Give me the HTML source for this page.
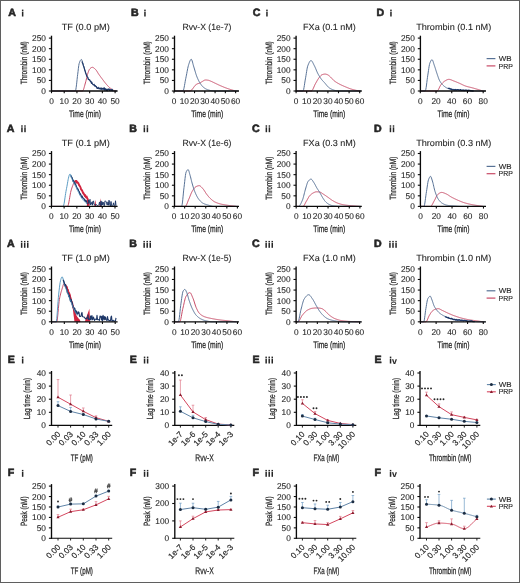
<!DOCTYPE html>
<html><head><meta charset="utf-8"><style>
html,body{margin:0;padding:0;background:#fff;}
body{width:520px;height:583px;overflow:hidden;}
svg{display:block;will-change:transform;text-rendering:geometricPrecision;font-family:"Liberation Sans", sans-serif;}
</style></head><body>
<svg width="520" height="583" viewBox="0 0 520 583">
<rect x="0" y="0" width="520" height="583" fill="#fff"/>
<text x="8.2" y="16" font-size="10.6" text-anchor="start" font-weight="bold" fill="#262626" stroke="#262626" stroke-width="0.6">A</text>
<rect x="21.9" y="11.6" width="1.5" height="4.9" fill="#262626"/>
<rect x="21.9" y="9.6" width="1.5" height="1.45" fill="#262626"/>
<text x="85.75" y="30.1" font-size="8.9" text-anchor="middle" fill="#262626" stroke="#262626" stroke-width="0.1" textLength="48" lengthAdjust="spacingAndGlyphs">TF (0.0 pM)</text>
<path d="M51.5 91 L51.8 91 L52.1 91 L52.4 91 L52.7 91 L53 91 L53.31 91 L53.61 91 L53.91 91 L54.21 91 L54.51 91 L54.81 91 L55.11 91 L55.41 91 L55.71 91 L56.01 91 L56.32 91 L56.62 91 L56.92 91 L57.22 91 L57.52 91 L57.82 91 L58.12 91 L58.42 91 L58.72 91 L59.02 91 L59.33 91 L59.63 91 L59.93 91 L60.23 91 L60.53 91 L60.83 91 L61.13 91 L61.43 91 L61.73 91 L62.03 91 L62.33 91 L62.64 91 L62.94 91 L63.24 91 L63.54 91 L63.84 91 L64.14 91 L64.44 91 L64.74 91 L65.04 91 L65.34 91 L65.65 91 L65.95 91 L66.25 91 L66.55 91 L66.85 91 L67.15 91 L67.45 91 L67.75 91 L68.05 91 L68.35 91 L68.66 91 L68.96 91 L69.26 91 L69.56 91 L69.86 91 L70.16 91 L70.46 91 L70.76 91 L71.06 91 L71.36 91 L71.67 91 L71.97 91 L72.27 91 L72.57 91 L72.87 91 L73.17 91 L73.47 91 L73.77 91 L74.07 91 L74.37 91 L74.67 91 L74.98 91 L75.28 91 L75.58 91 L75.88 91 L76.18 91 L76.48 91 L76.78 91 L77.08 91 L77.38 91 L77.68 91 L77.99 91 L78.29 91 L78.59 91 L78.89 91 L79.19 91 L79.49 91 L79.79 91 L80.09 91 L80.39 91 L80.69 91 L81 91 L81.3 91 L81.6 91 L81.9 91 L82.2 91 L82.5 91 L82.82 90.83 L83.14 90.35 L83.47 89.62 L83.79 88.69 L84.11 87.62 L84.43 86.45 L84.76 85.25 L85.08 84.07 L85.4 82.96 L85.74 81.73 L86.09 80.33 L86.43 78.84 L86.77 77.34 L87.11 75.88 L87.46 74.56 L87.8 73.44 L88.12 72.51 L88.43 71.61 L88.75 70.77 L89.07 70.03 L89.38 69.43 L89.7 68.99 L90.03 68.66 L90.35 68.35 L90.67 68.06 L91 67.81 L91.33 67.6 L91.65 67.44 L91.97 67.34 L92.3 67.3 L92.62 67.33 L92.94 67.43 L93.26 67.57 L93.58 67.77 L93.9 67.99 L94.22 68.25 L94.54 68.53 L94.86 68.82 L95.18 69.12 L95.5 69.42 L95.83 69.75 L96.16 70.16 L96.49 70.62 L96.82 71.11 L97.15 71.64 L97.48 72.19 L97.81 72.74 L98.14 73.28 L98.47 73.8 L98.8 74.28 L99.1 74.71 L99.4 75.13 L99.7 75.54 L100 75.95 L100.3 76.37 L100.6 76.77 L100.9 77.18 L101.2 77.58 L101.5 77.98 L101.8 78.38 L102.1 78.78 L102.4 79.18 L102.7 79.57 L103.02 79.99 L103.33 80.42 L103.65 80.84 L103.97 81.26 L104.28 81.69 L104.6 82.11 L104.92 82.52 L105.23 82.93 L105.55 83.32 L105.87 83.71 L106.18 84.08 L106.5 84.44 L106.8 84.77 L107.1 85.1 L107.4 85.43 L107.7 85.75 L108 86.06 L108.3 86.37 L108.6 86.67 L108.9 86.96 L109.2 87.24 L109.5 87.51 L109.8 87.77 L110.1 88.02 L110.4 88.25 L110.72 88.49 L111.03 88.72 L111.35 88.96 L111.67 89.19 L111.98 89.41 L112.3 89.62 L112.62 89.82 L112.93 90 L113.25 90.17 L113.57 90.33 L113.88 90.46 L114.2 90.58 L114.56 90.68 L114.92 90.77 L115.28 90.85 L115.64 90.92 L116 91" fill="none" stroke="#c84a66" stroke-width="1"/>
<path d="M51.5 91 L51.8 91 L52.1 91 L52.4 91 L52.71 91 L53.01 91 L53.31 91 L53.61 91 L53.91 91 L54.21 91 L54.51 91 L54.81 91 L55.12 91 L55.42 91 L55.72 91 L56.02 91 L56.32 91 L56.62 91 L56.92 91 L57.22 91 L57.53 91 L57.83 91 L58.13 91 L58.43 91 L58.73 91 L59.03 91 L59.33 91 L59.63 91 L59.94 91 L60.24 91 L60.54 91 L60.84 91 L61.14 91 L61.44 91 L61.74 91 L62.04 91 L62.35 91 L62.65 91 L62.95 91 L63.25 91 L63.55 91 L63.85 91 L64.15 91 L64.45 91 L64.76 91 L65.06 91 L65.36 91 L65.66 91 L65.96 91 L66.26 91 L66.56 91 L66.86 91 L67.17 91 L67.47 91 L67.77 91 L68.07 91 L68.37 91 L68.67 91 L68.97 91 L69.27 91 L69.58 91 L69.88 91 L70.18 91 L70.48 91 L70.78 91 L71.08 91 L71.38 91 L71.68 91 L71.99 91 L72.29 91 L72.59 91 L72.89 91 L73.19 91 L73.49 91 L73.79 91 L74.09 91 L74.4 91 L74.7 91 L75 91 L75.3 91 L75.6 90.52 L75.9 89.21 L76.2 87.25 L76.5 84.82 L76.8 82.13 L77.1 79.35 L77.4 76.67 L77.7 74.28 L78.05 71.41 L78.4 68.27 L78.75 65.5 L79.1 63.7 L79.42 62.72 L79.74 61.83 L80.06 61.04 L80.39 60.39 L80.71 59.9 L81.03 59.58 L81.35 59.47 L81.66 59.7 L81.96 60.31 L82.27 61.2 L82.58 62.28 L82.89 63.44 L83.19 64.58 L83.5 65.61 L83.8 66.56 L84.1 67.56 L84.4 68.6 L84.7 69.65 L85 70.68 L85.3 71.67 L85.6 72.6 L85.9 73.44 L86.24 74.33 L86.59 75.18 L86.93 76 L87.27 76.77 L87.61 77.49 L87.96 78.14 L88.3 78.73 L88.62 79.23 L88.94 79.69 L89.27 80.12 L89.59 80.53 L89.91 80.92 L90.23 81.29 L90.56 81.64 L90.88 81.99 L91.2 82.32 L91.52 82.65 L91.83 82.97 L92.15 83.28 L92.47 83.58 L92.78 83.87 L93.1 84.15 L93.42 84.43 L93.73 84.7 L94.05 84.96 L94.37 85.22 L94.68 85.47 L95 85.71 L95.32 85.96 L95.63 86.21 L95.95 86.46 L96.27 86.72 L96.58 86.97 L96.9 87.21 L97.22 87.44 L97.53 87.65 L97.85 87.84 L98.17 88 L98.48 88.14 L98.8 88.25 L99.11 88.33 L99.41 88.41 L99.72 88.48 L100.03 88.54 L100.33 88.6 L100.64 88.65 L100.94 88.7 L101.25 88.75 L101.56 88.79 L101.86 88.84 L102.17 88.88 L102.47 88.92 L102.78 88.96 L103.09 89 L103.39 89.05 L103.7 89.1 L104 89.14 L104.31 89.19 L104.61 89.23 L104.92 89.27 L105.22 89.32 L105.53 89.36 L105.83 89.4 L106.14 89.44 L106.44 89.48 L106.75 89.52 L107.05 89.55 L107.35 89.59 L107.66 89.63 L107.96 89.68 L108.27 89.72 L108.57 89.76 L108.88 89.8 L109.18 89.85 L109.49 89.9 L109.79 89.94 L110.1 89.99 L110.4 90.05 L110.72 90.11 L111.03 90.18 L111.35 90.26 L111.67 90.35 L111.98 90.44 L112.3 90.53 L112.62 90.61 L112.93 90.69 L113.25 90.76 L113.57 90.82 L113.88 90.87 L114.2 90.89 L114.51 90.91 L114.82 90.93 L115.13 90.94 L115.44 90.95 L115.76 90.96 L116.07 90.97 L116.38 90.98 L116.69 90.99 L117 91" fill="none" stroke="#587296" stroke-width="1"/>
<polyline points="82,61.51 82.45,62.98 82.9,63.74 83.35,65.64 83.8,66.55 84.25,68.2 84.7,70.03 85.15,70.98 85.6,73.01 86.05,73.85 86.5,75.3 86.95,76.28 87.4,76.84 87.85,77.29 88.3,79.26 88.75,79.69 89.2,79.65 89.65,79.72 90.1,80.84 90.55,81.68 91,81.28 91.45,83.32 91.9,82.32 92.35,83.73 92.8,84.42 93.25,84.89 93.7,84.94 94.15,84.29 94.6,86.05 95.05,85.56 95.5,85.71 95.95,86.66 96.4,86.52 96.85,88.11 97.3,88.42 97.75,88.33 98.2,87.37 98.65,88.34 99.1,88.8 99.55,88.15 100,88.58 100.45,89.07 100.9,87.83 101.35,88.16 101.8,89.45 102.25,88.65 102.7,88.86 103.15,88 103.6,88.47 104.05,89.71 104.5,87.93 104.95,90.29 105.4,89.56 105.85,88.72 106.3,90.39 106.75,89.56 107.2,90.82 107.65,89.21 108.1,89.02 108.55,89.59 109,88.85 109.45,90.41 109.9,89.46 110.35,89.79 110.8,89.92 111.25,90.35 111.7,89.43 112.15,89.25 112.6,90.61 113.05,90.2" fill="none" stroke="#1d3768" stroke-width="1.15" stroke-linejoin="round"/>
<line x1="51.5" y1="35.7" x2="51.5" y2="91.5" stroke="#0a0a0a" stroke-width="1.35"/>
<line x1="48.9" y1="91" x2="51.5" y2="91" stroke="#0a0a0a" stroke-width="1.1"/>
<text x="45.9" y="93.99" font-size="8.3" text-anchor="end" fill="#262626" stroke="#262626" stroke-width="0.1">0</text>
<line x1="48.9" y1="80.42" x2="51.5" y2="80.42" stroke="#0a0a0a" stroke-width="1.1"/>
<text x="45.9" y="83.41" font-size="8.3" text-anchor="end" fill="#262626" stroke="#262626" stroke-width="0.1">50</text>
<line x1="48.9" y1="69.84" x2="51.5" y2="69.84" stroke="#0a0a0a" stroke-width="1.1"/>
<text x="45.9" y="72.83" font-size="8.3" text-anchor="end" fill="#262626" stroke="#262626" stroke-width="0.1">100</text>
<line x1="48.9" y1="59.26" x2="51.5" y2="59.26" stroke="#0a0a0a" stroke-width="1.1"/>
<text x="45.9" y="62.25" font-size="8.3" text-anchor="end" fill="#262626" stroke="#262626" stroke-width="0.1">150</text>
<line x1="48.9" y1="48.68" x2="51.5" y2="48.68" stroke="#0a0a0a" stroke-width="1.1"/>
<text x="45.9" y="51.67" font-size="8.3" text-anchor="end" fill="#262626" stroke="#262626" stroke-width="0.1">200</text>
<line x1="48.9" y1="38.1" x2="51.5" y2="38.1" stroke="#0a0a0a" stroke-width="1.1"/>
<text x="45.9" y="41.09" font-size="8.3" text-anchor="end" fill="#262626" stroke="#262626" stroke-width="0.1">250</text>
<text transform="translate(26.9 62.75) rotate(-90)" x="0" y="0" font-size="9" text-anchor="middle" fill="#262626" stroke="#262626" stroke-width="0.25" textLength="43.1" lengthAdjust="spacingAndGlyphs">Thrombin (nM)</text>
<line x1="51" y1="91" x2="117.6" y2="91" stroke="#0a0a0a" stroke-width="1.35"/>
<line x1="51.5" y1="91" x2="51.5" y2="93.2" stroke="#0a0a0a" stroke-width="1.1"/>
<text x="51.5" y="103.7" font-size="8.3" text-anchor="middle" fill="#262626" stroke="#262626" stroke-width="0.1">0</text>
<line x1="64.22" y1="91" x2="64.22" y2="93.2" stroke="#0a0a0a" stroke-width="1.1"/>
<text x="64.22" y="103.7" font-size="8.3" text-anchor="middle" fill="#262626" stroke="#262626" stroke-width="0.1">10</text>
<line x1="76.94" y1="91" x2="76.94" y2="93.2" stroke="#0a0a0a" stroke-width="1.1"/>
<text x="76.94" y="103.7" font-size="8.3" text-anchor="middle" fill="#262626" stroke="#262626" stroke-width="0.1">20</text>
<line x1="89.66" y1="91" x2="89.66" y2="93.2" stroke="#0a0a0a" stroke-width="1.1"/>
<text x="89.66" y="103.7" font-size="8.3" text-anchor="middle" fill="#262626" stroke="#262626" stroke-width="0.1">30</text>
<line x1="102.38" y1="91" x2="102.38" y2="93.2" stroke="#0a0a0a" stroke-width="1.1"/>
<text x="102.38" y="103.7" font-size="8.3" text-anchor="middle" fill="#262626" stroke="#262626" stroke-width="0.1">40</text>
<line x1="115.1" y1="91" x2="115.1" y2="93.2" stroke="#0a0a0a" stroke-width="1.1"/>
<text x="115.1" y="103.7" font-size="8.3" text-anchor="middle" fill="#262626" stroke="#262626" stroke-width="0.1">50</text>
<text x="84.95" y="116.7" font-size="9.6" text-anchor="middle" fill="#262626" stroke="#262626" stroke-width="0.25" textLength="32" lengthAdjust="spacingAndGlyphs">Time (min)</text>
<text x="131.1" y="16" font-size="10.6" text-anchor="start" font-weight="bold" fill="#262626" stroke="#262626" stroke-width="0.6">B</text>
<rect x="144.2" y="11.6" width="1.5" height="4.9" fill="#262626"/>
<rect x="144.2" y="9.6" width="1.5" height="1.45" fill="#262626"/>
<text x="206.95" y="30.1" font-size="8.9" text-anchor="middle" fill="#262626" stroke="#262626" stroke-width="0.1" textLength="49" lengthAdjust="spacingAndGlyphs">Rvv-X (1e-7)</text>
<path d="M174.5 91 L174.8 91 L175.1 91 L175.4 91 L175.7 91 L176 91 L176.3 91 L176.6 91 L176.9 91 L177.2 91 L177.5 91 L177.8 91 L178.1 91 L178.4 91 L178.7 91 L179 91 L179.3 91 L179.6 91 L179.9 91 L180.2 91 L180.5 91 L180.8 91 L181.1 91 L181.4 91 L181.7 91 L182 91 L182.3 91 L182.6 91 L182.9 91 L183.2 91 L183.5 91 L183.8 91 L184.1 91 L184.4 91 L184.7 91 L185 91 L185.3 91 L185.6 91 L185.9 91 L186.2 91 L186.5 91 L186.8 91 L187.1 91 L187.4 91 L187.7 91 L188 91 L188.3 91 L188.6 91 L188.9 91 L189.2 91 L189.5 91 L189.8 91 L190.14 90.95 L190.48 90.82 L190.82 90.62 L191.16 90.4 L191.5 90.15 L191.83 89.86 L192.17 89.47 L192.5 89.02 L192.83 88.54 L193.17 88.06 L193.5 87.61 L193.83 87.17 L194.17 86.71 L194.5 86.24 L194.83 85.8 L195.17 85.4 L195.5 85.08 L195.83 84.8 L196.17 84.56 L196.5 84.33 L196.83 84.13 L197.17 83.96 L197.5 83.81 L197.83 83.68 L198.17 83.58 L198.5 83.48 L198.83 83.39 L199.17 83.29 L199.5 83.17 L199.81 83.03 L200.12 82.86 L200.44 82.67 L200.75 82.47 L201.06 82.26 L201.38 82.06 L201.69 81.87 L202 81.69 L202.32 81.51 L202.64 81.31 L202.95 81.11 L203.27 80.9 L203.59 80.7 L203.91 80.52 L204.23 80.35 L204.55 80.2 L204.86 80.09 L205.18 80.02 L205.5 80 L205.81 80 L206.12 80.01 L206.44 80.03 L206.75 80.06 L207.06 80.09 L207.38 80.13 L207.69 80.17 L208 80.21 L208.3 80.26 L208.6 80.33 L208.9 80.42 L209.2 80.52 L209.5 80.64 L209.8 80.76 L210.1 80.89 L210.4 81.02 L210.7 81.14 L211 81.27 L211.33 81.4 L211.65 81.54 L211.98 81.69 L212.31 81.85 L212.64 82 L212.96 82.16 L213.29 82.32 L213.62 82.48 L213.95 82.64 L214.27 82.8 L214.6 82.96 L214.9 83.1 L215.2 83.24 L215.5 83.39 L215.8 83.53 L216.1 83.67 L216.4 83.82 L216.7 83.96 L217 84.11 L217.3 84.25 L217.6 84.39 L217.9 84.54 L218.2 84.68 L218.5 84.82 L218.8 84.96 L219.1 85.1 L219.4 85.23 L219.7 85.37 L220 85.5 L220.31 85.63 L220.62 85.77 L220.93 85.9 L221.24 86.04 L221.55 86.17 L221.86 86.3 L222.17 86.43 L222.48 86.56 L222.79 86.69 L223.1 86.82 L223.41 86.95 L223.72 87.08 L224.03 87.2 L224.34 87.33 L224.65 87.45 L224.96 87.57 L225.27 87.69 L225.58 87.81 L225.89 87.92 L226.2 88.04 L226.5 88.15 L226.8 88.26 L227.1 88.36 L227.4 88.47 L227.7 88.57 L228 88.68 L228.3 88.78 L228.6 88.88 L228.9 88.98 L229.2 89.08 L229.5 89.18 L229.8 89.28 L230.1 89.37 L230.4 89.47 L230.7 89.56 L231 89.66 L231.3 89.75 L231.6 89.85 L231.9 89.94 L232.23 90.04 L232.55 90.14 L232.88 90.24 L233.21 90.34 L233.54 90.43 L233.86 90.53 L234.19 90.62 L234.52 90.71 L234.85 90.81 L235.17 90.9 L235.5 91" fill="none" stroke="#c84a66" stroke-width="1"/>
<path d="M174.5 91 L174.8 91 L175.1 91 L175.4 91 L175.7 91 L176 91 L176.3 91 L176.6 91 L176.9 91 L177.2 91 L177.5 91 L177.8 91 L178.1 91 L178.4 91 L178.7 91 L179 91 L179.3 91 L179.6 91 L179.9 91 L180.2 91 L180.5 91 L180.8 91 L181.1 91 L181.4 91 L181.7 91 L182 91 L182.3 91 L182.6 91 L182.9 91 L183.22 90.71 L183.54 89.9 L183.87 88.69 L184.19 87.15 L184.51 85.41 L184.83 83.55 L185.16 81.68 L185.48 79.9 L185.8 78.3 L186.12 76.77 L186.44 75.12 L186.77 73.4 L187.09 71.68 L187.41 69.99 L187.73 68.38 L188.06 66.91 L188.38 65.61 L188.7 64.55 L189.01 63.63 L189.32 62.7 L189.64 61.81 L189.95 61 L190.26 60.3 L190.57 59.75 L190.89 59.39 L191.2 59.26 L191.52 59.48 L191.85 60.08 L192.18 60.97 L192.5 62.07 L192.82 63.3 L193.15 64.57 L193.48 65.79 L193.8 66.88 L194.12 67.9 L194.44 68.96 L194.77 70.06 L195.09 71.17 L195.41 72.26 L195.73 73.34 L196.06 74.36 L196.38 75.32 L196.7 76.19 L197.02 77 L197.34 77.77 L197.67 78.52 L197.99 79.24 L198.31 79.92 L198.63 80.57 L198.96 81.19 L199.28 81.78 L199.6 82.32 L199.92 82.84 L200.24 83.35 L200.55 83.85 L200.87 84.32 L201.19 84.78 L201.51 85.22 L201.83 85.63 L202.15 86.02 L202.46 86.37 L202.78 86.69 L203.1 86.98 L203.41 87.23 L203.71 87.48 L204.02 87.71 L204.33 87.94 L204.63 88.15 L204.94 88.36 L205.25 88.55 L205.55 88.74 L205.86 88.91 L206.17 89.08 L206.47 89.23 L206.78 89.37 L207.09 89.5 L207.39 89.62 L207.7 89.73 L208.01 89.83 L208.31 89.93 L208.62 90.02 L208.93 90.11 L209.23 90.19 L209.54 90.27 L209.85 90.35 L210.15 90.42 L210.46 90.49 L210.77 90.55 L211.07 90.61 L211.38 90.66 L211.69 90.71 L211.99 90.75 L212.3 90.79 L212.64 90.83 L212.98 90.86 L213.31 90.9 L213.65 90.93 L213.99 90.96 L214.32 90.98 L214.66 91 L215 91 L215.3 91 L215.61 91 L215.91 91 L216.21 91 L216.51 91 L216.82 91 L217.12 91 L217.42 91 L217.72 91 L218.03 91 L218.33 91 L218.63 91 L218.93 91 L219.24 91 L219.54 91 L219.84 91 L220.14 91 L220.45 91 L220.75 91 L221.05 91 L221.36 91 L221.66 91 L221.96 91 L222.26 91 L222.57 91 L222.87 91 L223.17 91 L223.47 91 L223.78 91 L224.08 91 L224.38 91 L224.68 91 L224.99 91 L225.29 91 L225.59 91 L225.89 91 L226.2 91 L226.5 91 L226.8 91 L227.11 91 L227.41 91 L227.71 91 L228.01 91 L228.32 91 L228.62 91 L228.92 91 L229.22 91 L229.53 91 L229.83 91 L230.13 91 L230.43 91 L230.74 91 L231.04 91 L231.34 91 L231.64 91 L231.95 91 L232.25 91 L232.55 91 L232.86 91 L233.16 91 L233.46 91 L233.76 91 L234.07 91 L234.37 91 L234.67 91 L234.97 91 L235.28 91 L235.58 91 L235.88 91 L236.18 91 L236.49 91 L236.79 91 L237.09 91 L237.39 91 L237.7 91 L238 91" fill="none" stroke="#587296" stroke-width="1"/>
<line x1="174.5" y1="35.7" x2="174.5" y2="91.5" stroke="#0a0a0a" stroke-width="1.35"/>
<line x1="171.9" y1="91" x2="174.5" y2="91" stroke="#0a0a0a" stroke-width="1.1"/>
<text x="168.9" y="93.99" font-size="8.3" text-anchor="end" fill="#262626" stroke="#262626" stroke-width="0.1">0</text>
<line x1="171.9" y1="80.42" x2="174.5" y2="80.42" stroke="#0a0a0a" stroke-width="1.1"/>
<text x="168.9" y="83.41" font-size="8.3" text-anchor="end" fill="#262626" stroke="#262626" stroke-width="0.1">50</text>
<line x1="171.9" y1="69.84" x2="174.5" y2="69.84" stroke="#0a0a0a" stroke-width="1.1"/>
<text x="168.9" y="72.83" font-size="8.3" text-anchor="end" fill="#262626" stroke="#262626" stroke-width="0.1">100</text>
<line x1="171.9" y1="59.26" x2="174.5" y2="59.26" stroke="#0a0a0a" stroke-width="1.1"/>
<text x="168.9" y="62.25" font-size="8.3" text-anchor="end" fill="#262626" stroke="#262626" stroke-width="0.1">150</text>
<line x1="171.9" y1="48.68" x2="174.5" y2="48.68" stroke="#0a0a0a" stroke-width="1.1"/>
<text x="168.9" y="51.67" font-size="8.3" text-anchor="end" fill="#262626" stroke="#262626" stroke-width="0.1">200</text>
<line x1="171.9" y1="38.1" x2="174.5" y2="38.1" stroke="#0a0a0a" stroke-width="1.1"/>
<text x="168.9" y="41.09" font-size="8.3" text-anchor="end" fill="#262626" stroke="#262626" stroke-width="0.1">250</text>
<text transform="translate(149.9 62.75) rotate(-90)" x="0" y="0" font-size="9" text-anchor="middle" fill="#262626" stroke="#262626" stroke-width="0.25" textLength="43.1" lengthAdjust="spacingAndGlyphs">Thrombin (nM)</text>
<line x1="174" y1="91" x2="239" y2="91" stroke="#0a0a0a" stroke-width="1.35"/>
<line x1="174" y1="91" x2="174" y2="93.2" stroke="#0a0a0a" stroke-width="1.1"/>
<text x="174" y="103.7" font-size="8.3" text-anchor="middle" fill="#262626" stroke="#262626" stroke-width="0.1">0</text>
<line x1="184.27" y1="91" x2="184.27" y2="93.2" stroke="#0a0a0a" stroke-width="1.1"/>
<text x="184.27" y="103.7" font-size="8.3" text-anchor="middle" fill="#262626" stroke="#262626" stroke-width="0.1">10</text>
<line x1="194.54" y1="91" x2="194.54" y2="93.2" stroke="#0a0a0a" stroke-width="1.1"/>
<text x="194.54" y="103.7" font-size="8.3" text-anchor="middle" fill="#262626" stroke="#262626" stroke-width="0.1">20</text>
<line x1="204.81" y1="91" x2="204.81" y2="93.2" stroke="#0a0a0a" stroke-width="1.1"/>
<text x="204.81" y="103.7" font-size="8.3" text-anchor="middle" fill="#262626" stroke="#262626" stroke-width="0.1">30</text>
<line x1="215.08" y1="91" x2="215.08" y2="93.2" stroke="#0a0a0a" stroke-width="1.1"/>
<text x="215.08" y="103.7" font-size="8.3" text-anchor="middle" fill="#262626" stroke="#262626" stroke-width="0.1">40</text>
<line x1="225.35" y1="91" x2="225.35" y2="93.2" stroke="#0a0a0a" stroke-width="1.1"/>
<text x="225.35" y="103.7" font-size="8.3" text-anchor="middle" fill="#262626" stroke="#262626" stroke-width="0.1">50</text>
<line x1="235.62" y1="91" x2="235.62" y2="93.2" stroke="#0a0a0a" stroke-width="1.1"/>
<text x="235.62" y="103.7" font-size="8.3" text-anchor="middle" fill="#262626" stroke="#262626" stroke-width="0.1">60</text>
<text x="207.15" y="116.7" font-size="9.6" text-anchor="middle" fill="#262626" stroke="#262626" stroke-width="0.25" textLength="32" lengthAdjust="spacingAndGlyphs">Time (min)</text>
<text x="252.8" y="16" font-size="10.6" text-anchor="start" font-weight="bold" fill="#262626" stroke="#262626" stroke-width="0.6">C</text>
<rect x="266.2" y="11.6" width="1.5" height="4.9" fill="#262626"/>
<rect x="266.2" y="9.6" width="1.5" height="1.45" fill="#262626"/>
<text x="329.45" y="30.1" font-size="8.9" text-anchor="middle" fill="#262626" stroke="#262626" stroke-width="0.1" textLength="52.7" lengthAdjust="spacingAndGlyphs">FXa (0.1 nM)</text>
<path d="M296.1 91 L296.4 91 L296.71 91 L297.01 91 L297.32 91 L297.62 91 L297.92 91 L298.23 91 L298.53 91 L298.84 91 L299.14 91 L299.44 91 L299.75 91 L300.05 91 L300.36 91 L300.66 91 L300.96 91 L301.27 91 L301.57 91 L301.88 91 L302.18 91 L302.48 91 L302.79 91 L303.09 91 L303.4 91 L303.7 91 L304 91 L304.31 91 L304.61 91 L304.92 91 L305.22 91 L305.52 91 L305.83 91 L306.13 91 L306.44 91 L306.74 91 L307.04 91 L307.35 91 L307.65 91 L307.96 91 L308.26 91 L308.56 91 L308.87 91 L309.17 91 L309.48 91 L309.78 91 L310.08 91 L310.39 91 L310.69 91 L311 91 L311.3 91 L311.62 90.91 L311.95 90.67 L312.27 90.29 L312.59 89.8 L312.92 89.21 L313.24 88.54 L313.56 87.83 L313.88 87.08 L314.21 86.32 L314.53 85.57 L314.85 84.85 L315.18 84.19 L315.5 83.59 L315.8 83.08 L316.1 82.55 L316.4 82.01 L316.7 81.48 L317 80.94 L317.3 80.42 L317.6 79.9 L317.9 79.41 L318.2 78.93 L318.5 78.48 L318.8 78.06 L319.1 77.67 L319.4 77.3 L319.7 76.92 L320 76.56 L320.3 76.2 L320.6 75.86 L320.9 75.55 L321.2 75.27 L321.5 75.03 L321.8 74.84 L322.1 74.71 L322.42 74.59 L322.74 74.49 L323.07 74.39 L323.39 74.3 L323.71 74.22 L324.03 74.16 L324.36 74.11 L324.68 74.08 L325 74.07 L325.31 74.09 L325.62 74.13 L325.94 74.19 L326.25 74.27 L326.56 74.37 L326.88 74.48 L327.19 74.59 L327.5 74.71 L327.8 74.84 L328.1 75.01 L328.4 75.21 L328.7 75.44 L329 75.68 L329.3 75.94 L329.6 76.21 L329.9 76.49 L330.2 76.77 L330.5 77.03 L330.82 77.33 L331.14 77.65 L331.45 77.98 L331.77 78.33 L332.09 78.69 L332.41 79.05 L332.73 79.4 L333.05 79.74 L333.36 80.06 L333.68 80.36 L334 80.63 L334.31 80.88 L334.62 81.12 L334.94 81.35 L335.25 81.57 L335.56 81.79 L335.87 82 L336.18 82.2 L336.49 82.4 L336.81 82.6 L337.12 82.79 L337.43 82.97 L337.74 83.15 L338.05 83.33 L338.36 83.51 L338.68 83.68 L338.99 83.85 L339.3 84.02 L339.6 84.18 L339.9 84.33 L340.2 84.48 L340.5 84.63 L340.8 84.78 L341.1 84.92 L341.4 85.07 L341.7 85.21 L342 85.34 L342.3 85.48 L342.6 85.61 L342.9 85.75 L343.2 85.88 L343.5 86.01 L343.8 86.13 L344.1 86.26 L344.4 86.39 L344.7 86.52 L345 86.64 L345.3 86.77 L345.6 86.89 L345.9 87.02 L346.2 87.15 L346.5 87.27 L346.8 87.4 L347.1 87.53 L347.4 87.65 L347.7 87.77 L348 87.9 L348.3 88.02 L348.6 88.14 L348.9 88.26 L349.2 88.37 L349.5 88.48 L349.8 88.59 L350.1 88.7 L350.4 88.8 L350.7 88.91 L351 89 L351.3 89.1 L351.61 89.19 L351.92 89.28 L352.23 89.37 L352.54 89.46 L352.85 89.55 L353.16 89.64 L353.47 89.72 L353.78 89.8 L354.09 89.89 L354.41 89.96 L354.72 90.04 L355.03 90.12 L355.34 90.19 L355.65 90.26 L355.96 90.33 L356.27 90.39 L356.58 90.46 L356.89 90.52 L357.2 90.58 L357.51 90.63 L357.82 90.68 L358.13 90.73 L358.44 90.78 L358.76 90.82 L359.07 90.87 L359.38 90.91 L359.69 90.95 L360 91" fill="none" stroke="#c84a66" stroke-width="1"/>
<path d="M296.1 91 L296.41 91 L296.73 91 L297.04 91 L297.35 91 L297.67 91 L297.98 91 L298.3 91 L298.61 91 L298.92 91 L299.24 91 L299.55 91 L299.86 91 L300.18 91 L300.49 91 L300.8 91 L301.12 91 L301.43 91 L301.75 91 L302.06 91 L302.37 91 L302.69 91 L303 91 L303.34 90.55 L303.69 89.34 L304.03 87.57 L304.37 85.44 L304.71 83.16 L305.06 80.93 L305.4 78.94 L305.7 77.26 L306 75.41 L306.3 73.5 L306.6 71.59 L306.9 69.78 L307.2 68.16 L307.5 66.81 L307.8 65.82 L308.12 65 L308.44 64.2 L308.76 63.45 L309.08 62.76 L309.4 62.13 L309.72 61.59 L310.04 61.15 L310.36 60.81 L310.68 60.6 L311 60.53 L311.3 60.6 L311.6 60.81 L311.9 61.13 L312.2 61.55 L312.5 62.05 L312.8 62.6 L313.1 63.2 L313.4 63.82 L313.7 64.44 L314 65.04 L314.3 65.61 L314.63 66.24 L314.95 66.92 L315.28 67.66 L315.61 68.43 L315.94 69.21 L316.26 70.01 L316.59 70.8 L316.92 71.57 L317.25 72.31 L317.57 73.01 L317.9 73.65 L318.2 74.2 L318.5 74.74 L318.8 75.26 L319.1 75.78 L319.4 76.28 L319.7 76.76 L320 77.23 L320.3 77.69 L320.6 78.13 L320.9 78.56 L321.2 78.97 L321.5 79.36 L321.82 79.76 L322.14 80.14 L322.47 80.5 L322.79 80.85 L323.11 81.19 L323.43 81.52 L323.76 81.85 L324.08 82.19 L324.4 82.54 L324.7 82.87 L325 83.22 L325.3 83.58 L325.6 83.95 L325.9 84.32 L326.2 84.7 L326.5 85.07 L326.8 85.44 L327.1 85.79 L327.4 86.14 L327.7 86.48 L328 86.79 L328.3 87.09 L328.6 87.36 L328.9 87.61 L329.2 87.83 L329.5 88.02 L329.8 88.21 L330.1 88.4 L330.4 88.57 L330.7 88.74 L331 88.9 L331.3 89.06 L331.6 89.2 L331.9 89.34 L332.2 89.48 L332.5 89.6 L332.8 89.73 L333.1 89.84 L333.4 89.95 L333.7 90.06 L334 90.15 L334.3 90.25 L334.6 90.35 L334.9 90.44 L335.2 90.53 L335.5 90.62 L335.8 90.7 L336.1 90.77 L336.4 90.82 L336.7 90.87 L337 90.89 L337.3 90.91 L337.6 90.93 L337.9 90.94 L338.2 90.96 L338.5 90.97 L338.8 90.98 L339.1 90.99 L339.4 90.99 L339.7 91 L340 91 L340.3 91 L340.6 91 L340.9 91 L341.2 91 L341.5 91 L341.8 91 L342.1 91 L342.4 91 L342.7 91 L343 91 L343.3 91 L343.6 91 L343.9 91 L344.2 91 L344.5 91 L344.8 91 L345.1 91 L345.4 91 L345.7 91 L346 91 L346.3 91 L346.6 91 L346.9 91 L347.2 91 L347.5 91 L347.8 91 L348.1 91 L348.4 91 L348.7 91 L349 91 L349.3 91 L349.6 91 L349.9 91 L350.2 91 L350.5 91 L350.8 91 L351.1 91 L351.4 91 L351.7 91 L352 91 L352.3 91 L352.6 91 L352.9 91 L353.2 91 L353.5 91 L353.8 91 L354.1 91 L354.4 91 L354.7 91 L355 91 L355.3 91 L355.6 91 L355.9 91 L356.2 91 L356.5 91 L356.8 91 L357.1 91 L357.4 91 L357.7 91 L358 91 L358.3 91 L358.6 91 L358.9 91 L359.2 91 L359.5 91 L359.8 91 L360.1 91 L360.4 91 L360.7 91 L361 91" fill="none" stroke="#587296" stroke-width="1"/>
<line x1="296.1" y1="35.7" x2="296.1" y2="91.5" stroke="#0a0a0a" stroke-width="1.35"/>
<line x1="293.5" y1="91" x2="296.1" y2="91" stroke="#0a0a0a" stroke-width="1.1"/>
<text x="290.5" y="93.99" font-size="8.3" text-anchor="end" fill="#262626" stroke="#262626" stroke-width="0.1">0</text>
<line x1="293.5" y1="80.42" x2="296.1" y2="80.42" stroke="#0a0a0a" stroke-width="1.1"/>
<text x="290.5" y="83.41" font-size="8.3" text-anchor="end" fill="#262626" stroke="#262626" stroke-width="0.1">50</text>
<line x1="293.5" y1="69.84" x2="296.1" y2="69.84" stroke="#0a0a0a" stroke-width="1.1"/>
<text x="290.5" y="72.83" font-size="8.3" text-anchor="end" fill="#262626" stroke="#262626" stroke-width="0.1">100</text>
<line x1="293.5" y1="59.26" x2="296.1" y2="59.26" stroke="#0a0a0a" stroke-width="1.1"/>
<text x="290.5" y="62.25" font-size="8.3" text-anchor="end" fill="#262626" stroke="#262626" stroke-width="0.1">150</text>
<line x1="293.5" y1="48.68" x2="296.1" y2="48.68" stroke="#0a0a0a" stroke-width="1.1"/>
<text x="290.5" y="51.67" font-size="8.3" text-anchor="end" fill="#262626" stroke="#262626" stroke-width="0.1">200</text>
<line x1="293.5" y1="38.1" x2="296.1" y2="38.1" stroke="#0a0a0a" stroke-width="1.1"/>
<text x="290.5" y="41.09" font-size="8.3" text-anchor="end" fill="#262626" stroke="#262626" stroke-width="0.1">250</text>
<text transform="translate(271.5 62.75) rotate(-90)" x="0" y="0" font-size="9" text-anchor="middle" fill="#262626" stroke="#262626" stroke-width="0.25" textLength="43.1" lengthAdjust="spacingAndGlyphs">Thrombin (nM)</text>
<line x1="295.6" y1="91" x2="361.8" y2="91" stroke="#0a0a0a" stroke-width="1.35"/>
<line x1="296.1" y1="91" x2="296.1" y2="93.2" stroke="#0a0a0a" stroke-width="1.1"/>
<text x="296.1" y="103.7" font-size="8.3" text-anchor="middle" fill="#262626" stroke="#262626" stroke-width="0.1">0</text>
<line x1="306.7" y1="91" x2="306.7" y2="93.2" stroke="#0a0a0a" stroke-width="1.1"/>
<text x="306.7" y="103.7" font-size="8.3" text-anchor="middle" fill="#262626" stroke="#262626" stroke-width="0.1">10</text>
<line x1="317.3" y1="91" x2="317.3" y2="93.2" stroke="#0a0a0a" stroke-width="1.1"/>
<text x="317.3" y="103.7" font-size="8.3" text-anchor="middle" fill="#262626" stroke="#262626" stroke-width="0.1">20</text>
<line x1="327.9" y1="91" x2="327.9" y2="93.2" stroke="#0a0a0a" stroke-width="1.1"/>
<text x="327.9" y="103.7" font-size="8.3" text-anchor="middle" fill="#262626" stroke="#262626" stroke-width="0.1">30</text>
<line x1="338.5" y1="91" x2="338.5" y2="93.2" stroke="#0a0a0a" stroke-width="1.1"/>
<text x="338.5" y="103.7" font-size="8.3" text-anchor="middle" fill="#262626" stroke="#262626" stroke-width="0.1">40</text>
<line x1="349.1" y1="91" x2="349.1" y2="93.2" stroke="#0a0a0a" stroke-width="1.1"/>
<text x="349.1" y="103.7" font-size="8.3" text-anchor="middle" fill="#262626" stroke="#262626" stroke-width="0.1">50</text>
<line x1="359.7" y1="91" x2="359.7" y2="93.2" stroke="#0a0a0a" stroke-width="1.1"/>
<text x="359.7" y="103.7" font-size="8.3" text-anchor="middle" fill="#262626" stroke="#262626" stroke-width="0.1">60</text>
<text x="329.35" y="116.7" font-size="9.6" text-anchor="middle" fill="#262626" stroke="#262626" stroke-width="0.25" textLength="32" lengthAdjust="spacingAndGlyphs">Time (min)</text>
<text x="376.6" y="16" font-size="10.6" text-anchor="start" font-weight="bold" fill="#262626" stroke="#262626" stroke-width="0.6">D</text>
<rect x="390.2" y="11.6" width="1.5" height="4.9" fill="#262626"/>
<rect x="390.2" y="9.6" width="1.5" height="1.45" fill="#262626"/>
<text x="453.7" y="30.1" font-size="8.9" text-anchor="middle" fill="#262626" stroke="#262626" stroke-width="0.1" textLength="75.1" lengthAdjust="spacingAndGlyphs">Thrombin (0.1 nM)</text>
<path d="M420.4 91 L420.7 91 L421 91 L421.31 91 L421.61 91 L421.91 91 L422.21 91 L422.51 91 L422.81 91 L423.12 91 L423.42 91 L423.72 91 L424.02 91 L424.32 91 L424.63 91 L424.93 91 L425.23 91 L425.53 91 L425.83 91 L426.13 91 L426.44 91 L426.74 91 L427.04 91 L427.34 91 L427.64 91 L427.95 91 L428.25 91 L428.55 91 L428.85 91 L429.15 91 L429.45 91 L429.76 91 L430.06 91 L430.36 91 L430.66 91 L430.96 91 L431.27 91 L431.57 91 L431.87 91 L432.17 91 L432.47 91 L432.77 91 L433.08 91 L433.38 91 L433.68 91 L433.98 91 L434.28 91 L434.59 91 L434.89 91 L435.19 91 L435.49 91 L435.79 91 L436.09 91 L436.4 91 L436.7 91 L437 91 L437.32 90.91 L437.65 90.65 L437.98 90.26 L438.3 89.76 L438.62 89.17 L438.95 88.52 L439.27 87.84 L439.6 87.15 L439.92 86.48 L440.25 85.86 L440.57 85.31 L440.9 84.86 L441.2 84.5 L441.5 84.15 L441.8 83.8 L442.1 83.46 L442.4 83.13 L442.7 82.81 L443 82.51 L443.3 82.22 L443.6 81.95 L443.9 81.69 L444.2 81.46 L444.5 81.24 L444.8 81.05 L445.11 80.87 L445.42 80.69 L445.72 80.5 L446.03 80.32 L446.34 80.15 L446.65 79.99 L446.95 79.84 L447.26 79.71 L447.57 79.59 L447.88 79.49 L448.18 79.42 L448.49 79.38 L448.8 79.36 L449.11 79.37 L449.41 79.4 L449.72 79.45 L450.02 79.52 L450.33 79.6 L450.64 79.69 L450.94 79.8 L451.25 79.91 L451.55 80.03 L451.86 80.16 L452.16 80.29 L452.47 80.43 L452.78 80.56 L453.08 80.69 L453.39 80.82 L453.69 80.94 L454 81.05 L454.31 81.17 L454.61 81.28 L454.92 81.4 L455.22 81.52 L455.53 81.64 L455.84 81.76 L456.14 81.88 L456.45 82.01 L456.75 82.13 L457.06 82.26 L457.36 82.39 L457.67 82.52 L457.98 82.65 L458.28 82.78 L458.59 82.91 L458.89 83.04 L459.2 83.17 L459.5 83.3 L459.8 83.43 L460.1 83.57 L460.4 83.71 L460.7 83.86 L461 84 L461.3 84.15 L461.6 84.29 L461.9 84.44 L462.2 84.59 L462.5 84.73 L462.8 84.88 L463.1 85.02 L463.4 85.16 L463.7 85.3 L464 85.43 L464.3 85.56 L464.6 85.69 L464.9 85.81 L465.2 85.92 L465.5 86.03 L465.8 86.13 L466.11 86.23 L466.42 86.33 L466.73 86.42 L467.04 86.51 L467.35 86.59 L467.66 86.68 L467.97 86.76 L468.28 86.83 L468.59 86.91 L468.9 86.99 L469.2 87.06 L469.51 87.13 L469.82 87.21 L470.13 87.28 L470.44 87.35 L470.75 87.43 L471.06 87.5 L471.37 87.58 L471.68 87.66 L471.99 87.74 L472.3 87.83 L472.61 87.91 L472.92 88 L473.23 88.08 L473.54 88.17 L473.85 88.26 L474.16 88.35 L474.47 88.44 L474.78 88.53 L475.09 88.62 L475.4 88.71 L475.7 88.8 L476.01 88.89 L476.32 88.98 L476.63 89.08 L476.94 89.17 L477.25 89.26 L477.56 89.35 L477.87 89.45 L478.18 89.54 L478.49 89.64 L478.8 89.73 L479.11 89.82 L479.42 89.92 L479.72 90.02 L480.03 90.11 L480.34 90.21 L480.65 90.31 L480.95 90.41 L481.26 90.51 L481.57 90.61 L481.88 90.71 L482.18 90.8 L482.49 90.9 L482.8 91" fill="none" stroke="#c84a66" stroke-width="1"/>
<path d="M420.4 91 L420.7 91 L421 91 L421.3 91 L421.6 91 L421.9 91 L422.2 91 L422.5 91 L422.8 91 L423.1 91 L423.4 91 L423.7 91 L424 91 L424.3 91 L424.6 91 L424.9 91 L425.2 91 L425.52 90.53 L425.85 89.25 L426.18 87.35 L426.5 85.02 L426.82 82.44 L427.15 79.81 L427.48 77.31 L427.8 75.13 L428.13 72.98 L428.47 70.66 L428.8 68.35 L429.13 66.23 L429.47 64.48 L429.8 63.28 L430.11 62.48 L430.43 61.74 L430.74 61.07 L431.06 60.5 L431.37 60.06 L431.69 59.78 L432 59.68 L432.34 59.9 L432.69 60.47 L433.03 61.32 L433.37 62.36 L433.71 63.47 L434.06 64.59 L434.4 65.61 L434.72 66.53 L435.05 67.52 L435.38 68.54 L435.7 69.59 L436.02 70.64 L436.35 71.68 L436.68 72.69 L437 73.65 L437.32 74.6 L437.65 75.57 L437.98 76.54 L438.3 77.48 L438.62 78.39 L438.95 79.23 L439.28 79.98 L439.6 80.63 L439.93 81.21 L440.26 81.76 L440.59 82.28 L440.92 82.77 L441.25 83.22 L441.58 83.65 L441.91 84.04 L442.24 84.41 L442.57 84.76 L442.9 85.08 L443.21 85.36 L443.51 85.63 L443.82 85.9 L444.13 86.16 L444.43 86.41 L444.74 86.65 L445.05 86.88 L445.35 87.1 L445.66 87.31 L445.97 87.5 L446.27 87.68 L446.58 87.85 L446.89 88 L447.19 88.13 L447.5 88.25 L447.81 88.36 L448.12 88.46 L448.43 88.56 L448.74 88.66 L449.05 88.76 L449.36 88.85 L449.67 88.93 L449.98 89.02 L450.29 89.1 L450.6 89.18 L450.9 89.25 L451.21 89.32 L451.52 89.38 L451.83 89.44 L452.14 89.5 L452.45 89.55 L452.76 89.59 L453.07 89.63 L453.38 89.67 L453.69 89.7 L454 89.73 L454.31 89.75 L454.61 89.78 L454.92 89.8 L455.23 89.82 L455.53 89.83 L455.84 89.85 L456.15 89.87 L456.45 89.88 L456.76 89.9 L457.07 89.91 L457.37 89.92 L457.68 89.94 L457.99 89.95 L458.29 89.96 L458.6 89.97 L458.91 89.98 L459.21 89.99 L459.52 90 L459.83 90.01 L460.13 90.02 L460.44 90.03 L460.75 90.04 L461.05 90.06 L461.36 90.07 L461.67 90.08 L461.97 90.09 L462.28 90.11 L462.59 90.12 L462.89 90.14 L463.2 90.15 L463.5 90.17 L463.81 90.19 L464.11 90.21 L464.41 90.23 L464.72 90.25 L465.02 90.27 L465.32 90.3 L465.63 90.32 L465.93 90.34 L466.23 90.37 L466.54 90.39 L466.84 90.42 L467.14 90.44 L467.45 90.47 L467.75 90.49 L468.05 90.51 L468.36 90.54 L468.66 90.56 L468.96 90.59 L469.27 90.61 L469.57 90.63 L469.87 90.65 L470.18 90.67 L470.48 90.69 L470.78 90.71 L471.09 90.73 L471.39 90.75 L471.69 90.76 L472 90.78 L472.3 90.79 L472.61 90.8 L472.92 90.81 L473.22 90.82 L473.53 90.84 L473.84 90.85 L474.15 90.86 L474.46 90.87 L474.76 90.88 L475.07 90.9 L475.38 90.91 L475.69 90.92 L476 90.93 L476.3 90.94 L476.61 90.95 L476.92 90.95 L477.23 90.96 L477.54 90.97 L477.84 90.98 L478.15 90.98 L478.46 90.99 L478.77 90.99 L479.08 91 L479.38 91 L479.69 91 L480 91 L480.31 91 L480.62 91 L480.94 91 L481.25 91 L481.56 91 L481.88 91 L482.19 91 L482.5 91 L482.81 91 L483.12 91 L483.44 91 L483.75 91 L484.06 91 L484.38 91 L484.69 91 L485 91" fill="none" stroke="#587296" stroke-width="1"/>
<polyline points="448,88.69 448.45,88.32 448.9,88.46 449.35,88.31 449.8,88.53 450.25,89.04 450.7,89.06 451.15,88.96 451.6,89.54 452.05,89.31 452.5,89.63 452.95,89.77 453.4,89.92 453.85,89.5 454.3,90.02 454.75,89.95 455.2,89.87 455.65,89.53 456.1,90.14 456.55,89.89 457,89.83 457.45,89.61 457.9,89.67 458.35,89.66 458.8,90.12 459.25,90.03 459.7,90.1 460.15,89.73 460.6,89.7 461.05,90.31 461.5,90.32 461.95,90.29 462.4,90.31 462.85,90.15 463.3,90.09 463.75,90.37 464.2,90.59 464.65,90.31 465.1,90.38 465.55,90.27 466,90.01 466.45,90.24 466.9,90.4 467.35,90.36 467.8,90.34 468.25,90.84 468.7,90.24 469.15,90.36 469.6,90.32 470.05,90.41 470.5,90.74 470.95,90.77 471.4,91 471.85,90.66 472.3,91 472.75,91 473.2,91 473.65,91" fill="none" stroke="#1d3768" stroke-width="1.3" stroke-linejoin="round"/>
<line x1="420.4" y1="35.7" x2="420.4" y2="91.5" stroke="#0a0a0a" stroke-width="1.35"/>
<line x1="417.8" y1="91" x2="420.4" y2="91" stroke="#0a0a0a" stroke-width="1.1"/>
<text x="414.8" y="93.99" font-size="8.3" text-anchor="end" fill="#262626" stroke="#262626" stroke-width="0.1">0</text>
<line x1="417.8" y1="80.42" x2="420.4" y2="80.42" stroke="#0a0a0a" stroke-width="1.1"/>
<text x="414.8" y="83.41" font-size="8.3" text-anchor="end" fill="#262626" stroke="#262626" stroke-width="0.1">50</text>
<line x1="417.8" y1="69.84" x2="420.4" y2="69.84" stroke="#0a0a0a" stroke-width="1.1"/>
<text x="414.8" y="72.83" font-size="8.3" text-anchor="end" fill="#262626" stroke="#262626" stroke-width="0.1">100</text>
<line x1="417.8" y1="59.26" x2="420.4" y2="59.26" stroke="#0a0a0a" stroke-width="1.1"/>
<text x="414.8" y="62.25" font-size="8.3" text-anchor="end" fill="#262626" stroke="#262626" stroke-width="0.1">150</text>
<line x1="417.8" y1="48.68" x2="420.4" y2="48.68" stroke="#0a0a0a" stroke-width="1.1"/>
<text x="414.8" y="51.67" font-size="8.3" text-anchor="end" fill="#262626" stroke="#262626" stroke-width="0.1">200</text>
<line x1="417.8" y1="38.1" x2="420.4" y2="38.1" stroke="#0a0a0a" stroke-width="1.1"/>
<text x="414.8" y="41.09" font-size="8.3" text-anchor="end" fill="#262626" stroke="#262626" stroke-width="0.1">250</text>
<text transform="translate(395.8 62.75) rotate(-90)" x="0" y="0" font-size="9" text-anchor="middle" fill="#262626" stroke="#262626" stroke-width="0.25" textLength="43.1" lengthAdjust="spacingAndGlyphs">Thrombin (nM)</text>
<line x1="419.9" y1="91" x2="486" y2="91" stroke="#0a0a0a" stroke-width="1.35"/>
<line x1="420.3" y1="91" x2="420.3" y2="93.2" stroke="#0a0a0a" stroke-width="1.1"/>
<text x="420.3" y="103.7" font-size="8.3" text-anchor="middle" fill="#262626" stroke="#262626" stroke-width="0.1">0</text>
<line x1="436.02" y1="91" x2="436.02" y2="93.2" stroke="#0a0a0a" stroke-width="1.1"/>
<text x="436.02" y="103.7" font-size="8.3" text-anchor="middle" fill="#262626" stroke="#262626" stroke-width="0.1">20</text>
<line x1="451.74" y1="91" x2="451.74" y2="93.2" stroke="#0a0a0a" stroke-width="1.1"/>
<text x="451.74" y="103.7" font-size="8.3" text-anchor="middle" fill="#262626" stroke="#262626" stroke-width="0.1">40</text>
<line x1="467.46" y1="91" x2="467.46" y2="93.2" stroke="#0a0a0a" stroke-width="1.1"/>
<text x="467.46" y="103.7" font-size="8.3" text-anchor="middle" fill="#262626" stroke="#262626" stroke-width="0.1">60</text>
<line x1="483.18" y1="91" x2="483.18" y2="93.2" stroke="#0a0a0a" stroke-width="1.1"/>
<text x="483.18" y="103.7" font-size="8.3" text-anchor="middle" fill="#262626" stroke="#262626" stroke-width="0.1">80</text>
<text x="453.6" y="116.7" font-size="9.6" text-anchor="middle" fill="#262626" stroke="#262626" stroke-width="0.25" textLength="32" lengthAdjust="spacingAndGlyphs">Time (min)</text>
<line x1="486.6" y1="58.6" x2="495.4" y2="58.6" stroke="#587296" stroke-width="1.2"/>
<line x1="486.6" y1="65.9" x2="495.4" y2="65.9" stroke="#c84a66" stroke-width="1.2"/>
<text x="498.7" y="61.2" font-size="7.3" text-anchor="start" fill="#262626" stroke="#262626" stroke-width="0.1" textLength="12.9" lengthAdjust="spacingAndGlyphs">WB</text>
<text x="498.6" y="68.5" font-size="7.3" text-anchor="start" fill="#262626" stroke="#262626" stroke-width="0.1" textLength="14.2" lengthAdjust="spacingAndGlyphs">PRP</text>
<text x="6.8" y="131.7" font-size="10.6" text-anchor="start" font-weight="bold" fill="#262626" stroke="#262626" stroke-width="0.6">A</text>
<rect x="21.2" y="127.3" width="1.5" height="4.9" fill="#262626"/>
<rect x="21.2" y="125.3" width="1.5" height="1.45" fill="#262626"/>
<rect x="24.25" y="127.3" width="1.5" height="4.9" fill="#262626"/>
<rect x="24.25" y="125.3" width="1.5" height="1.45" fill="#262626"/>
<text x="85.75" y="145.5" font-size="8.9" text-anchor="middle" fill="#262626" stroke="#262626" stroke-width="0.1" textLength="48" lengthAdjust="spacingAndGlyphs">TF (0.1 pM)</text>
<path d="M51.4 206.4 L51.7 206.4 L52.01 206.4 L52.31 206.4 L52.62 206.4 L52.92 206.4 L53.22 206.4 L53.53 206.4 L53.83 206.4 L54.13 206.4 L54.44 206.4 L54.74 206.4 L55.05 206.4 L55.35 206.4 L55.65 206.4 L55.96 206.4 L56.26 206.4 L56.56 206.4 L56.87 206.4 L57.17 206.4 L57.48 206.4 L57.78 206.4 L58.08 206.4 L58.39 206.4 L58.69 206.4 L58.99 206.4 L59.3 206.4 L59.6 206.4 L59.91 206.4 L60.21 206.4 L60.51 206.4 L60.82 206.4 L61.12 206.4 L61.42 206.4 L61.73 206.4 L62.03 206.4 L62.34 206.4 L62.64 206.4 L62.94 206.4 L63.25 206.4 L63.55 206.4 L63.85 206.4 L64.16 206.4 L64.46 206.4 L64.77 206.4 L65.07 206.4 L65.37 206.4 L65.68 206.4 L65.98 206.4 L66.28 206.4 L66.59 206.4 L66.89 206.4 L67.2 206.4 L67.5 206.4 L67.81 206.15 L68.12 205.44 L68.44 204.36 L68.75 202.96 L69.06 201.35 L69.38 199.57 L69.69 197.72 L70 195.86 L70.31 194.08 L70.62 192.44 L70.94 191.02 L71.25 189.9 L71.56 188.94 L71.88 188 L72.2 187.09 L72.51 186.22 L72.83 185.4 L73.14 184.64 L73.45 183.96 L73.77 183.36 L74.09 182.87 L74.4 182.49 L74.71 182.18 L75.02 181.88 L75.33 181.62 L75.63 181.41 L75.94 181.27 L76.25 181.22 L76.56 181.28 L76.88 181.46 L77.2 181.73 L77.51 182.09 L77.83 182.51 L78.14 182.98 L78.45 183.48 L78.77 184 L79.09 184.52 L79.4 185.03 L79.71 185.56 L80.02 186.18 L80.33 186.86 L80.64 187.59 L80.95 188.35 L81.26 189.11 L81.57 189.85 L81.88 190.56 L82.19 191.22 L82.5 191.8 L82.81 192.32 L83.12 192.81 L83.43 193.28 L83.74 193.73 L84.05 194.16 L84.36 194.58 L84.67 194.99 L84.98 195.41 L85.29 195.82 L85.6 196.24 L85.92 196.68 L86.23 197.1 L86.55 197.52 L86.87 197.94 L87.18 198.36 L87.5 198.78" fill="none" stroke="#c84a66" stroke-width="1"/>
<path d="M51.4 206.4 L51.7 206.4 L52 206.4 L52.3 206.4 L52.6 206.4 L52.9 206.4 L53.2 206.4 L53.5 206.4 L53.8 206.4 L54.1 206.4 L54.4 206.4 L54.7 206.4 L55 206.4 L55.3 206.4 L55.6 206.4 L55.9 206.4 L56.2 206.4 L56.5 206.4 L56.8 206.4 L57.1 206.4 L57.4 206.4 L57.7 206.4 L58 206.4 L58.3 206.4 L58.6 206.4 L58.9 206.4 L59.2 206.4 L59.5 206.4 L59.8 206.4 L60.1 206.4 L60.4 206.4 L60.7 206.4 L61 206.4 L61.3 206.4 L61.6 206.4 L61.9 206.4 L62.2 206.4 L62.5 206.4 L62.8 206.4 L63.1 206.4 L63.41 206.07 L63.73 205.16 L64.05 203.77 L64.36 202.01 L64.67 200 L64.99 197.84 L65.31 195.64 L65.62 193.51 L65.94 191.56 L66.25 189.9 L66.56 188.35 L66.88 186.68 L67.19 184.94 L67.5 183.17 L67.81 181.43 L68.12 179.76 L68.44 178.21 L68.75 176.84 L69.06 175.68 L69.38 174.79 L69.69 174.23 L70 174.03 L70.31 174.17 L70.62 174.56 L70.94 175.13 L71.25 175.85 L71.56 176.63 L71.88 177.44 L72.19 178.21 L72.5 178.89 L72.81 179.51 L73.12 180.12 L73.44 180.74 L73.75 181.35 L74.06 181.97 L74.38 182.59 L74.69 183.21 L75 183.83 L75.31 184.44 L75.62 185.06 L75.94 185.68 L76.25 186.3 L76.56 186.92 L76.88 187.55 L77.19 188.19 L77.5 188.84 L77.81 189.48 L78.12 190.12 L78.44 190.75 L78.75 191.38 L79.06 191.99 L79.38 192.58 L79.69 193.15 L80 193.7 L80.31 194.24 L80.62 194.77 L80.94 195.3 L81.25 195.81 L81.56 196.32 L81.88 196.82 L82.19 197.3 L82.5 197.76 L82.81 198.21 L83.12 198.63 L83.44 199.04 L83.75 199.42 L84.06 199.78 L84.38 200.12 L84.69 200.44 L85 200.76 L85.31 201.06 L85.62 201.35 L85.94 201.63 L86.25 201.91 L86.56 202.19 L86.88 202.46 L87.19 202.74 L87.5 203.01 L87.81 203.29 L88.12 203.56 L88.44 203.83 L88.75 204.09 L89.06 204.35 L89.38 204.61 L89.69 204.87 L90 205.13" fill="none" stroke="#5c9cc4" stroke-width="1"/>
<polyline points="74.5,182.21 74.9,181.74 75.3,181.37 75.7,180.85 76.1,180.92 76.5,180.81 76.9,182.8 77.3,182.55 77.7,182.22 78.1,183.2 78.5,183.26 78.9,185.08 79.3,184.96 79.7,186.11 80.1,186.48 80.5,187.31 80.9,189.13 81.3,189.66 81.7,190.43 82.1,190.22 82.5,191.35 82.9,192.95 83.3,192.44 83.7,194.13 84.1,193.89 84.5,195.3 84.9,196.08 85.3,195.18 85.7,196.87 86.1,197.39 86.5,196.63 86.9,197.35 87.3,198.87 87.7,198.89 88.1,201.38 88.5,202.92 88.9,204.74 89.3,204.51" fill="none" stroke="#d2243f" stroke-width="1.8" stroke-linejoin="round"/>
<polyline points="70.5,175.66 70.95,175.76 71.4,177.08 71.85,177.36 72.3,178.18 72.75,180.49 73.2,181.51 73.65,180.31 74.1,182.66 74.55,183.62 75,182.57 75.45,184.79 75.9,184.75 76.35,186.56 76.8,187.03 77.25,189.16 77.7,188.82 78.15,189.12 78.6,190.88 79.05,191.22 79.5,192.28 79.95,194.71 80.4,193.66 80.85,194.77 81.3,196.19 81.75,197.56 82.2,196.13 82.65,197.81 83.1,197.87 83.55,198.15 84,199.11 84.45,199.02 84.9,200.79 85.35,200.19 85.8,201.52 86.25,200.71 86.7,201.28 87.15,203.7 87.6,203.99" fill="none" stroke="#1d3768" stroke-width="1.15" stroke-linejoin="round"/>
<polyline points="70,174.66 70.31,175.35 70.62,176.05 70.94,176.74 71.25,177.44 71.56,178.13 71.88,178.82 72.19,179.49 72.5,180.16 72.81,180.82 73.12,181.47 73.44,182.11 73.75,182.75 74.06,183.38 74.38,184.01 74.69,184.64 75,185.26 75.31,185.89 75.62,186.52 75.94,187.15 76.25,187.78 76.56,188.42 76.88,189.08 77.19,189.74 77.5,190.41 77.81,191.08 78.12,191.74 78.44,192.4 78.75,193.04 79.06,193.67 79.38,194.27 79.69,194.85 80,195.4 80.31,195.93 80.62,196.45 80.94,196.96 81.25,197.46 81.56,197.95 81.88,198.42 82.19,198.88 82.5,199.32 82.81,199.75 83.12,200.15 83.44,200.54 83.75,200.9 84.06,201.24 84.38,201.56 84.69,201.86 85,202.15 85.31,202.42 85.62,202.69 85.94,202.95 86.25,203.22 86.56,203.48 86.88,203.74 87.19,204.01 87.5,204.28" fill="none" stroke="#5c9cc4" stroke-width="0.8" stroke-linejoin="round"/>
<path d="M86.8 206.4 L87.8 194.76 L88.8 206.4 Z" fill="#d2243f"/>
<path d="M94.3 206.4 L95.3 199.63 L96.3 206.4 Z" fill="#d2243f"/>
<path d="M99.3 206.4 L100.3 198.36 L101.3 206.4 Z" fill="#d2243f"/>
<polyline points="87,203.55 87.5,203.77 88,203.67 88.5,199.94 89,203.52 89.5,200.67 90,199.36 90.5,204.87 91,203.59 91.5,204.18 92,201.86 92.5,205.16 93,201.4 93.5,200.87 94,204.24 94.5,204.62 95,204.67 95.5,205.26 96,204.22 96.5,204.66 97,205.39 97.5,205.65 98,205.18 98.5,205.22 99,204.56 99.5,201.99 100,205.16 100.5,205.29 101,200.9 101.5,205.52 102,201.76 102.5,204.84 103,202.04 103.5,202.57 104,205.77 104.5,205.39 105,200.79 105.5,201.05 106,201.69 106.5,202.12 107,204.97 107.5,204.87 108,201.85 108.5,205.27 109,200.25 109.5,202.28 110,205.8 110.5,206.21 111,201.48 111.5,205.5 112,205.75 112.5,205.74 113,205.21 113.5,202.84 114,205.35 114.5,206.32 115,205.24 115.5,200.79 116,205.81" fill="none" stroke="#1d3768" stroke-width="1" stroke-linejoin="round"/>
<line x1="51.5" y1="151.1" x2="51.5" y2="206.9" stroke="#0a0a0a" stroke-width="1.35"/>
<line x1="48.9" y1="206.4" x2="51.5" y2="206.4" stroke="#0a0a0a" stroke-width="1.1"/>
<text x="45.9" y="209.39" font-size="8.3" text-anchor="end" fill="#262626" stroke="#262626" stroke-width="0.1">0</text>
<line x1="48.9" y1="195.82" x2="51.5" y2="195.82" stroke="#0a0a0a" stroke-width="1.1"/>
<text x="45.9" y="198.81" font-size="8.3" text-anchor="end" fill="#262626" stroke="#262626" stroke-width="0.1">50</text>
<line x1="48.9" y1="185.24" x2="51.5" y2="185.24" stroke="#0a0a0a" stroke-width="1.1"/>
<text x="45.9" y="188.23" font-size="8.3" text-anchor="end" fill="#262626" stroke="#262626" stroke-width="0.1">100</text>
<line x1="48.9" y1="174.66" x2="51.5" y2="174.66" stroke="#0a0a0a" stroke-width="1.1"/>
<text x="45.9" y="177.65" font-size="8.3" text-anchor="end" fill="#262626" stroke="#262626" stroke-width="0.1">150</text>
<line x1="48.9" y1="164.08" x2="51.5" y2="164.08" stroke="#0a0a0a" stroke-width="1.1"/>
<text x="45.9" y="167.07" font-size="8.3" text-anchor="end" fill="#262626" stroke="#262626" stroke-width="0.1">200</text>
<line x1="48.9" y1="153.5" x2="51.5" y2="153.5" stroke="#0a0a0a" stroke-width="1.1"/>
<text x="45.9" y="156.49" font-size="8.3" text-anchor="end" fill="#262626" stroke="#262626" stroke-width="0.1">250</text>
<text transform="translate(26.9 178.15) rotate(-90)" x="0" y="0" font-size="9" text-anchor="middle" fill="#262626" stroke="#262626" stroke-width="0.25" textLength="43.1" lengthAdjust="spacingAndGlyphs">Thrombin (nM)</text>
<line x1="51" y1="206.4" x2="117.6" y2="206.4" stroke="#0a0a0a" stroke-width="1.35"/>
<line x1="51.4" y1="206.4" x2="51.4" y2="208.6" stroke="#0a0a0a" stroke-width="1.1"/>
<text x="51.4" y="219.1" font-size="8.3" text-anchor="middle" fill="#262626" stroke="#262626" stroke-width="0.1">0</text>
<line x1="64.12" y1="206.4" x2="64.12" y2="208.6" stroke="#0a0a0a" stroke-width="1.1"/>
<text x="64.12" y="219.1" font-size="8.3" text-anchor="middle" fill="#262626" stroke="#262626" stroke-width="0.1">10</text>
<line x1="76.84" y1="206.4" x2="76.84" y2="208.6" stroke="#0a0a0a" stroke-width="1.1"/>
<text x="76.84" y="219.1" font-size="8.3" text-anchor="middle" fill="#262626" stroke="#262626" stroke-width="0.1">20</text>
<line x1="89.56" y1="206.4" x2="89.56" y2="208.6" stroke="#0a0a0a" stroke-width="1.1"/>
<text x="89.56" y="219.1" font-size="8.3" text-anchor="middle" fill="#262626" stroke="#262626" stroke-width="0.1">30</text>
<line x1="102.28" y1="206.4" x2="102.28" y2="208.6" stroke="#0a0a0a" stroke-width="1.1"/>
<text x="102.28" y="219.1" font-size="8.3" text-anchor="middle" fill="#262626" stroke="#262626" stroke-width="0.1">40</text>
<line x1="115" y1="206.4" x2="115" y2="208.6" stroke="#0a0a0a" stroke-width="1.1"/>
<text x="115" y="219.1" font-size="8.3" text-anchor="middle" fill="#262626" stroke="#262626" stroke-width="0.1">50</text>
<text x="84.95" y="232.1" font-size="9.6" text-anchor="middle" fill="#262626" stroke="#262626" stroke-width="0.25" textLength="32" lengthAdjust="spacingAndGlyphs">Time (min)</text>
<text x="129.3" y="131.7" font-size="10.6" text-anchor="start" font-weight="bold" fill="#262626" stroke="#262626" stroke-width="0.6">B</text>
<rect x="143.6" y="127.3" width="1.5" height="4.9" fill="#262626"/>
<rect x="143.6" y="125.3" width="1.5" height="1.45" fill="#262626"/>
<rect x="146.65" y="127.3" width="1.5" height="4.9" fill="#262626"/>
<rect x="146.65" y="125.3" width="1.5" height="1.45" fill="#262626"/>
<text x="206.95" y="145.5" font-size="8.9" text-anchor="middle" fill="#262626" stroke="#262626" stroke-width="0.1" textLength="49" lengthAdjust="spacingAndGlyphs">Rvv-X (1e-6)</text>
<path d="M174.5 206.4 L174.81 206.4 L175.11 206.4 L175.42 206.4 L175.72 206.4 L176.03 206.4 L176.33 206.4 L176.64 206.4 L176.95 206.4 L177.25 206.4 L177.56 206.4 L177.86 206.4 L178.17 206.4 L178.47 206.4 L178.78 206.4 L179.09 206.4 L179.39 206.4 L179.7 206.4 L180 206.4 L180.31 206.4 L180.61 206.4 L180.92 206.4 L181.23 206.4 L181.53 206.4 L181.84 206.4 L182.14 206.4 L182.45 206.4 L182.75 206.4 L183.06 206.4 L183.37 206.4 L183.67 206.4 L183.98 206.4 L184.28 206.4 L184.59 206.4 L184.89 206.4 L185.2 206.4 L185.52 206.29 L185.84 205.99 L186.15 205.53 L186.47 204.93 L186.79 204.22 L187.11 203.44 L187.43 202.61 L187.75 201.77 L188.06 200.93 L188.38 200.14 L188.7 199.42 L189 198.75 L189.3 198.05 L189.6 197.32 L189.9 196.57 L190.2 195.81 L190.5 195.05 L190.8 194.31 L191.1 193.59 L191.4 192.91 L191.7 192.27 L192 191.68 L192.3 191.16 L192.63 190.64 L192.95 190.12 L193.28 189.62 L193.61 189.13 L193.94 188.67 L194.26 188.24 L194.59 187.84 L194.92 187.48 L195.25 187.17 L195.57 186.92 L195.9 186.72 L196.23 186.56 L196.56 186.4 L196.89 186.25 L197.22 186.11 L197.55 185.98 L197.88 185.88 L198.21 185.79 L198.54 185.72 L198.87 185.68 L199.2 185.66 L199.52 185.7 L199.83 185.8 L200.15 185.97 L200.47 186.19 L200.78 186.45 L201.1 186.74 L201.42 187.07 L201.73 187.41 L202.05 187.77 L202.37 188.13 L202.68 188.49 L203 188.84 L203.33 189.21 L203.65 189.64 L203.98 190.1 L204.31 190.6 L204.64 191.11 L204.96 191.64 L205.29 192.17 L205.62 192.69 L205.95 193.2 L206.27 193.68 L206.6 194.13 L206.93 194.55 L207.25 194.98 L207.58 195.4 L207.91 195.81 L208.24 196.21 L208.56 196.61 L208.89 196.99 L209.22 197.35 L209.55 197.71 L209.87 198.04 L210.2 198.36 L210.51 198.65 L210.83 198.94 L211.14 199.22 L211.45 199.5 L211.77 199.77 L212.08 200.04 L212.39 200.29 L212.71 200.54 L213.02 200.78 L213.33 201.01 L213.65 201.22 L213.96 201.43 L214.27 201.62 L214.59 201.8 L214.9 201.96 L215.2 202.1 L215.5 202.24 L215.8 202.38 L216.1 202.51 L216.4 202.63 L216.7 202.76 L217 202.87 L217.3 202.99 L217.6 203.1 L217.9 203.2 L218.2 203.3 L218.5 203.4 L218.8 203.5 L219.1 203.59 L219.4 203.68 L219.7 203.76 L220 203.84 L220.3 203.92 L220.6 204 L220.9 204.07 L221.21 204.15 L221.52 204.22 L221.83 204.28 L222.13 204.35 L222.44 204.41 L222.75 204.48 L223.06 204.54 L223.37 204.59 L223.68 204.65 L223.99 204.71 L224.3 204.76 L224.6 204.81 L224.91 204.87 L225.22 204.92 L225.53 204.97 L225.84 205.02 L226.15 205.06 L226.46 205.11 L226.77 205.16 L227.07 205.2 L227.38 205.25 L227.69 205.3 L228 205.34 L228.3 205.39 L228.6 205.43 L228.9 205.47 L229.2 205.51 L229.5 205.55 L229.8 205.59 L230.1 205.63 L230.4 205.67 L230.7 205.71 L231 205.75 L231.3 205.79 L231.6 205.82 L231.9 205.86 L232.2 205.89 L232.5 205.93 L232.8 205.97 L233.1 206 L233.4 206.04 L233.7 206.07 L234 206.11 L234.3 206.14 L234.6 206.18 L234.9 206.22 L235.2 206.25 L235.5 206.29 L235.8 206.33 L236.1 206.36 L236.4 206.4" fill="none" stroke="#c84a66" stroke-width="1"/>
<path d="M174.5 206.4 L174.81 206.4 L175.12 206.4 L175.43 206.4 L175.73 206.4 L176.04 206.4 L176.35 206.4 L176.66 206.4 L176.97 206.4 L177.28 206.4 L177.59 206.4 L177.9 206.4 L178.2 206.4 L178.51 206.4 L178.82 206.4 L179.13 206.4 L179.44 206.4 L179.75 206.4 L180.06 206.4 L180.37 206.4 L180.67 206.4 L180.98 206.4 L181.29 206.4 L181.6 206.4 L181.9 205.84 L182.2 204.31 L182.5 202.04 L182.8 199.26 L183.1 196.19 L183.4 193.07 L183.7 190.12 L184 187.57 L184.35 184.68 L184.7 181.54 L185.05 178.42 L185.4 175.62 L185.75 173.42 L186.1 172.12 L186.43 171.43 L186.77 170.82 L187.1 170.31 L187.43 169.92 L187.77 169.67 L188.1 169.58 L188.4 169.82 L188.7 170.47 L189 171.39 L189.3 172.48 L189.6 173.61 L189.9 174.66 L190.2 175.69 L190.5 176.83 L190.8 178.03 L191.1 179.28 L191.4 180.52 L191.7 181.74 L192 182.9 L192.3 183.97 L192.6 184.98 L192.9 185.97 L193.2 186.95 L193.5 187.9 L193.8 188.83 L194.1 189.72 L194.4 190.57 L194.7 191.38 L195 192.15 L195.3 192.86 L195.63 193.59 L195.95 194.3 L196.28 194.99 L196.61 195.66 L196.94 196.3 L197.26 196.9 L197.59 197.48 L197.92 198.02 L198.25 198.52 L198.57 198.99 L198.9 199.42 L199.22 199.8 L199.53 200.18 L199.85 200.54 L200.16 200.89 L200.48 201.22 L200.79 201.53 L201.11 201.84 L201.42 202.12 L201.74 202.38 L202.05 202.62 L202.37 202.85 L202.68 203.05 L203 203.23 L203.3 203.38 L203.6 203.53 L203.9 203.67 L204.2 203.8 L204.5 203.92 L204.8 204.05 L205.1 204.16 L205.4 204.27 L205.7 204.38 L206 204.48 L206.3 204.57 L206.6 204.67 L206.9 204.76 L207.2 204.85 L207.5 204.93 L207.8 205.02 L208.1 205.1 L208.4 205.18 L208.7 205.26 L209 205.34 L209.3 205.42 L209.6 205.51 L209.9 205.6 L210.2 205.69 L210.5 205.78 L210.8 205.87 L211.1 205.95 L211.4 206.03 L211.7 206.11 L212 206.18 L212.3 206.24 L212.6 206.3 L212.9 206.34 L213.2 206.37 L213.5 206.39 L213.8 206.4 L214.1 206.4 L214.41 206.4 L214.71 206.4 L215.01 206.4 L215.31 206.4 L215.62 206.4 L215.92 206.4 L216.22 206.4 L216.52 206.4 L216.83 206.4 L217.13 206.4 L217.43 206.4 L217.73 206.4 L218.03 206.4 L218.34 206.4 L218.64 206.4 L218.94 206.4 L219.25 206.4 L219.55 206.4 L219.85 206.4 L220.15 206.4 L220.46 206.4 L220.76 206.4 L221.06 206.4 L221.36 206.4 L221.67 206.4 L221.97 206.4 L222.27 206.4 L222.57 206.4 L222.88 206.4 L223.18 206.4 L223.48 206.4 L223.78 206.4 L224.09 206.4 L224.39 206.4 L224.69 206.4 L224.99 206.4 L225.3 206.4 L225.6 206.4 L225.9 206.4 L226.2 206.4 L226.5 206.4 L226.81 206.4 L227.11 206.4 L227.41 206.4 L227.72 206.4 L228.02 206.4 L228.32 206.4 L228.62 206.4 L228.93 206.4 L229.23 206.4 L229.53 206.4 L229.83 206.4 L230.13 206.4 L230.44 206.4 L230.74 206.4 L231.04 206.4 L231.34 206.4 L231.65 206.4 L231.95 206.4 L232.25 206.4 L232.56 206.4 L232.86 206.4 L233.16 206.4 L233.46 206.4 L233.76 206.4 L234.07 206.4 L234.37 206.4 L234.67 206.4 L234.97 206.4 L235.28 206.4 L235.58 206.4 L235.88 206.4 L236.19 206.4 L236.49 206.4 L236.79 206.4 L237.09 206.4 L237.4 206.4 L237.7 206.4 L238 206.4" fill="none" stroke="#587296" stroke-width="1"/>
<line x1="174.5" y1="151.1" x2="174.5" y2="206.9" stroke="#0a0a0a" stroke-width="1.35"/>
<line x1="171.9" y1="206.4" x2="174.5" y2="206.4" stroke="#0a0a0a" stroke-width="1.1"/>
<text x="168.9" y="209.39" font-size="8.3" text-anchor="end" fill="#262626" stroke="#262626" stroke-width="0.1">0</text>
<line x1="171.9" y1="195.82" x2="174.5" y2="195.82" stroke="#0a0a0a" stroke-width="1.1"/>
<text x="168.9" y="198.81" font-size="8.3" text-anchor="end" fill="#262626" stroke="#262626" stroke-width="0.1">50</text>
<line x1="171.9" y1="185.24" x2="174.5" y2="185.24" stroke="#0a0a0a" stroke-width="1.1"/>
<text x="168.9" y="188.23" font-size="8.3" text-anchor="end" fill="#262626" stroke="#262626" stroke-width="0.1">100</text>
<line x1="171.9" y1="174.66" x2="174.5" y2="174.66" stroke="#0a0a0a" stroke-width="1.1"/>
<text x="168.9" y="177.65" font-size="8.3" text-anchor="end" fill="#262626" stroke="#262626" stroke-width="0.1">150</text>
<line x1="171.9" y1="164.08" x2="174.5" y2="164.08" stroke="#0a0a0a" stroke-width="1.1"/>
<text x="168.9" y="167.07" font-size="8.3" text-anchor="end" fill="#262626" stroke="#262626" stroke-width="0.1">200</text>
<line x1="171.9" y1="153.5" x2="174.5" y2="153.5" stroke="#0a0a0a" stroke-width="1.1"/>
<text x="168.9" y="156.49" font-size="8.3" text-anchor="end" fill="#262626" stroke="#262626" stroke-width="0.1">250</text>
<text transform="translate(149.9 178.15) rotate(-90)" x="0" y="0" font-size="9" text-anchor="middle" fill="#262626" stroke="#262626" stroke-width="0.25" textLength="43.1" lengthAdjust="spacingAndGlyphs">Thrombin (nM)</text>
<line x1="174" y1="206.4" x2="239" y2="206.4" stroke="#0a0a0a" stroke-width="1.35"/>
<line x1="174.1" y1="206.4" x2="174.1" y2="208.6" stroke="#0a0a0a" stroke-width="1.1"/>
<text x="174.1" y="219.1" font-size="8.3" text-anchor="middle" fill="#262626" stroke="#262626" stroke-width="0.1">0</text>
<line x1="184.65" y1="206.4" x2="184.65" y2="208.6" stroke="#0a0a0a" stroke-width="1.1"/>
<text x="184.65" y="219.1" font-size="8.3" text-anchor="middle" fill="#262626" stroke="#262626" stroke-width="0.1">10</text>
<line x1="195.2" y1="206.4" x2="195.2" y2="208.6" stroke="#0a0a0a" stroke-width="1.1"/>
<text x="195.2" y="219.1" font-size="8.3" text-anchor="middle" fill="#262626" stroke="#262626" stroke-width="0.1">20</text>
<line x1="205.75" y1="206.4" x2="205.75" y2="208.6" stroke="#0a0a0a" stroke-width="1.1"/>
<text x="205.75" y="219.1" font-size="8.3" text-anchor="middle" fill="#262626" stroke="#262626" stroke-width="0.1">30</text>
<line x1="216.3" y1="206.4" x2="216.3" y2="208.6" stroke="#0a0a0a" stroke-width="1.1"/>
<text x="216.3" y="219.1" font-size="8.3" text-anchor="middle" fill="#262626" stroke="#262626" stroke-width="0.1">40</text>
<line x1="226.85" y1="206.4" x2="226.85" y2="208.6" stroke="#0a0a0a" stroke-width="1.1"/>
<text x="226.85" y="219.1" font-size="8.3" text-anchor="middle" fill="#262626" stroke="#262626" stroke-width="0.1">50</text>
<line x1="237.4" y1="206.4" x2="237.4" y2="208.6" stroke="#0a0a0a" stroke-width="1.1"/>
<text x="237.4" y="219.1" font-size="8.3" text-anchor="middle" fill="#262626" stroke="#262626" stroke-width="0.1">60</text>
<text x="207.15" y="232.1" font-size="9.6" text-anchor="middle" fill="#262626" stroke="#262626" stroke-width="0.25" textLength="32" lengthAdjust="spacingAndGlyphs">Time (min)</text>
<text x="251.9" y="131.7" font-size="10.6" text-anchor="start" font-weight="bold" fill="#262626" stroke="#262626" stroke-width="0.6">C</text>
<rect x="265.6" y="127.3" width="1.5" height="4.9" fill="#262626"/>
<rect x="265.6" y="125.3" width="1.5" height="1.45" fill="#262626"/>
<rect x="268.65" y="127.3" width="1.5" height="4.9" fill="#262626"/>
<rect x="268.65" y="125.3" width="1.5" height="1.45" fill="#262626"/>
<text x="329.45" y="145.5" font-size="8.9" text-anchor="middle" fill="#262626" stroke="#262626" stroke-width="0.1" textLength="52.7" lengthAdjust="spacingAndGlyphs">FXa (0.3 nM)</text>
<path d="M296.1 206.4 L296.41 206.4 L296.73 206.4 L297.04 206.4 L297.35 206.4 L297.67 206.4 L297.98 206.4 L298.3 206.4 L298.61 206.4 L298.92 206.4 L299.24 206.4 L299.55 206.4 L299.86 206.4 L300.18 206.4 L300.49 206.4 L300.8 206.4 L301.12 206.4 L301.43 206.4 L301.75 206.4 L302.06 206.4 L302.37 206.4 L302.69 206.4 L303 206.4 L303.32 206.31 L303.64 206.05 L303.96 205.66 L304.28 205.17 L304.6 204.59 L304.92 203.97 L305.24 203.32 L305.56 202.68 L305.88 202.08 L306.2 201.53 L306.52 201.02 L306.83 200.48 L307.15 199.92 L307.47 199.34 L307.78 198.77 L308.1 198.2 L308.42 197.64 L308.73 197.11 L309.05 196.61 L309.37 196.15 L309.68 195.75 L310 195.4 L310.32 195.09 L310.63 194.79 L310.95 194.51 L311.27 194.25 L311.58 194 L311.9 193.76 L312.22 193.54 L312.53 193.33 L312.85 193.14 L313.17 192.96 L313.48 192.8 L313.8 192.65 L314.11 192.5 L314.43 192.36 L314.74 192.21 L315.05 192.08 L315.36 191.97 L315.68 191.88 L315.99 191.82 L316.3 191.8 L316.62 191.8 L316.94 191.81 L317.26 191.82 L317.58 191.84 L317.9 191.86 L318.22 191.88 L318.54 191.91 L318.86 191.94 L319.18 191.98 L319.5 192.01 L319.82 192.07 L320.13 192.17 L320.45 192.3 L320.77 192.45 L321.08 192.64 L321.4 192.84 L321.72 193.05 L322.03 193.27 L322.35 193.49 L322.67 193.71 L322.98 193.93 L323.3 194.13 L323.61 194.32 L323.93 194.52 L324.24 194.72 L324.56 194.93 L324.87 195.14 L325.19 195.35 L325.5 195.56 L325.81 195.78 L326.13 196 L326.44 196.22 L326.76 196.44 L327.07 196.65 L327.39 196.87 L327.7 197.09 L328 197.3 L328.3 197.51 L328.6 197.73 L328.9 197.95 L329.2 198.17 L329.5 198.4 L329.8 198.62 L330.1 198.84 L330.4 199.07 L330.7 199.29 L331 199.5 L331.3 199.71 L331.6 199.92 L331.9 200.12 L332.2 200.32 L332.5 200.51 L332.8 200.69 L333.12 200.87 L333.44 201.06 L333.76 201.24 L334.07 201.42 L334.39 201.59 L334.71 201.77 L335.03 201.94 L335.35 202.1 L335.67 202.26 L335.99 202.42 L336.31 202.57 L336.62 202.72 L336.94 202.85 L337.26 202.99 L337.58 203.11 L337.9 203.23 L338.2 203.33 L338.5 203.43 L338.8 203.54 L339.1 203.63 L339.4 203.73 L339.7 203.83 L340 203.92 L340.3 204.01 L340.6 204.1 L340.9 204.18 L341.2 204.27 L341.5 204.35 L341.8 204.42 L342.1 204.5 L342.4 204.57 L342.7 204.63 L343 204.7 L343.3 204.76 L343.6 204.82 L343.9 204.87 L344.2 204.92 L344.5 204.97 L344.81 205.01 L345.11 205.06 L345.42 205.1 L345.72 205.14 L346.02 205.18 L346.33 205.22 L346.63 205.25 L346.94 205.29 L347.24 205.32 L347.54 205.36 L347.85 205.39 L348.15 205.42 L348.46 205.45 L348.76 205.48 L349.06 205.51 L349.37 205.54 L349.67 205.57 L349.98 205.6 L350.28 205.62 L350.58 205.65 L350.89 205.68 L351.19 205.71 L351.5 205.74 L351.8 205.77 L352.11 205.79 L352.42 205.82 L352.72 205.85 L353.03 205.88 L353.34 205.9 L353.65 205.93 L353.96 205.96 L354.26 205.98 L354.57 206.01 L354.88 206.03 L355.19 206.06 L355.5 206.08 L355.8 206.11 L356.11 206.13 L356.42 206.16 L356.73 206.18 L357.04 206.2 L357.34 206.23 L357.65 206.25 L357.96 206.28 L358.27 206.3 L358.58 206.33 L358.88 206.35 L359.19 206.37 L359.5 206.4" fill="none" stroke="#c84a66" stroke-width="1"/>
<path d="M296.1 206.4 L296.44 206.4 L296.79 206.4 L297.13 206.4 L297.47 206.4 L297.81 206.4 L298.16 206.4 L298.5 206.4 L298.82 206.34 L299.13 206.15 L299.45 205.87 L299.77 205.48 L300.08 205.02 L300.4 204.48 L300.72 203.89 L301.03 203.25 L301.35 202.57 L301.67 201.88 L301.98 201.18 L302.3 200.48 L302.62 199.68 L302.94 198.72 L303.26 197.62 L303.58 196.43 L303.9 195.17 L304.22 193.87 L304.54 192.58 L304.86 191.33 L305.18 190.14 L305.5 189.05 L305.82 187.97 L306.15 186.84 L306.48 185.71 L306.8 184.61 L307.12 183.59 L307.45 182.7 L307.78 181.96 L308.1 181.43 L308.42 181.03 L308.74 180.64 L309.07 180.28 L309.39 179.95 L309.71 179.67 L310.03 179.43 L310.36 179.26 L310.68 179.14 L311 179.1 L311.31 179.18 L311.62 179.38 L311.93 179.68 L312.24 180.07 L312.56 180.53 L312.87 181.02 L313.18 181.52 L313.49 182.02 L313.8 182.49 L314.12 182.97 L314.44 183.5 L314.76 184.07 L315.08 184.65 L315.4 185.26 L315.72 185.87 L316.04 186.48 L316.36 187.08 L316.68 187.66 L317 188.2 L317.32 188.73 L317.65 189.23 L317.98 189.73 L318.3 190.21 L318.62 190.7 L318.95 191.19 L319.28 191.7 L319.6 192.22 L319.91 192.75 L320.22 193.29 L320.53 193.86 L320.84 194.43 L321.15 195.01 L321.46 195.58 L321.77 196.14 L322.08 196.69 L322.39 197.22 L322.7 197.72 L323.04 198.26 L323.38 198.79 L323.71 199.31 L324.05 199.81 L324.39 200.3 L324.72 200.75 L325.06 201.16 L325.4 201.53 L325.72 201.85 L326.03 202.16 L326.35 202.46 L326.67 202.74 L326.98 203.02 L327.3 203.28 L327.62 203.52 L327.93 203.75 L328.25 203.96 L328.57 204.16 L328.88 204.34 L329.2 204.5 L329.52 204.64 L329.83 204.78 L330.15 204.92 L330.47 205.05 L330.78 205.17 L331.1 205.29 L331.42 205.4 L331.73 205.49 L332.05 205.58 L332.37 205.65 L332.68 205.72 L333 205.77 L333.3 205.8 L333.61 205.84 L333.91 205.88 L334.22 205.91 L334.52 205.95 L334.83 205.98 L335.13 206.01 L335.43 206.04 L335.74 206.07 L336.04 206.1 L336.35 206.12 L336.65 206.15 L336.96 206.17 L337.26 206.19 L337.57 206.21 L337.87 206.22 L338.17 206.24 L338.48 206.25 L338.78 206.27 L339.09 206.28 L339.39 206.28 L339.7 206.29 L340 206.29 L340.3 206.3 L340.6 206.3 L340.9 206.3 L341.2 206.31 L341.5 206.31 L341.8 206.31 L342.1 206.32 L342.4 206.32 L342.7 206.32 L343 206.32 L343.3 206.32 L343.6 206.33 L343.9 206.33 L344.2 206.33 L344.5 206.33 L344.8 206.34 L345.1 206.34 L345.4 206.34 L345.7 206.34 L346 206.34 L346.3 206.34 L346.6 206.35 L346.9 206.35 L347.2 206.35 L347.5 206.35 L347.8 206.35 L348.1 206.35 L348.4 206.35 L348.7 206.36 L349 206.36 L349.3 206.36 L349.6 206.36 L349.9 206.36 L350.2 206.36 L350.5 206.36 L350.8 206.36 L351.1 206.36 L351.4 206.37 L351.7 206.37 L352 206.37 L352.3 206.37 L352.6 206.37 L352.9 206.37 L353.2 206.37 L353.5 206.37 L353.8 206.37 L354.1 206.37 L354.4 206.38 L354.7 206.38 L355 206.38 L355.3 206.38 L355.6 206.38 L355.9 206.38 L356.2 206.38 L356.5 206.38 L356.8 206.38 L357.1 206.38 L357.4 206.38 L357.7 206.39 L358 206.39 L358.3 206.39 L358.6 206.39 L358.9 206.39 L359.2 206.39 L359.5 206.39 L359.8 206.39 L360.1 206.4 L360.4 206.4 L360.7 206.4 L361 206.4" fill="none" stroke="#587296" stroke-width="1"/>
<line x1="296.1" y1="151.1" x2="296.1" y2="206.9" stroke="#0a0a0a" stroke-width="1.35"/>
<line x1="293.5" y1="206.4" x2="296.1" y2="206.4" stroke="#0a0a0a" stroke-width="1.1"/>
<text x="290.5" y="209.39" font-size="8.3" text-anchor="end" fill="#262626" stroke="#262626" stroke-width="0.1">0</text>
<line x1="293.5" y1="195.82" x2="296.1" y2="195.82" stroke="#0a0a0a" stroke-width="1.1"/>
<text x="290.5" y="198.81" font-size="8.3" text-anchor="end" fill="#262626" stroke="#262626" stroke-width="0.1">50</text>
<line x1="293.5" y1="185.24" x2="296.1" y2="185.24" stroke="#0a0a0a" stroke-width="1.1"/>
<text x="290.5" y="188.23" font-size="8.3" text-anchor="end" fill="#262626" stroke="#262626" stroke-width="0.1">100</text>
<line x1="293.5" y1="174.66" x2="296.1" y2="174.66" stroke="#0a0a0a" stroke-width="1.1"/>
<text x="290.5" y="177.65" font-size="8.3" text-anchor="end" fill="#262626" stroke="#262626" stroke-width="0.1">150</text>
<line x1="293.5" y1="164.08" x2="296.1" y2="164.08" stroke="#0a0a0a" stroke-width="1.1"/>
<text x="290.5" y="167.07" font-size="8.3" text-anchor="end" fill="#262626" stroke="#262626" stroke-width="0.1">200</text>
<line x1="293.5" y1="153.5" x2="296.1" y2="153.5" stroke="#0a0a0a" stroke-width="1.1"/>
<text x="290.5" y="156.49" font-size="8.3" text-anchor="end" fill="#262626" stroke="#262626" stroke-width="0.1">250</text>
<text transform="translate(271.5 178.15) rotate(-90)" x="0" y="0" font-size="9" text-anchor="middle" fill="#262626" stroke="#262626" stroke-width="0.25" textLength="43.1" lengthAdjust="spacingAndGlyphs">Thrombin (nM)</text>
<line x1="295.6" y1="206.4" x2="361.8" y2="206.4" stroke="#0a0a0a" stroke-width="1.35"/>
<line x1="296.2" y1="206.4" x2="296.2" y2="208.6" stroke="#0a0a0a" stroke-width="1.1"/>
<text x="296.2" y="219.1" font-size="8.3" text-anchor="middle" fill="#262626" stroke="#262626" stroke-width="0.1">0</text>
<line x1="306.82" y1="206.4" x2="306.82" y2="208.6" stroke="#0a0a0a" stroke-width="1.1"/>
<text x="306.82" y="219.1" font-size="8.3" text-anchor="middle" fill="#262626" stroke="#262626" stroke-width="0.1">10</text>
<line x1="317.44" y1="206.4" x2="317.44" y2="208.6" stroke="#0a0a0a" stroke-width="1.1"/>
<text x="317.44" y="219.1" font-size="8.3" text-anchor="middle" fill="#262626" stroke="#262626" stroke-width="0.1">20</text>
<line x1="328.06" y1="206.4" x2="328.06" y2="208.6" stroke="#0a0a0a" stroke-width="1.1"/>
<text x="328.06" y="219.1" font-size="8.3" text-anchor="middle" fill="#262626" stroke="#262626" stroke-width="0.1">30</text>
<line x1="338.68" y1="206.4" x2="338.68" y2="208.6" stroke="#0a0a0a" stroke-width="1.1"/>
<text x="338.68" y="219.1" font-size="8.3" text-anchor="middle" fill="#262626" stroke="#262626" stroke-width="0.1">40</text>
<line x1="349.3" y1="206.4" x2="349.3" y2="208.6" stroke="#0a0a0a" stroke-width="1.1"/>
<text x="349.3" y="219.1" font-size="8.3" text-anchor="middle" fill="#262626" stroke="#262626" stroke-width="0.1">50</text>
<line x1="359.92" y1="206.4" x2="359.92" y2="208.6" stroke="#0a0a0a" stroke-width="1.1"/>
<text x="359.92" y="219.1" font-size="8.3" text-anchor="middle" fill="#262626" stroke="#262626" stroke-width="0.1">60</text>
<text x="329.35" y="232.1" font-size="9.6" text-anchor="middle" fill="#262626" stroke="#262626" stroke-width="0.25" textLength="32" lengthAdjust="spacingAndGlyphs">Time (min)</text>
<text x="373.9" y="131.7" font-size="10.6" text-anchor="start" font-weight="bold" fill="#262626" stroke="#262626" stroke-width="0.6">D</text>
<rect x="389.7" y="127.3" width="1.5" height="4.9" fill="#262626"/>
<rect x="389.7" y="125.3" width="1.5" height="1.45" fill="#262626"/>
<rect x="392.75" y="127.3" width="1.5" height="4.9" fill="#262626"/>
<rect x="392.75" y="125.3" width="1.5" height="1.45" fill="#262626"/>
<text x="453.7" y="145.5" font-size="8.9" text-anchor="middle" fill="#262626" stroke="#262626" stroke-width="0.1" textLength="75.1" lengthAdjust="spacingAndGlyphs">Thrombin (0.3 nM)</text>
<path d="M420.4 206.4 L420.71 206.4 L421.01 206.4 L421.32 206.4 L421.62 206.4 L421.93 206.4 L422.24 206.4 L422.54 206.4 L422.85 206.4 L423.15 206.4 L423.46 206.4 L423.77 206.4 L424.07 206.4 L424.38 206.4 L424.68 206.4 L424.99 206.4 L425.3 206.4 L425.6 206.4 L425.91 206.4 L426.22 206.4 L426.52 206.4 L426.83 206.4 L427.13 206.4 L427.44 206.4 L427.75 206.4 L428.05 206.4 L428.36 206.4 L428.66 206.4 L428.97 206.4 L429.28 206.4 L429.58 206.4 L429.89 206.4 L430.19 206.4 L430.5 206.4 L430.82 206.32 L431.15 206.11 L431.48 205.78 L431.8 205.34 L432.12 204.82 L432.45 204.24 L432.77 203.62 L433.1 202.96 L433.42 202.31 L433.75 201.66 L434.07 201.04 L434.4 200.48 L434.7 199.95 L435 199.37 L435.3 198.76 L435.6 198.13 L435.9 197.49 L436.2 196.87 L436.5 196.28 L436.8 195.74 L437.1 195.26 L437.4 194.86 L437.7 194.55 L438 194.3 L438.3 194.05 L438.6 193.81 L438.9 193.59 L439.2 193.37 L439.5 193.17 L439.8 192.99 L440.1 192.83 L440.4 192.7 L440.7 192.59 L441 192.5 L441.3 192.45 L441.6 192.43 L441.91 192.45 L442.21 192.48 L442.52 192.53 L442.83 192.59 L443.13 192.68 L443.44 192.77 L443.75 192.88 L444.05 192.99 L444.36 193.12 L444.67 193.25 L444.97 193.38 L445.28 193.51 L445.59 193.65 L445.89 193.78 L446.2 193.92 L446.51 194.05 L446.81 194.2 L447.12 194.37 L447.42 194.54 L447.73 194.73 L448.04 194.92 L448.34 195.12 L448.65 195.32 L448.95 195.53 L449.26 195.74 L449.56 195.94 L449.87 196.15 L450.18 196.35 L450.48 196.55 L450.79 196.74 L451.09 196.92 L451.4 197.09 L451.7 197.25 L452 197.41 L452.3 197.57 L452.6 197.72 L452.9 197.88 L453.2 198.03 L453.5 198.18 L453.8 198.33 L454.1 198.48 L454.4 198.62 L454.7 198.77 L455 198.91 L455.3 199.05 L455.6 199.19 L455.9 199.33 L456.2 199.47 L456.5 199.6 L456.8 199.74 L457.1 199.87 L457.4 200 L457.7 200.13 L458 200.26 L458.31 200.4 L458.62 200.53 L458.93 200.66 L459.24 200.8 L459.55 200.93 L459.86 201.06 L460.17 201.19 L460.48 201.32 L460.79 201.45 L461.1 201.57 L461.4 201.7 L461.71 201.82 L462.02 201.94 L462.33 202.06 L462.64 202.18 L462.95 202.29 L463.26 202.4 L463.57 202.5 L463.88 202.61 L464.19 202.71 L464.5 202.8 L464.8 202.89 L465.1 202.98 L465.4 203.07 L465.7 203.15 L466 203.24 L466.3 203.32 L466.6 203.4 L466.9 203.48 L467.2 203.56 L467.5 203.64 L467.8 203.71 L468.1 203.79 L468.4 203.86 L468.7 203.93 L469 204 L469.3 204.07 L469.6 204.14 L469.9 204.21 L470.2 204.27 L470.5 204.34 L470.8 204.4 L471.1 204.47 L471.4 204.53 L471.7 204.59 L472 204.65 L472.3 204.71 L472.6 204.77 L472.91 204.82 L473.21 204.88 L473.52 204.93 L473.82 204.99 L474.12 205.04 L474.43 205.09 L474.73 205.14 L475.03 205.19 L475.34 205.24 L475.64 205.29 L475.95 205.33 L476.25 205.38 L476.55 205.43 L476.86 205.47 L477.16 205.52 L477.47 205.56 L477.77 205.61 L478.07 205.66 L478.38 205.7 L478.68 205.75 L478.98 205.79 L479.29 205.84 L479.59 205.88 L479.9 205.93 L480.2 205.98 L480.51 206.02 L480.82 206.07 L481.13 206.12 L481.44 206.17 L481.76 206.21 L482.07 206.26 L482.38 206.31 L482.69 206.35 L483 206.4" fill="none" stroke="#c84a66" stroke-width="1"/>
<path d="M420.4 206.4 L420.72 206.4 L421.04 206.4 L421.35 206.4 L421.67 206.4 L421.99 206.4 L422.31 206.4 L422.63 206.4 L422.95 206.4 L423.26 206.4 L423.58 206.4 L423.9 206.4 L424.22 205.96 L424.55 204.76 L424.88 202.97 L425.2 200.77 L425.52 198.34 L425.85 195.84 L426.18 193.47 L426.5 191.38 L426.83 189.29 L427.17 187.03 L427.5 184.76 L427.83 182.67 L428.17 180.94 L428.5 179.74 L428.83 178.88 L429.17 178.08 L429.5 177.39 L429.83 176.84 L430.17 176.48 L430.5 176.35 L430.82 176.57 L431.13 177.14 L431.45 177.97 L431.77 178.96 L432.08 180 L432.4 181.01 L432.72 182.09 L433.05 183.36 L433.38 184.74 L433.7 186.19 L434.02 187.64 L434.35 189.02 L434.68 190.29 L435 191.38 L435.3 192.27 L435.6 193.14 L435.9 193.98 L436.2 194.79 L436.5 195.56 L436.8 196.29 L437.1 196.98 L437.4 197.62 L437.7 198.21 L438 198.74 L438.3 199.21 L438.62 199.67 L438.95 200.11 L439.27 200.52 L439.6 200.92 L439.93 201.29 L440.25 201.64 L440.57 201.96 L440.9 202.26 L441.23 202.54 L441.55 202.79 L441.88 203.02 L442.2 203.23 L442.51 203.41 L442.82 203.58 L443.14 203.75 L443.45 203.92 L443.76 204.07 L444.07 204.22 L444.38 204.37 L444.69 204.5 L445.01 204.63 L445.32 204.75 L445.63 204.86 L445.94 204.97 L446.25 205.06 L446.56 205.15 L446.88 205.22 L447.19 205.29 L447.5 205.34 L447.81 205.39 L448.12 205.44 L448.43 205.48 L448.74 205.52 L449.05 205.56 L449.36 205.59 L449.67 205.63 L449.98 205.66 L450.29 205.69 L450.6 205.72 L450.9 205.75 L451.21 205.77 L451.52 205.8 L451.83 205.82 L452.14 205.85 L452.45 205.87 L452.76 205.89 L453.07 205.91 L453.38 205.93 L453.69 205.96 L454 205.98 L454.31 206 L454.62 206.02 L454.92 206.04 L455.23 206.06 L455.54 206.09 L455.85 206.11 L456.15 206.13 L456.46 206.15 L456.77 206.18 L457.08 206.2 L457.38 206.22 L457.69 206.24 L458 206.26 L458.31 206.28 L458.62 206.29 L458.92 206.31 L459.23 206.33 L459.54 206.34 L459.85 206.35 L460.15 206.37 L460.46 206.38 L460.77 206.38 L461.08 206.39 L461.38 206.4 L461.69 206.4 L462 206.4 L462.3 206.4 L462.61 206.4 L462.91 206.4 L463.21 206.4 L463.51 206.4 L463.82 206.4 L464.12 206.4 L464.42 206.4 L464.72 206.4 L465.03 206.4 L465.33 206.4 L465.63 206.4 L465.93 206.4 L466.24 206.4 L466.54 206.4 L466.84 206.4 L467.14 206.4 L467.45 206.4 L467.75 206.4 L468.05 206.4 L468.36 206.4 L468.66 206.4 L468.96 206.4 L469.26 206.4 L469.57 206.4 L469.87 206.4 L470.17 206.4 L470.47 206.4 L470.78 206.4 L471.08 206.4 L471.38 206.4 L471.68 206.4 L471.99 206.4 L472.29 206.4 L472.59 206.4 L472.89 206.4 L473.2 206.4 L473.5 206.4 L473.8 206.4 L474.11 206.4 L474.41 206.4 L474.71 206.4 L475.01 206.4 L475.32 206.4 L475.62 206.4 L475.92 206.4 L476.22 206.4 L476.53 206.4 L476.83 206.4 L477.13 206.4 L477.43 206.4 L477.74 206.4 L478.04 206.4 L478.34 206.4 L478.64 206.4 L478.95 206.4 L479.25 206.4 L479.55 206.4 L479.86 206.4 L480.16 206.4 L480.46 206.4 L480.76 206.4 L481.07 206.4 L481.37 206.4 L481.67 206.4 L481.97 206.4 L482.28 206.4 L482.58 206.4 L482.88 206.4 L483.18 206.4 L483.49 206.4 L483.79 206.4 L484.09 206.4 L484.39 206.4 L484.7 206.4 L485 206.4" fill="none" stroke="#587296" stroke-width="1"/>
<line x1="420.4" y1="151.1" x2="420.4" y2="206.9" stroke="#0a0a0a" stroke-width="1.35"/>
<line x1="417.8" y1="206.4" x2="420.4" y2="206.4" stroke="#0a0a0a" stroke-width="1.1"/>
<text x="414.8" y="209.39" font-size="8.3" text-anchor="end" fill="#262626" stroke="#262626" stroke-width="0.1">0</text>
<line x1="417.8" y1="195.82" x2="420.4" y2="195.82" stroke="#0a0a0a" stroke-width="1.1"/>
<text x="414.8" y="198.81" font-size="8.3" text-anchor="end" fill="#262626" stroke="#262626" stroke-width="0.1">50</text>
<line x1="417.8" y1="185.24" x2="420.4" y2="185.24" stroke="#0a0a0a" stroke-width="1.1"/>
<text x="414.8" y="188.23" font-size="8.3" text-anchor="end" fill="#262626" stroke="#262626" stroke-width="0.1">100</text>
<line x1="417.8" y1="174.66" x2="420.4" y2="174.66" stroke="#0a0a0a" stroke-width="1.1"/>
<text x="414.8" y="177.65" font-size="8.3" text-anchor="end" fill="#262626" stroke="#262626" stroke-width="0.1">150</text>
<line x1="417.8" y1="164.08" x2="420.4" y2="164.08" stroke="#0a0a0a" stroke-width="1.1"/>
<text x="414.8" y="167.07" font-size="8.3" text-anchor="end" fill="#262626" stroke="#262626" stroke-width="0.1">200</text>
<line x1="417.8" y1="153.5" x2="420.4" y2="153.5" stroke="#0a0a0a" stroke-width="1.1"/>
<text x="414.8" y="156.49" font-size="8.3" text-anchor="end" fill="#262626" stroke="#262626" stroke-width="0.1">250</text>
<text transform="translate(395.8 178.15) rotate(-90)" x="0" y="0" font-size="9" text-anchor="middle" fill="#262626" stroke="#262626" stroke-width="0.25" textLength="43.1" lengthAdjust="spacingAndGlyphs">Thrombin (nM)</text>
<line x1="419.9" y1="206.4" x2="486" y2="206.4" stroke="#0a0a0a" stroke-width="1.35"/>
<line x1="420.6" y1="206.4" x2="420.6" y2="208.6" stroke="#0a0a0a" stroke-width="1.1"/>
<text x="420.6" y="219.1" font-size="8.3" text-anchor="middle" fill="#262626" stroke="#262626" stroke-width="0.1">0</text>
<line x1="436.32" y1="206.4" x2="436.32" y2="208.6" stroke="#0a0a0a" stroke-width="1.1"/>
<text x="436.32" y="219.1" font-size="8.3" text-anchor="middle" fill="#262626" stroke="#262626" stroke-width="0.1">20</text>
<line x1="452.04" y1="206.4" x2="452.04" y2="208.6" stroke="#0a0a0a" stroke-width="1.1"/>
<text x="452.04" y="219.1" font-size="8.3" text-anchor="middle" fill="#262626" stroke="#262626" stroke-width="0.1">40</text>
<line x1="467.76" y1="206.4" x2="467.76" y2="208.6" stroke="#0a0a0a" stroke-width="1.1"/>
<text x="467.76" y="219.1" font-size="8.3" text-anchor="middle" fill="#262626" stroke="#262626" stroke-width="0.1">60</text>
<line x1="483.48" y1="206.4" x2="483.48" y2="208.6" stroke="#0a0a0a" stroke-width="1.1"/>
<text x="483.48" y="219.1" font-size="8.3" text-anchor="middle" fill="#262626" stroke="#262626" stroke-width="0.1">80</text>
<text x="453.6" y="232.1" font-size="9.6" text-anchor="middle" fill="#262626" stroke="#262626" stroke-width="0.25" textLength="32" lengthAdjust="spacingAndGlyphs">Time (min)</text>
<line x1="486.6" y1="166.4" x2="495.4" y2="166.4" stroke="#587296" stroke-width="1.2"/>
<line x1="486.6" y1="173.7" x2="495.4" y2="173.7" stroke="#c84a66" stroke-width="1.2"/>
<text x="498.7" y="169" font-size="7.3" text-anchor="start" fill="#262626" stroke="#262626" stroke-width="0.1" textLength="12.9" lengthAdjust="spacingAndGlyphs">WB</text>
<text x="498.6" y="176.3" font-size="7.3" text-anchor="start" fill="#262626" stroke="#262626" stroke-width="0.1" textLength="14.2" lengthAdjust="spacingAndGlyphs">PRP</text>
<text x="6.9" y="247.3" font-size="10.6" text-anchor="start" font-weight="bold" fill="#262626" stroke="#262626" stroke-width="0.6">A</text>
<rect x="20.9" y="242.9" width="1.5" height="4.9" fill="#262626"/>
<rect x="20.9" y="240.9" width="1.5" height="1.45" fill="#262626"/>
<rect x="23.95" y="242.9" width="1.5" height="4.9" fill="#262626"/>
<rect x="23.95" y="240.9" width="1.5" height="1.45" fill="#262626"/>
<rect x="27" y="242.9" width="1.5" height="4.9" fill="#262626"/>
<rect x="27" y="240.9" width="1.5" height="1.45" fill="#262626"/>
<text x="85.75" y="260.9" font-size="8.9" text-anchor="middle" fill="#262626" stroke="#262626" stroke-width="0.1" textLength="48" lengthAdjust="spacingAndGlyphs">TF (1.0 pM)</text>
<path d="M51.6 321.8 L51.9 321.8 L52.2 321.8 L52.5 321.8 L52.8 321.8 L53.1 321.8 L53.4 321.8 L53.7 321.8 L54 321.8 L54.3 321.8 L54.6 321.8 L54.9 321.8 L55.2 321.8 L55.5 321.8 L55.8 321.8 L56.1 321.8 L56.4 321.8 L56.7 321.8 L57.04 321.03 L57.38 318.97 L57.71 315.97 L58.05 312.38 L58.39 308.57 L58.73 304.9 L59.06 301.71 L59.4 299.37 L59.7 297.84 L60 296.43 L60.3 295.12 L60.6 293.91 L60.9 292.78 L61.2 291.72 L61.5 290.71 L61.8 289.74 L62.1 288.79 L62.43 287.67 L62.77 286.49 L63.1 285.36 L63.43 284.41 L63.77 283.75 L64.1 283.5 L64.4 283.58 L64.7 283.79 L65 284.13 L65.3 284.55 L65.6 285.05 L65.9 285.6 L66.2 286.17 L66.5 286.75 L66.8 287.31 L67.1 287.88 L67.4 288.52 L67.7 289.21 L68 289.94 L68.3 290.72 L68.6 291.52 L68.9 292.36 L69.2 293.21 L69.5 294.08 L69.8 294.98 L70.1 295.92 L70.4 296.91 L70.7 297.93 L71 298.99 L71.3 300.07 L71.6 301.16 L71.9 302.27 L72.2 303.39 L72.53 304.68 L72.87 306.04 L73.2 307.42 L73.53 308.81 L73.87 310.16 L74.2 311.43 L74.53 312.7 L74.87 314 L75.2 315.26 L75.53 316.43 L75.87 317.43 L76.2 318.2 L76.55 318.8 L76.9 319.3 L77.25 319.73 L77.6 320.13 L77.95 320.52 L78.3 320.95" fill="none" stroke="#c84a66" stroke-width="1"/>
<path d="M51.6 321.8 L51.9 321.8 L52.2 321.8 L52.5 321.8 L52.8 321.8 L53.1 321.8 L53.4 321.8 L53.7 321.8 L54 321.8 L54.3 321.8 L54.6 321.8 L54.9 321.8 L55.2 321.8 L55.5 321.8 L55.8 321.8 L56.1 321.8 L56.43 320.92 L56.75 318.52 L57.08 315.01 L57.4 310.75 L57.73 306.14 L58.05 301.57 L58.38 297.42 L58.7 294.08 L59.06 290.92 L59.42 287.79 L59.78 284.91 L60.14 282.49 L60.5 280.75 L60.82 279.57 L61.14 278.48 L61.46 277.57 L61.78 276.96 L62.1 276.73 L62.43 277.04 L62.77 277.86 L63.1 279.01 L63.43 280.31 L63.77 281.58 L64.1 282.65 L64.4 283.46 L64.7 284.23 L65 284.98 L65.3 285.71 L65.6 286.44 L65.9 287.17 L66.2 287.9 L66.5 288.65 L66.8 289.43 L67.1 290.22 L67.4 291.03 L67.7 291.85 L68 292.68 L68.3 293.52 L68.6 294.35 L68.9 295.19 L69.2 296.01 L69.5 296.83 L69.8 297.65 L70.1 298.47 L70.4 299.29 L70.7 300.11 L71 300.92 L71.3 301.72 L71.6 302.51 L71.9 303.28 L72.2 304.03 L72.5 304.76 L72.8 305.5 L73.1 306.24 L73.4 306.96 L73.7 307.66 L74 308.34 L74.3 308.99 L74.6 309.6 L74.9 310.16 L75.24 310.74 L75.58 311.28 L75.91 311.79 L76.25 312.28 L76.59 312.75 L76.92 313.22 L77.26 313.69 L77.6 314.18" fill="none" stroke="#5c9cc4" stroke-width="1"/>
<polyline points="64.5,284.13 64.9,284.84 65.3,285.81 65.7,285.14 66.1,287.16 66.5,286.88 66.9,286.89 67.3,289.27 67.7,289.47 68.1,290.37 68.5,292.35 68.9,292.78 69.3,293.23 69.7,294.85 70.1,295.77 70.5,298.11 70.9,299.35 71.3,300.95 71.7,301.66 72.1,302.33 72.5,304.44 72.9,305.74 73.3,308.01 73.7,309 74.1,311.7 74.5,312.8 74.9,313.51 75.3,314.77 75.7,316.64 76.1,318.56 76.5,318.93 76.9,319.47 77.3,319.79 77.7,319.34 78.1,320.82 78.5,319.91 78.9,319.99 79.3,321.46 79.7,320.98" fill="none" stroke="#d2243f" stroke-width="1.7" stroke-linejoin="round"/>
<path d="M73.2 311.22 L75.5 317.14 L78.5 320.74 L80.5 321.38 L81 321.8 Z" fill="#d2243f"/>
<path d="M73.2 312.28 L80 321.8 L74.5 321.8 Z" fill="#d2243f"/>
<path d="M84.8 321.8 L89.4 308.68 L90.1 321.8 Z" fill="#d2243f"/>
<polyline points="63,280.74 63.45,280.37 63.9,281.73 64.35,283.34 64.8,285.25 65.25,284.67 65.7,285.75 66.15,287.76 66.6,288.91 67.05,290.89 67.5,292.82 67.95,292.96 68.4,293.56 68.85,296.32 69.3,295.41 69.75,298.29 70.2,299.49 70.65,301.25 71.1,299.62 71.55,301.59 72,302.38 72.45,304.25 72.9,307 73.35,307.15 73.8,307.67 74.25,309.82 74.7,308.37 75.15,310.92 75.6,312.23 76.05,310.93 76.5,313.66 76.95,311.95 77.4,314.02 77.85,314.25" fill="none" stroke="#1d3768" stroke-width="1.4" stroke-linejoin="round"/>
<polyline points="64,284.14 64.31,284.88 64.62,285.62 64.93,286.36 65.24,287.1 65.56,287.84 65.87,288.59 66.18,289.34 66.49,290.12 66.8,290.91 67.1,291.69 67.4,292.5 67.7,293.32 68,294.16 68.3,295 68.6,295.84 68.9,296.68 69.2,297.5 69.5,298.31 69.8,299.11 70.1,299.91 70.4,300.71 70.7,301.51 71,302.29 71.3,303.07 71.6,303.83 71.9,304.57 72.2,305.3 72.5,306.01 72.8,306.72 73.1,307.42 73.4,308.1 73.7,308.78 74,309.43 74.3,310.05 74.6,310.65 74.9,311.22 75.24,311.82 75.58,312.38 75.91,312.91 76.25,313.42 76.59,313.93 76.92,314.43 77.26,314.93 77.6,315.45" fill="none" stroke="#5c9cc4" stroke-width="0.8" stroke-linejoin="round"/>
<polyline points="77.5,313.54 78,313.65 78.5,311.9 79,312.34 79.5,316.29 80,316.56 80.5,316.35 81,316.23 81.5,313.69 82,312.39 82.5,316.49 83,316.82 83.5,316.93 84,317.04 84.5,317.43 85,318.26 85.5,318.39 86,319.11 86.5,317.94 87,318.27 87.5,318.29 88,314.92 88.5,319.63 89,319.1 89.5,319.35 90,319.6 90.5,315.94 91,319.99 91.5,316.34 92,315.66 92.5,319.82 93,318.83 93.5,317.08 94,319.09 94.5,320.43 95,319.12 95.5,319.27 96,319.19 96.5,319.47 97,315.19 97.5,319.5 98,319.73 98.5,319.8 99,319.56 99.5,320.4 100,316.04 100.5,317.21 101,316.15 101.5,319.95 102,316.66 102.5,320.81 103,315.25 103.5,317.01 104,319.85 104.5,316.59 105,319.4 105.5,316.95 106,319.18 106.5,320.15 107,320.51 107.5,316.61 108,319.71 108.5,319.83 109,320.66 109.5,320.5 110,320.65 110.5,320.55 111,317.02 111.5,316.12 112,321.26 112.5,320.92 113,320.25 113.5,320.77 114,321.08 114.5,321.14 115,320.96 115.5,320.65 116,317.88" fill="none" stroke="#1d3768" stroke-width="1.1" stroke-linejoin="round"/>
<line x1="51.5" y1="266.5" x2="51.5" y2="322.3" stroke="#0a0a0a" stroke-width="1.35"/>
<line x1="48.9" y1="321.8" x2="51.5" y2="321.8" stroke="#0a0a0a" stroke-width="1.1"/>
<text x="45.9" y="324.79" font-size="8.3" text-anchor="end" fill="#262626" stroke="#262626" stroke-width="0.1">0</text>
<line x1="48.9" y1="311.22" x2="51.5" y2="311.22" stroke="#0a0a0a" stroke-width="1.1"/>
<text x="45.9" y="314.21" font-size="8.3" text-anchor="end" fill="#262626" stroke="#262626" stroke-width="0.1">50</text>
<line x1="48.9" y1="300.64" x2="51.5" y2="300.64" stroke="#0a0a0a" stroke-width="1.1"/>
<text x="45.9" y="303.63" font-size="8.3" text-anchor="end" fill="#262626" stroke="#262626" stroke-width="0.1">100</text>
<line x1="48.9" y1="290.06" x2="51.5" y2="290.06" stroke="#0a0a0a" stroke-width="1.1"/>
<text x="45.9" y="293.05" font-size="8.3" text-anchor="end" fill="#262626" stroke="#262626" stroke-width="0.1">150</text>
<line x1="48.9" y1="279.48" x2="51.5" y2="279.48" stroke="#0a0a0a" stroke-width="1.1"/>
<text x="45.9" y="282.47" font-size="8.3" text-anchor="end" fill="#262626" stroke="#262626" stroke-width="0.1">200</text>
<line x1="48.9" y1="268.9" x2="51.5" y2="268.9" stroke="#0a0a0a" stroke-width="1.1"/>
<text x="45.9" y="271.89" font-size="8.3" text-anchor="end" fill="#262626" stroke="#262626" stroke-width="0.1">250</text>
<text transform="translate(26.9 293.55) rotate(-90)" x="0" y="0" font-size="9" text-anchor="middle" fill="#262626" stroke="#262626" stroke-width="0.25" textLength="43.1" lengthAdjust="spacingAndGlyphs">Thrombin (nM)</text>
<line x1="51" y1="321.8" x2="117.6" y2="321.8" stroke="#0a0a0a" stroke-width="1.35"/>
<line x1="51.6" y1="321.8" x2="51.6" y2="324" stroke="#0a0a0a" stroke-width="1.1"/>
<text x="51.6" y="334.5" font-size="8.3" text-anchor="middle" fill="#262626" stroke="#262626" stroke-width="0.1">0</text>
<line x1="64.32" y1="321.8" x2="64.32" y2="324" stroke="#0a0a0a" stroke-width="1.1"/>
<text x="64.32" y="334.5" font-size="8.3" text-anchor="middle" fill="#262626" stroke="#262626" stroke-width="0.1">10</text>
<line x1="77.04" y1="321.8" x2="77.04" y2="324" stroke="#0a0a0a" stroke-width="1.1"/>
<text x="77.04" y="334.5" font-size="8.3" text-anchor="middle" fill="#262626" stroke="#262626" stroke-width="0.1">20</text>
<line x1="89.76" y1="321.8" x2="89.76" y2="324" stroke="#0a0a0a" stroke-width="1.1"/>
<text x="89.76" y="334.5" font-size="8.3" text-anchor="middle" fill="#262626" stroke="#262626" stroke-width="0.1">30</text>
<line x1="102.48" y1="321.8" x2="102.48" y2="324" stroke="#0a0a0a" stroke-width="1.1"/>
<text x="102.48" y="334.5" font-size="8.3" text-anchor="middle" fill="#262626" stroke="#262626" stroke-width="0.1">40</text>
<line x1="115.2" y1="321.8" x2="115.2" y2="324" stroke="#0a0a0a" stroke-width="1.1"/>
<text x="115.2" y="334.5" font-size="8.3" text-anchor="middle" fill="#262626" stroke="#262626" stroke-width="0.1">50</text>
<text x="84.95" y="347.5" font-size="9.6" text-anchor="middle" fill="#262626" stroke="#262626" stroke-width="0.25" textLength="32" lengthAdjust="spacingAndGlyphs">Time (min)</text>
<text x="129.3" y="247.3" font-size="10.6" text-anchor="start" font-weight="bold" fill="#262626" stroke="#262626" stroke-width="0.6">B</text>
<rect x="143.4" y="242.9" width="1.5" height="4.9" fill="#262626"/>
<rect x="143.4" y="240.9" width="1.5" height="1.45" fill="#262626"/>
<rect x="146.45" y="242.9" width="1.5" height="4.9" fill="#262626"/>
<rect x="146.45" y="240.9" width="1.5" height="1.45" fill="#262626"/>
<rect x="149.5" y="242.9" width="1.5" height="4.9" fill="#262626"/>
<rect x="149.5" y="240.9" width="1.5" height="1.45" fill="#262626"/>
<text x="206.95" y="260.9" font-size="8.9" text-anchor="middle" fill="#262626" stroke="#262626" stroke-width="0.1" textLength="49" lengthAdjust="spacingAndGlyphs">Rvv-X (1e-5)</text>
<path d="M174.5 321.8 L174.81 321.8 L175.11 321.8 L175.42 321.8 L175.72 321.8 L176.03 321.8 L176.34 321.8 L176.64 321.8 L176.95 321.8 L177.25 321.8 L177.56 321.8 L177.86 321.8 L178.17 321.8 L178.48 321.8 L178.78 321.8 L179.09 321.8 L179.39 321.8 L179.7 321.8 L180.02 321.54 L180.34 320.8 L180.66 319.68 L180.98 318.26 L181.3 316.62 L181.62 314.86 L181.94 313.06 L182.26 311.3 L182.58 309.67 L182.9 308.26 L183.22 306.93 L183.54 305.53 L183.86 304.09 L184.18 302.65 L184.5 301.25 L184.82 299.93 L185.14 298.72 L185.46 297.67 L185.78 296.82 L186.1 296.2 L186.42 295.72 L186.73 295.25 L187.05 294.81 L187.37 294.4 L187.68 294.01 L188 293.67 L188.32 293.36 L188.63 293.1 L188.95 292.89 L189.27 292.73 L189.58 292.63 L189.9 292.6 L190.21 292.7 L190.52 292.97 L190.83 293.39 L191.14 293.94 L191.45 294.58 L191.76 295.3 L192.07 296.05 L192.38 296.82 L192.69 297.59 L193 298.31 L193.32 299.09 L193.64 299.98 L193.96 300.94 L194.28 301.95 L194.6 302.98 L194.92 304.02 L195.24 305.03 L195.56 305.98 L195.88 306.85 L196.2 307.62 L196.52 308.33 L196.84 309.02 L197.16 309.7 L197.48 310.35 L197.8 310.96 L198.12 311.54 L198.44 312.08 L198.76 312.56 L199.08 312.98 L199.4 313.34 L199.72 313.65 L200.04 313.94 L200.36 314.23 L200.68 314.49 L200.99 314.75 L201.31 314.99 L201.63 315.22 L201.95 315.43 L202.27 315.63 L202.59 315.82 L202.91 316 L203.22 316.16 L203.54 316.32 L203.86 316.46 L204.18 316.6 L204.5 316.72 L204.8 316.83 L205.11 316.94 L205.41 317.04 L205.72 317.14 L206.02 317.24 L206.32 317.33 L206.63 317.41 L206.93 317.5 L207.24 317.58 L207.54 317.66 L207.84 317.73 L208.15 317.8 L208.45 317.87 L208.76 317.94 L209.06 318.01 L209.36 318.07 L209.67 318.14 L209.97 318.2 L210.28 318.26 L210.58 318.32 L210.88 318.38 L211.19 318.44 L211.49 318.51 L211.8 318.57 L212.1 318.63 L212.4 318.69 L212.71 318.75 L213.01 318.81 L213.32 318.86 L213.62 318.92 L213.92 318.98 L214.23 319.03 L214.53 319.09 L214.84 319.14 L215.14 319.19 L215.44 319.25 L215.75 319.3 L216.05 319.35 L216.36 319.4 L216.66 319.45 L216.96 319.5 L217.27 319.54 L217.57 319.59 L217.88 319.64 L218.18 319.68 L218.48 319.73 L218.79 319.77 L219.09 319.81 L219.4 319.85 L219.7 319.9 L220 319.94 L220.31 319.97 L220.61 320.01 L220.92 320.05 L221.22 320.09 L221.52 320.12 L221.83 320.16 L222.13 320.19 L222.44 320.22 L222.74 320.26 L223.04 320.29 L223.35 320.32 L223.65 320.35 L223.96 320.38 L224.26 320.42 L224.56 320.45 L224.87 320.48 L225.17 320.51 L225.48 320.54 L225.78 320.57 L226.08 320.61 L226.39 320.64 L226.69 320.67 L227 320.71 L227.3 320.74 L227.61 320.78 L227.91 320.81 L228.22 320.85 L228.53 320.88 L228.83 320.92 L229.14 320.96 L229.45 320.99 L229.76 321.03 L230.06 321.07 L230.37 321.1 L230.68 321.14 L230.98 321.17 L231.29 321.21 L231.6 321.25 L231.9 321.28 L232.21 321.32 L232.52 321.36 L232.82 321.4 L233.13 321.43 L233.44 321.47 L233.74 321.51 L234.05 321.54 L234.36 321.58 L234.67 321.62 L234.97 321.65 L235.28 321.69 L235.59 321.73 L235.89 321.76 L236.2 321.8" fill="none" stroke="#c84a66" stroke-width="1"/>
<path d="M174.5 321.8 L174.8 321.8 L175.1 321.8 L175.4 321.8 L175.7 321.8 L176 321.8 L176.3 321.8 L176.6 321.8 L176.9 321.8 L177.2 321.8 L177.5 321.8 L177.8 321.8 L178.1 321.8 L178.4 321.8 L178.72 321.23 L179.05 319.66 L179.38 317.36 L179.7 314.55 L180.03 311.49 L180.35 308.41 L180.68 305.56 L181 303.18 L181.35 300.82 L181.7 298.33 L182.05 295.92 L182.4 293.77 L182.75 292.11 L183.1 291.12 L183.44 290.58 L183.78 290.12 L184.12 289.75 L184.46 289.51 L184.8 289.43 L185.12 289.55 L185.43 289.9 L185.75 290.41 L186.07 291.03 L186.38 291.71 L186.7 292.39 L187.01 293.14 L187.32 294.07 L187.64 295.12 L187.95 296.26 L188.26 297.42 L188.57 298.57 L188.89 299.66 L189.2 300.64 L189.52 301.57 L189.84 302.48 L190.16 303.38 L190.48 304.26 L190.8 305.11 L191.12 305.94 L191.44 306.74 L191.76 307.5 L192.08 308.22 L192.4 308.89 L192.72 309.53 L193.03 310.16 L193.35 310.78 L193.67 311.38 L193.98 311.96 L194.3 312.52 L194.62 313.05 L194.93 313.55 L195.25 314.03 L195.57 314.47 L195.88 314.87 L196.2 315.24 L196.5 315.56 L196.8 315.87 L197.1 316.17 L197.4 316.45 L197.7 316.73 L198 316.99 L198.3 317.24 L198.6 317.48 L198.9 317.71 L199.2 317.92 L199.5 318.13 L199.8 318.32 L200.1 318.5 L200.4 318.68 L200.7 318.84 L201.01 319 L201.32 319.15 L201.64 319.3 L201.95 319.45 L202.26 319.58 L202.57 319.72 L202.89 319.85 L203.2 319.97 L203.51 320.08 L203.82 320.2 L204.14 320.3 L204.45 320.4 L204.76 320.5 L205.07 320.58 L205.39 320.67 L205.7 320.74 L206 320.81 L206.31 320.89 L206.61 320.96 L206.92 321.03 L207.22 321.1 L207.53 321.17 L207.83 321.24 L208.14 321.3 L208.44 321.37 L208.75 321.43 L209.05 321.49 L209.36 321.54 L209.66 321.59 L209.97 321.64 L210.27 321.68 L210.58 321.71 L210.88 321.74 L211.19 321.77 L211.49 321.79 L211.8 321.8 L212.1 321.8 L212.4 321.8 L212.7 321.8 L213 321.8 L213.3 321.8 L213.61 321.8 L213.91 321.8 L214.21 321.8 L214.51 321.8 L214.81 321.8 L215.11 321.8 L215.41 321.8 L215.71 321.8 L216.02 321.8 L216.32 321.8 L216.62 321.8 L216.92 321.8 L217.22 321.8 L217.52 321.8 L217.82 321.8 L218.12 321.8 L218.42 321.8 L218.73 321.8 L219.03 321.8 L219.33 321.8 L219.63 321.8 L219.93 321.8 L220.23 321.8 L220.53 321.8 L220.83 321.8 L221.13 321.8 L221.44 321.8 L221.74 321.8 L222.04 321.8 L222.34 321.8 L222.64 321.8 L222.94 321.8 L223.24 321.8 L223.54 321.8 L223.85 321.8 L224.15 321.8 L224.45 321.8 L224.75 321.8 L225.05 321.8 L225.35 321.8 L225.65 321.8 L225.95 321.8 L226.25 321.8 L226.56 321.8 L226.86 321.8 L227.16 321.8 L227.46 321.8 L227.76 321.8 L228.06 321.8 L228.36 321.8 L228.66 321.8 L228.97 321.8 L229.27 321.8 L229.57 321.8 L229.87 321.8 L230.17 321.8 L230.47 321.8 L230.77 321.8 L231.07 321.8 L231.37 321.8 L231.68 321.8 L231.98 321.8 L232.28 321.8 L232.58 321.8 L232.88 321.8 L233.18 321.8 L233.48 321.8 L233.78 321.8 L234.08 321.8 L234.39 321.8 L234.69 321.8 L234.99 321.8 L235.29 321.8 L235.59 321.8 L235.89 321.8 L236.19 321.8 L236.49 321.8 L236.8 321.8 L237.1 321.8 L237.4 321.8 L237.7 321.8 L238 321.8" fill="none" stroke="#587296" stroke-width="1"/>
<line x1="174.5" y1="266.5" x2="174.5" y2="322.3" stroke="#0a0a0a" stroke-width="1.35"/>
<line x1="171.9" y1="321.8" x2="174.5" y2="321.8" stroke="#0a0a0a" stroke-width="1.1"/>
<text x="168.9" y="324.79" font-size="8.3" text-anchor="end" fill="#262626" stroke="#262626" stroke-width="0.1">0</text>
<line x1="171.9" y1="311.22" x2="174.5" y2="311.22" stroke="#0a0a0a" stroke-width="1.1"/>
<text x="168.9" y="314.21" font-size="8.3" text-anchor="end" fill="#262626" stroke="#262626" stroke-width="0.1">50</text>
<line x1="171.9" y1="300.64" x2="174.5" y2="300.64" stroke="#0a0a0a" stroke-width="1.1"/>
<text x="168.9" y="303.63" font-size="8.3" text-anchor="end" fill="#262626" stroke="#262626" stroke-width="0.1">100</text>
<line x1="171.9" y1="290.06" x2="174.5" y2="290.06" stroke="#0a0a0a" stroke-width="1.1"/>
<text x="168.9" y="293.05" font-size="8.3" text-anchor="end" fill="#262626" stroke="#262626" stroke-width="0.1">150</text>
<line x1="171.9" y1="279.48" x2="174.5" y2="279.48" stroke="#0a0a0a" stroke-width="1.1"/>
<text x="168.9" y="282.47" font-size="8.3" text-anchor="end" fill="#262626" stroke="#262626" stroke-width="0.1">200</text>
<line x1="171.9" y1="268.9" x2="174.5" y2="268.9" stroke="#0a0a0a" stroke-width="1.1"/>
<text x="168.9" y="271.89" font-size="8.3" text-anchor="end" fill="#262626" stroke="#262626" stroke-width="0.1">250</text>
<text transform="translate(149.9 293.55) rotate(-90)" x="0" y="0" font-size="9" text-anchor="middle" fill="#262626" stroke="#262626" stroke-width="0.25" textLength="43.1" lengthAdjust="spacingAndGlyphs">Thrombin (nM)</text>
<line x1="174" y1="321.8" x2="239" y2="321.8" stroke="#0a0a0a" stroke-width="1.35"/>
<line x1="174.3" y1="321.8" x2="174.3" y2="324" stroke="#0a0a0a" stroke-width="1.1"/>
<text x="174.3" y="334.5" font-size="8.3" text-anchor="middle" fill="#262626" stroke="#262626" stroke-width="0.1">0</text>
<line x1="184.83" y1="321.8" x2="184.83" y2="324" stroke="#0a0a0a" stroke-width="1.1"/>
<text x="184.83" y="334.5" font-size="8.3" text-anchor="middle" fill="#262626" stroke="#262626" stroke-width="0.1">10</text>
<line x1="195.36" y1="321.8" x2="195.36" y2="324" stroke="#0a0a0a" stroke-width="1.1"/>
<text x="195.36" y="334.5" font-size="8.3" text-anchor="middle" fill="#262626" stroke="#262626" stroke-width="0.1">20</text>
<line x1="205.89" y1="321.8" x2="205.89" y2="324" stroke="#0a0a0a" stroke-width="1.1"/>
<text x="205.89" y="334.5" font-size="8.3" text-anchor="middle" fill="#262626" stroke="#262626" stroke-width="0.1">30</text>
<line x1="216.42" y1="321.8" x2="216.42" y2="324" stroke="#0a0a0a" stroke-width="1.1"/>
<text x="216.42" y="334.5" font-size="8.3" text-anchor="middle" fill="#262626" stroke="#262626" stroke-width="0.1">40</text>
<line x1="226.95" y1="321.8" x2="226.95" y2="324" stroke="#0a0a0a" stroke-width="1.1"/>
<text x="226.95" y="334.5" font-size="8.3" text-anchor="middle" fill="#262626" stroke="#262626" stroke-width="0.1">50</text>
<line x1="237.48" y1="321.8" x2="237.48" y2="324" stroke="#0a0a0a" stroke-width="1.1"/>
<text x="237.48" y="334.5" font-size="8.3" text-anchor="middle" fill="#262626" stroke="#262626" stroke-width="0.1">60</text>
<text x="207.15" y="347.5" font-size="9.6" text-anchor="middle" fill="#262626" stroke="#262626" stroke-width="0.25" textLength="32" lengthAdjust="spacingAndGlyphs">Time (min)</text>
<text x="251.9" y="247.3" font-size="10.6" text-anchor="start" font-weight="bold" fill="#262626" stroke="#262626" stroke-width="0.6">C</text>
<rect x="265.4" y="242.9" width="1.5" height="4.9" fill="#262626"/>
<rect x="265.4" y="240.9" width="1.5" height="1.45" fill="#262626"/>
<rect x="268.45" y="242.9" width="1.5" height="4.9" fill="#262626"/>
<rect x="268.45" y="240.9" width="1.5" height="1.45" fill="#262626"/>
<rect x="271.5" y="242.9" width="1.5" height="4.9" fill="#262626"/>
<rect x="271.5" y="240.9" width="1.5" height="1.45" fill="#262626"/>
<text x="329.45" y="260.9" font-size="8.9" text-anchor="middle" fill="#262626" stroke="#262626" stroke-width="0.1" textLength="52.7" lengthAdjust="spacingAndGlyphs">FXa (1.0 nM)</text>
<path d="M296.1 321.8 L296.46 321.8 L296.82 321.8 L297.18 321.8 L297.54 321.8 L297.9 321.8 L298.21 321.73 L298.53 321.53 L298.84 321.22 L299.16 320.81 L299.47 320.32 L299.79 319.77 L300.1 319.18 L300.41 318.56 L300.73 317.93 L301.04 317.31 L301.36 316.71 L301.67 316.16 L301.99 315.66 L302.3 315.24 L302.62 314.86 L302.94 314.47 L303.26 314.09 L303.57 313.72 L303.89 313.34 L304.21 312.98 L304.53 312.63 L304.85 312.28 L305.17 311.95 L305.49 311.64 L305.81 311.34 L306.12 311.06 L306.44 310.8 L306.76 310.56 L307.08 310.35 L307.4 310.16 L307.7 310 L308 309.84 L308.3 309.69 L308.6 309.54 L308.9 309.4 L309.2 309.26 L309.5 309.12 L309.8 309 L310.1 308.88 L310.4 308.77 L310.7 308.67 L311 308.57 L311.3 308.49 L311.6 308.41 L311.9 308.35 L312.2 308.3 L312.5 308.26 L312.8 308.22 L313.1 308.19 L313.4 308.16 L313.7 308.13 L314 308.1 L314.3 308.07 L314.6 308.04 L314.9 308.02 L315.2 308 L315.5 307.98 L315.8 307.97 L316.1 307.96 L316.4 307.95 L316.7 307.94 L317 307.94 L317.31 307.94 L317.63 307.95 L317.94 307.97 L318.26 307.99 L318.57 308.02 L318.89 308.05 L319.2 308.09 L319.51 308.13 L319.83 308.18 L320.14 308.23 L320.46 308.29 L320.77 308.34 L321.09 308.41 L321.4 308.47 L321.7 308.55 L322 308.66 L322.3 308.81 L322.6 308.97 L322.9 309.17 L323.2 309.37 L323.5 309.6 L323.8 309.83 L324.1 310.07 L324.4 310.32 L324.7 310.56 L325 310.8 L325.32 311.07 L325.65 311.36 L325.97 311.68 L326.29 312.02 L326.62 312.38 L326.94 312.74 L327.26 313.1 L327.58 313.46 L327.91 313.81 L328.23 314.15 L328.55 314.47 L328.88 314.76 L329.2 315.03 L329.51 315.27 L329.82 315.5 L330.13 315.74 L330.44 315.96 L330.75 316.19 L331.06 316.41 L331.37 316.62 L331.68 316.83 L331.99 317.04 L332.3 317.24 L332.61 317.43 L332.92 317.62 L333.23 317.8 L333.54 317.97 L333.85 318.13 L334.16 318.29 L334.47 318.44 L334.78 318.58 L335.09 318.71 L335.4 318.84 L335.7 318.95 L336 319.06 L336.3 319.17 L336.6 319.28 L336.9 319.39 L337.2 319.49 L337.5 319.59 L337.8 319.69 L338.1 319.78 L338.4 319.87 L338.7 319.96 L339 320.04 L339.3 320.13 L339.6 320.2 L339.9 320.28 L340.2 320.35 L340.5 320.42 L340.8 320.48 L341.1 320.54 L341.4 320.6 L341.7 320.65 L342 320.7 L342.3 320.74 L342.61 320.78 L342.91 320.82 L343.22 320.86 L343.53 320.9 L343.84 320.94 L344.14 320.97 L344.45 321.01 L344.76 321.04 L345.07 321.07 L345.37 321.1 L345.68 321.13 L345.99 321.16 L346.3 321.19 L346.6 321.21 L346.91 321.24 L347.22 321.27 L347.53 321.29 L347.83 321.31 L348.14 321.33 L348.45 321.36 L348.76 321.38 L349.06 321.4 L349.37 321.41 L349.68 321.43 L349.99 321.45 L350.29 321.47 L350.6 321.48 L350.91 321.5 L351.21 321.51 L351.52 321.53 L351.83 321.54 L352.13 321.55 L352.44 321.57 L352.75 321.58 L353.06 321.59 L353.36 321.6 L353.67 321.61 L353.98 321.62 L354.28 321.63 L354.59 321.64 L354.9 321.65 L355.2 321.66 L355.51 321.67 L355.82 321.68 L356.12 321.69 L356.43 321.7 L356.74 321.71 L357.04 321.72 L357.35 321.73 L357.66 321.74 L357.97 321.75 L358.27 321.76 L358.58 321.77 L358.89 321.78 L359.19 321.79 L359.5 321.8" fill="none" stroke="#c84a66" stroke-width="1"/>
<path d="M296.1 321.8 L296.46 321.8 L296.82 321.8 L297.18 321.8 L297.54 321.8 L297.9 321.8 L298.22 321.55 L298.54 320.85 L298.86 319.78 L299.18 318.43 L299.5 316.89 L299.82 315.23 L300.14 313.53 L300.46 311.89 L300.78 310.39 L301.1 309.1 L301.41 307.96 L301.72 306.77 L302.03 305.57 L302.34 304.38 L302.65 303.22 L302.96 302.13 L303.27 301.13 L303.58 300.25 L303.89 299.51 L304.2 298.95 L304.5 298.5 L304.8 298.06 L305.1 297.64 L305.4 297.23 L305.7 296.84 L306 296.48 L306.3 296.14 L306.6 295.83 L306.9 295.55 L307.2 295.31 L307.5 295.1 L307.8 294.94 L308.1 294.82 L308.4 294.74 L308.7 294.72 L309.02 294.77 L309.33 294.91 L309.65 295.13 L309.97 295.43 L310.28 295.78 L310.6 296.18 L310.92 296.62 L311.23 297.08 L311.55 297.55 L311.87 298.03 L312.18 298.5 L312.5 298.95 L312.82 299.4 L313.13 299.9 L313.45 300.44 L313.77 301 L314.08 301.58 L314.4 302.18 L314.72 302.79 L315.03 303.39 L315.35 304 L315.67 304.59 L315.98 305.17 L316.3 305.72 L316.62 306.26 L316.93 306.8 L317.25 307.35 L317.57 307.89 L317.88 308.43 L318.2 308.97 L318.52 309.49 L318.83 310 L319.15 310.49 L319.47 310.97 L319.78 311.42 L320.1 311.85 L320.42 312.27 L320.73 312.67 L321.05 313.06 L321.37 313.44 L321.68 313.81 L322 314.17 L322.32 314.52 L322.63 314.86 L322.95 315.18 L323.27 315.5 L323.58 315.8 L323.9 316.09 L324.21 316.36 L324.52 316.63 L324.83 316.89 L325.14 317.14 L325.45 317.39 L325.76 317.62 L326.07 317.84 L326.38 318.05 L326.69 318.24 L327 318.41 L327.3 318.57 L327.6 318.72 L327.9 318.87 L328.2 319.01 L328.5 319.14 L328.8 319.26 L329.1 319.37 L329.4 319.48 L329.7 319.59 L330 319.68 L330.32 319.78 L330.64 319.87 L330.95 319.97 L331.27 320.05 L331.59 320.14 L331.91 320.22 L332.22 320.3 L332.54 320.37 L332.86 320.45 L333.18 320.52 L333.49 320.59 L333.81 320.65 L334.13 320.72 L334.45 320.78 L334.76 320.84 L335.08 320.9 L335.4 320.95 L335.71 321.01 L336.01 321.06 L336.32 321.11 L336.63 321.16 L336.93 321.21 L337.24 321.26 L337.55 321.31 L337.85 321.36 L338.16 321.4 L338.47 321.44 L338.77 321.48 L339.08 321.51 L339.39 321.54 L339.69 321.57 L340 321.59 L340.31 321.61 L340.62 321.63 L340.94 321.65 L341.25 321.67 L341.56 321.69 L341.88 321.7 L342.19 321.72 L342.5 321.73 L342.81 321.75 L343.12 321.76 L343.44 321.77 L343.75 321.78 L344.06 321.79 L344.38 321.8 L344.69 321.8 L345 321.8 L345.3 321.8 L345.6 321.8 L345.91 321.8 L346.21 321.8 L346.51 321.8 L346.81 321.8 L347.11 321.8 L347.42 321.8 L347.72 321.8 L348.02 321.8 L348.32 321.8 L348.62 321.8 L348.92 321.8 L349.23 321.8 L349.53 321.8 L349.83 321.8 L350.13 321.8 L350.43 321.8 L350.74 321.8 L351.04 321.8 L351.34 321.8 L351.64 321.8 L351.94 321.8 L352.25 321.8 L352.55 321.8 L352.85 321.8 L353.15 321.8 L353.45 321.8 L353.75 321.8 L354.06 321.8 L354.36 321.8 L354.66 321.8 L354.96 321.8 L355.26 321.8 L355.57 321.8 L355.87 321.8 L356.17 321.8 L356.47 321.8 L356.77 321.8 L357.08 321.8 L357.38 321.8 L357.68 321.8 L357.98 321.8 L358.28 321.8 L358.58 321.8 L358.89 321.8 L359.19 321.8 L359.49 321.8 L359.79 321.8 L360.09 321.8 L360.4 321.8 L360.7 321.8 L361 321.8" fill="none" stroke="#587296" stroke-width="1"/>
<line x1="296.1" y1="266.5" x2="296.1" y2="322.3" stroke="#0a0a0a" stroke-width="1.35"/>
<line x1="293.5" y1="321.8" x2="296.1" y2="321.8" stroke="#0a0a0a" stroke-width="1.1"/>
<text x="290.5" y="324.79" font-size="8.3" text-anchor="end" fill="#262626" stroke="#262626" stroke-width="0.1">0</text>
<line x1="293.5" y1="311.22" x2="296.1" y2="311.22" stroke="#0a0a0a" stroke-width="1.1"/>
<text x="290.5" y="314.21" font-size="8.3" text-anchor="end" fill="#262626" stroke="#262626" stroke-width="0.1">50</text>
<line x1="293.5" y1="300.64" x2="296.1" y2="300.64" stroke="#0a0a0a" stroke-width="1.1"/>
<text x="290.5" y="303.63" font-size="8.3" text-anchor="end" fill="#262626" stroke="#262626" stroke-width="0.1">100</text>
<line x1="293.5" y1="290.06" x2="296.1" y2="290.06" stroke="#0a0a0a" stroke-width="1.1"/>
<text x="290.5" y="293.05" font-size="8.3" text-anchor="end" fill="#262626" stroke="#262626" stroke-width="0.1">150</text>
<line x1="293.5" y1="279.48" x2="296.1" y2="279.48" stroke="#0a0a0a" stroke-width="1.1"/>
<text x="290.5" y="282.47" font-size="8.3" text-anchor="end" fill="#262626" stroke="#262626" stroke-width="0.1">200</text>
<line x1="293.5" y1="268.9" x2="296.1" y2="268.9" stroke="#0a0a0a" stroke-width="1.1"/>
<text x="290.5" y="271.89" font-size="8.3" text-anchor="end" fill="#262626" stroke="#262626" stroke-width="0.1">250</text>
<text transform="translate(271.5 293.55) rotate(-90)" x="0" y="0" font-size="9" text-anchor="middle" fill="#262626" stroke="#262626" stroke-width="0.25" textLength="43.1" lengthAdjust="spacingAndGlyphs">Thrombin (nM)</text>
<line x1="295.6" y1="321.8" x2="361.8" y2="321.8" stroke="#0a0a0a" stroke-width="1.35"/>
<line x1="296.2" y1="321.8" x2="296.2" y2="324" stroke="#0a0a0a" stroke-width="1.1"/>
<text x="296.2" y="334.5" font-size="8.3" text-anchor="middle" fill="#262626" stroke="#262626" stroke-width="0.1">0</text>
<line x1="306.77" y1="321.8" x2="306.77" y2="324" stroke="#0a0a0a" stroke-width="1.1"/>
<text x="306.77" y="334.5" font-size="8.3" text-anchor="middle" fill="#262626" stroke="#262626" stroke-width="0.1">10</text>
<line x1="317.34" y1="321.8" x2="317.34" y2="324" stroke="#0a0a0a" stroke-width="1.1"/>
<text x="317.34" y="334.5" font-size="8.3" text-anchor="middle" fill="#262626" stroke="#262626" stroke-width="0.1">20</text>
<line x1="327.91" y1="321.8" x2="327.91" y2="324" stroke="#0a0a0a" stroke-width="1.1"/>
<text x="327.91" y="334.5" font-size="8.3" text-anchor="middle" fill="#262626" stroke="#262626" stroke-width="0.1">30</text>
<line x1="338.48" y1="321.8" x2="338.48" y2="324" stroke="#0a0a0a" stroke-width="1.1"/>
<text x="338.48" y="334.5" font-size="8.3" text-anchor="middle" fill="#262626" stroke="#262626" stroke-width="0.1">40</text>
<line x1="349.05" y1="321.8" x2="349.05" y2="324" stroke="#0a0a0a" stroke-width="1.1"/>
<text x="349.05" y="334.5" font-size="8.3" text-anchor="middle" fill="#262626" stroke="#262626" stroke-width="0.1">50</text>
<line x1="359.62" y1="321.8" x2="359.62" y2="324" stroke="#0a0a0a" stroke-width="1.1"/>
<text x="359.62" y="334.5" font-size="8.3" text-anchor="middle" fill="#262626" stroke="#262626" stroke-width="0.1">60</text>
<text x="329.35" y="347.5" font-size="9.6" text-anchor="middle" fill="#262626" stroke="#262626" stroke-width="0.25" textLength="32" lengthAdjust="spacingAndGlyphs">Time (min)</text>
<text x="373.9" y="247.3" font-size="10.6" text-anchor="start" font-weight="bold" fill="#262626" stroke="#262626" stroke-width="0.6">D</text>
<rect x="389.2" y="242.9" width="1.5" height="4.9" fill="#262626"/>
<rect x="389.2" y="240.9" width="1.5" height="1.45" fill="#262626"/>
<rect x="392.25" y="242.9" width="1.5" height="4.9" fill="#262626"/>
<rect x="392.25" y="240.9" width="1.5" height="1.45" fill="#262626"/>
<rect x="395.3" y="242.9" width="1.5" height="4.9" fill="#262626"/>
<rect x="395.3" y="240.9" width="1.5" height="1.45" fill="#262626"/>
<text x="453.7" y="260.9" font-size="8.9" text-anchor="middle" fill="#262626" stroke="#262626" stroke-width="0.1" textLength="75.1" lengthAdjust="spacingAndGlyphs">Thrombin (1.0 nM)</text>
<path d="M420.4 321.8 L420.71 321.8 L421.01 321.8 L421.32 321.8 L421.62 321.8 L421.93 321.8 L422.23 321.8 L422.54 321.8 L422.84 321.8 L423.15 321.8 L423.46 321.8 L423.76 321.8 L424.07 321.8 L424.37 321.8 L424.68 321.8 L424.98 321.8 L425.29 321.8 L425.59 321.8 L425.9 321.8 L426.2 321.7 L426.5 321.41 L426.8 320.97 L427.1 320.41 L427.4 319.76 L427.7 319.04 L428 318.3 L428.3 317.56 L428.6 316.85 L428.9 316.21 L429.2 315.66 L429.52 315.13 L429.84 314.6 L430.16 314.06 L430.48 313.53 L430.8 313.01 L431.12 312.53 L431.44 312.07 L431.76 311.66 L432.08 311.31 L432.4 311.01 L432.7 310.76 L433 310.53 L433.3 310.31 L433.6 310.1 L433.9 309.91 L434.2 309.73 L434.5 309.57 L434.8 309.42 L435.1 309.3 L435.4 309.19 L435.7 309.1 L436.02 309.02 L436.35 308.95 L436.68 308.88 L437 308.81 L437.32 308.76 L437.65 308.72 L437.98 308.69 L438.3 308.68 L438.62 308.7 L438.95 308.77 L439.27 308.86 L439.6 308.99 L439.93 309.14 L440.25 309.31 L440.57 309.49 L440.9 309.67 L441.23 309.86 L441.55 310.04 L441.88 310.22 L442.2 310.37 L442.51 310.52 L442.82 310.66 L443.14 310.81 L443.45 310.96 L443.76 311.11 L444.07 311.26 L444.38 311.42 L444.69 311.57 L445.01 311.72 L445.32 311.88 L445.63 312.03 L445.94 312.18 L446.25 312.33 L446.56 312.48 L446.88 312.63 L447.19 312.77 L447.5 312.91 L447.81 313.05 L448.12 313.19 L448.43 313.33 L448.74 313.47 L449.05 313.61 L449.36 313.75 L449.67 313.88 L449.98 314.02 L450.29 314.15 L450.6 314.29 L450.9 314.42 L451.21 314.55 L451.52 314.68 L451.83 314.81 L452.14 314.94 L452.45 315.07 L452.76 315.19 L453.07 315.31 L453.38 315.43 L453.69 315.55 L454 315.66 L454.3 315.77 L454.61 315.89 L454.91 315.99 L455.22 316.1 L455.52 316.21 L455.82 316.32 L456.13 316.43 L456.43 316.53 L456.73 316.63 L457.04 316.74 L457.34 316.84 L457.65 316.94 L457.95 317.04 L458.25 317.14 L458.56 317.24 L458.86 317.33 L459.17 317.43 L459.47 317.52 L459.77 317.61 L460.08 317.7 L460.38 317.79 L460.68 317.87 L460.99 317.96 L461.29 318.04 L461.6 318.12 L461.9 318.2 L462.2 318.28 L462.5 318.36 L462.8 318.43 L463.1 318.51 L463.4 318.58 L463.7 318.65 L464 318.73 L464.3 318.8 L464.6 318.87 L464.9 318.94 L465.2 319.01 L465.5 319.07 L465.8 319.14 L466.1 319.2 L466.4 319.27 L466.7 319.33 L467 319.39 L467.3 319.45 L467.6 319.51 L467.9 319.57 L468.2 319.63 L468.5 319.68 L468.8 319.74 L469.1 319.79 L469.4 319.84 L469.7 319.9 L470 319.94 L470.3 319.99 L470.6 320.04 L470.9 320.08 L471.2 320.13 L471.5 320.17 L471.8 320.21 L472.1 320.25 L472.4 320.29 L472.7 320.33 L473 320.37 L473.3 320.41 L473.6 320.44 L473.9 320.48 L474.2 320.52 L474.5 320.56 L474.8 320.59 L475.1 320.63 L475.4 320.67 L475.7 320.71 L476 320.75 L476.3 320.79 L476.6 320.83 L476.9 320.87 L477.2 320.91 L477.5 320.95 L477.81 321 L478.12 321.05 L478.44 321.1 L478.75 321.14 L479.06 321.19 L479.37 321.24 L479.68 321.29 L479.99 321.34 L480.31 321.39 L480.62 321.45 L480.93 321.5 L481.24 321.55 L481.55 321.6 L481.86 321.65 L482.18 321.7 L482.49 321.75 L482.8 321.8" fill="none" stroke="#c84a66" stroke-width="1"/>
<path d="M420.4 321.8 L420.7 321.8 L421 321.8 L421.3 321.8 L421.6 321.8 L421.9 321.8 L422.2 321.8 L422.5 321.8 L422.8 321.8 L423.1 321.8 L423.4 321.8 L423.7 321.8 L424.01 321.27 L424.33 319.87 L424.64 317.83 L424.96 315.42 L425.27 312.89 L425.59 310.49 L425.9 308.47 L426.22 306.61 L426.53 304.64 L426.85 302.71 L427.17 300.99 L427.48 299.61 L427.8 298.74 L428.14 298.14 L428.49 297.6 L428.83 297.13 L429.17 296.74 L429.51 296.45 L429.86 296.26 L430.2 296.2 L430.5 296.38 L430.8 296.86 L431.1 297.56 L431.4 298.38 L431.7 299.22 L432 300.01 L432.3 300.79 L432.6 301.66 L432.9 302.59 L433.2 303.52 L433.5 304.42 L433.8 305.23 L434.1 305.93 L434.41 306.56 L434.73 307.14 L435.04 307.68 L435.36 308.18 L435.67 308.66 L435.99 309.1 L436.3 309.53 L436.6 309.92 L436.9 310.3 L437.2 310.67 L437.5 311.02 L437.8 311.37 L438.1 311.7 L438.4 312.01 L438.7 312.31 L439 312.6 L439.3 312.87 L439.6 313.12 L439.93 313.39 L440.25 313.64 L440.58 313.87 L440.9 314.1 L441.23 314.32 L441.55 314.54 L441.88 314.74 L442.2 314.94 L442.52 315.13 L442.85 315.31 L443.18 315.49 L443.5 315.66 L443.81 315.83 L444.12 315.99 L444.44 316.15 L444.75 316.3 L445.06 316.45 L445.37 316.6 L445.68 316.75 L445.99 316.89 L446.31 317.03 L446.62 317.16 L446.93 317.29 L447.24 317.42 L447.55 317.54 L447.86 317.66 L448.18 317.78 L448.49 317.89 L448.8 317.99 L449.11 318.09 L449.42 318.19 L449.73 318.29 L450.04 318.39 L450.35 318.49 L450.66 318.58 L450.97 318.67 L451.28 318.76 L451.59 318.85 L451.9 318.94 L452.2 319.02 L452.51 319.1 L452.82 319.18 L453.13 319.26 L453.44 319.33 L453.75 319.4 L454.06 319.46 L454.37 319.52 L454.68 319.58 L454.99 319.63 L455.3 319.68 L455.6 319.73 L455.91 319.77 L456.21 319.82 L456.52 319.86 L456.82 319.89 L457.12 319.93 L457.43 319.97 L457.73 320 L458.03 320.04 L458.34 320.07 L458.64 320.1 L458.95 320.13 L459.25 320.16 L459.55 320.19 L459.86 320.22 L460.16 320.25 L460.47 320.28 L460.77 320.3 L461.07 320.33 L461.38 320.36 L461.68 320.39 L461.98 320.41 L462.29 320.44 L462.59 320.47 L462.9 320.5 L463.2 320.53 L463.5 320.56 L463.81 320.59 L464.11 320.62 L464.41 320.65 L464.72 320.68 L465.02 320.71 L465.32 320.75 L465.63 320.78 L465.93 320.81 L466.23 320.84 L466.54 320.87 L466.84 320.9 L467.14 320.93 L467.45 320.96 L467.75 320.99 L468.05 321.02 L468.36 321.05 L468.66 321.08 L468.96 321.1 L469.27 321.13 L469.57 321.16 L469.87 321.19 L470.18 321.21 L470.48 321.24 L470.78 321.26 L471.09 321.29 L471.39 321.31 L471.69 321.33 L472 321.36 L472.3 321.38 L472.61 321.4 L472.92 321.42 L473.22 321.44 L473.53 321.47 L473.84 321.49 L474.15 321.51 L474.46 321.53 L474.76 321.56 L475.07 321.58 L475.38 321.6 L475.69 321.62 L476 321.64 L476.3 321.66 L476.61 321.68 L476.92 321.7 L477.23 321.72 L477.54 321.73 L477.84 321.75 L478.15 321.76 L478.46 321.77 L478.77 321.78 L479.08 321.79 L479.38 321.8 L479.69 321.8 L480 321.8 L480.31 321.8 L480.62 321.8 L480.94 321.8 L481.25 321.8 L481.56 321.8 L481.88 321.8 L482.19 321.8 L482.5 321.8 L482.81 321.8 L483.12 321.8 L483.44 321.8 L483.75 321.8 L484.06 321.8 L484.38 321.8 L484.69 321.8 L485 321.8" fill="none" stroke="#587296" stroke-width="1"/>
<polyline points="445,316.42 445.45,316.8 445.9,317.04 446.35,317.15 446.8,317.39 447.25,317.41 447.7,317.86 448.15,317.43 448.6,317.82 449.05,318.32 449.5,318.36 449.95,318.4 450.4,318.51 450.85,318.8 451.3,318.38 451.75,318.39 452.2,318.9 452.65,319.01 453.1,319.42 453.55,319.52 454,319.46 454.45,319.64 454.9,319.34 455.35,319.94 455.8,320.09 456.25,319.45 456.7,319.81 457.15,320.14 457.6,319.9 458.05,320.33 458.5,320.01 458.95,319.72 459.4,319.85 459.85,320.03 460.3,320.4 460.75,320.37 461.2,320.56 461.65,320.16 462.1,320.39 462.55,320.25 463,320.64 463.45,320.76 463.9,320.36 464.35,320.28 464.8,320.42 465.25,320.49 465.7,320.53 466.15,320.63 466.6,321.05 467.05,320.88 467.5,321.04 467.95,321.32 468.4,321.36 468.85,321.22 469.3,321.28 469.75,321 470.2,320.84 470.65,321.26 471.1,320.94 471.55,320.95 472,321.01 472.45,321.49 472.9,321.62 473.35,321.64 473.8,321.68 474.25,321.7 474.7,321.42" fill="none" stroke="#1d3768" stroke-width="1.3" stroke-linejoin="round"/>
<line x1="420.4" y1="266.5" x2="420.4" y2="322.3" stroke="#0a0a0a" stroke-width="1.35"/>
<line x1="417.8" y1="321.8" x2="420.4" y2="321.8" stroke="#0a0a0a" stroke-width="1.1"/>
<text x="414.8" y="324.79" font-size="8.3" text-anchor="end" fill="#262626" stroke="#262626" stroke-width="0.1">0</text>
<line x1="417.8" y1="311.22" x2="420.4" y2="311.22" stroke="#0a0a0a" stroke-width="1.1"/>
<text x="414.8" y="314.21" font-size="8.3" text-anchor="end" fill="#262626" stroke="#262626" stroke-width="0.1">50</text>
<line x1="417.8" y1="300.64" x2="420.4" y2="300.64" stroke="#0a0a0a" stroke-width="1.1"/>
<text x="414.8" y="303.63" font-size="8.3" text-anchor="end" fill="#262626" stroke="#262626" stroke-width="0.1">100</text>
<line x1="417.8" y1="290.06" x2="420.4" y2="290.06" stroke="#0a0a0a" stroke-width="1.1"/>
<text x="414.8" y="293.05" font-size="8.3" text-anchor="end" fill="#262626" stroke="#262626" stroke-width="0.1">150</text>
<line x1="417.8" y1="279.48" x2="420.4" y2="279.48" stroke="#0a0a0a" stroke-width="1.1"/>
<text x="414.8" y="282.47" font-size="8.3" text-anchor="end" fill="#262626" stroke="#262626" stroke-width="0.1">200</text>
<line x1="417.8" y1="268.9" x2="420.4" y2="268.9" stroke="#0a0a0a" stroke-width="1.1"/>
<text x="414.8" y="271.89" font-size="8.3" text-anchor="end" fill="#262626" stroke="#262626" stroke-width="0.1">250</text>
<text transform="translate(395.8 293.55) rotate(-90)" x="0" y="0" font-size="9" text-anchor="middle" fill="#262626" stroke="#262626" stroke-width="0.25" textLength="43.1" lengthAdjust="spacingAndGlyphs">Thrombin (nM)</text>
<line x1="419.9" y1="321.8" x2="486" y2="321.8" stroke="#0a0a0a" stroke-width="1.35"/>
<line x1="420.4" y1="321.8" x2="420.4" y2="324" stroke="#0a0a0a" stroke-width="1.1"/>
<text x="420.4" y="334.5" font-size="8.3" text-anchor="middle" fill="#262626" stroke="#262626" stroke-width="0.1">0</text>
<line x1="436.12" y1="321.8" x2="436.12" y2="324" stroke="#0a0a0a" stroke-width="1.1"/>
<text x="436.12" y="334.5" font-size="8.3" text-anchor="middle" fill="#262626" stroke="#262626" stroke-width="0.1">20</text>
<line x1="451.84" y1="321.8" x2="451.84" y2="324" stroke="#0a0a0a" stroke-width="1.1"/>
<text x="451.84" y="334.5" font-size="8.3" text-anchor="middle" fill="#262626" stroke="#262626" stroke-width="0.1">40</text>
<line x1="467.56" y1="321.8" x2="467.56" y2="324" stroke="#0a0a0a" stroke-width="1.1"/>
<text x="467.56" y="334.5" font-size="8.3" text-anchor="middle" fill="#262626" stroke="#262626" stroke-width="0.1">60</text>
<line x1="483.28" y1="321.8" x2="483.28" y2="324" stroke="#0a0a0a" stroke-width="1.1"/>
<text x="483.28" y="334.5" font-size="8.3" text-anchor="middle" fill="#262626" stroke="#262626" stroke-width="0.1">80</text>
<text x="453.6" y="347.5" font-size="9.6" text-anchor="middle" fill="#262626" stroke="#262626" stroke-width="0.25" textLength="32" lengthAdjust="spacingAndGlyphs">Time (min)</text>
<line x1="486.6" y1="290.8" x2="495.4" y2="290.8" stroke="#587296" stroke-width="1.2"/>
<line x1="486.6" y1="298.1" x2="495.4" y2="298.1" stroke="#c84a66" stroke-width="1.2"/>
<text x="498.7" y="293.4" font-size="7.3" text-anchor="start" fill="#262626" stroke="#262626" stroke-width="0.1" textLength="12.9" lengthAdjust="spacingAndGlyphs">WB</text>
<text x="498.6" y="300.7" font-size="7.3" text-anchor="start" fill="#262626" stroke="#262626" stroke-width="0.1" textLength="14.2" lengthAdjust="spacingAndGlyphs">PRP</text>
<text x="7.8" y="363" font-size="10.6" text-anchor="start" font-weight="bold" fill="#262626" stroke="#262626" stroke-width="0.6">E</text>
<rect x="21.9" y="358.6" width="1.5" height="4.9" fill="#262626"/>
<rect x="21.9" y="356.6" width="1.5" height="1.45" fill="#262626"/>
<line x1="51.5" y1="371" x2="51.5" y2="425.9" stroke="#0a0a0a" stroke-width="1.35"/>
<line x1="48.9" y1="425.4" x2="51.5" y2="425.4" stroke="#0a0a0a" stroke-width="1.1"/>
<text x="45.9" y="428.39" font-size="8.3" text-anchor="end" fill="#262626" stroke="#262626" stroke-width="0.1">0</text>
<line x1="48.9" y1="412.3" x2="51.5" y2="412.3" stroke="#0a0a0a" stroke-width="1.1"/>
<text x="45.9" y="415.29" font-size="8.3" text-anchor="end" fill="#262626" stroke="#262626" stroke-width="0.1">10</text>
<line x1="48.9" y1="399.2" x2="51.5" y2="399.2" stroke="#0a0a0a" stroke-width="1.1"/>
<text x="45.9" y="402.19" font-size="8.3" text-anchor="end" fill="#262626" stroke="#262626" stroke-width="0.1">20</text>
<line x1="48.9" y1="386.1" x2="51.5" y2="386.1" stroke="#0a0a0a" stroke-width="1.1"/>
<text x="45.9" y="389.09" font-size="8.3" text-anchor="end" fill="#262626" stroke="#262626" stroke-width="0.1">30</text>
<line x1="48.9" y1="373" x2="51.5" y2="373" stroke="#0a0a0a" stroke-width="1.1"/>
<text x="45.9" y="375.99" font-size="8.3" text-anchor="end" fill="#262626" stroke="#262626" stroke-width="0.1">40</text>
<text transform="translate(30.1 398.6) rotate(-90)" x="0" y="0" font-size="9" text-anchor="middle" fill="#262626" stroke="#262626" stroke-width="0.25" textLength="41.4" lengthAdjust="spacingAndGlyphs">Lag time (min)</text>
<line x1="51" y1="425.4" x2="112.2" y2="425.4" stroke="#0a0a0a" stroke-width="1.1"/>
<line x1="58" y1="425.4" x2="58" y2="427.6" stroke="#0a0a0a" stroke-width="0.9"/>
<text transform="translate(60.9 434.8) rotate(-45)" x="0" y="0" font-size="8.2" text-anchor="end" fill="#262626" stroke="#262626" stroke-width="0.18" letter-spacing="0.05">0.00</text>
<line x1="70.6" y1="425.4" x2="70.6" y2="427.6" stroke="#0a0a0a" stroke-width="0.9"/>
<text transform="translate(73.5 434.8) rotate(-45)" x="0" y="0" font-size="8.2" text-anchor="end" fill="#262626" stroke="#262626" stroke-width="0.18" letter-spacing="0.05">0.03</text>
<line x1="83.3" y1="425.4" x2="83.3" y2="427.6" stroke="#0a0a0a" stroke-width="0.9"/>
<text transform="translate(86.2 434.8) rotate(-45)" x="0" y="0" font-size="8.2" text-anchor="end" fill="#262626" stroke="#262626" stroke-width="0.18" letter-spacing="0.05">0.10</text>
<line x1="96" y1="425.4" x2="96" y2="427.6" stroke="#0a0a0a" stroke-width="0.9"/>
<text transform="translate(98.9 434.8) rotate(-45)" x="0" y="0" font-size="8.2" text-anchor="end" fill="#262626" stroke="#262626" stroke-width="0.18" letter-spacing="0.05">0.33</text>
<line x1="108.7" y1="425.4" x2="108.7" y2="427.6" stroke="#0a0a0a" stroke-width="0.9"/>
<text transform="translate(111.6 434.8) rotate(-45)" x="0" y="0" font-size="8.2" text-anchor="end" fill="#262626" stroke="#262626" stroke-width="0.18" letter-spacing="0.05">1.00</text>
<text x="81.85" y="461.4" font-size="9.6" text-anchor="middle" fill="#262626" stroke="#262626" stroke-width="0.25" textLength="22.2" lengthAdjust="spacingAndGlyphs">TF (pM)</text>
<line x1="58" y1="397.23" x2="58" y2="379.55" stroke="#e0788a" stroke-width="0.7"/>
<line x1="56.7" y1="379.55" x2="59.3" y2="379.55" stroke="#e0788a" stroke-width="0.7"/>
<line x1="70.6" y1="404.18" x2="70.6" y2="395.01" stroke="#e0788a" stroke-width="0.7"/>
<line x1="69.3" y1="395.01" x2="71.9" y2="395.01" stroke="#e0788a" stroke-width="0.7"/>
<line x1="83.3" y1="411.25" x2="83.3" y2="407.98" stroke="#e0788a" stroke-width="0.7"/>
<line x1="82" y1="407.98" x2="84.6" y2="407.98" stroke="#e0788a" stroke-width="0.7"/>
<line x1="96" y1="417.67" x2="96" y2="415.84" stroke="#e0788a" stroke-width="0.7"/>
<line x1="94.7" y1="415.84" x2="97.3" y2="415.84" stroke="#e0788a" stroke-width="0.7"/>
<line x1="108.7" y1="421.34" x2="108.7" y2="420.68" stroke="#e0788a" stroke-width="0.7"/>
<line x1="107.4" y1="420.68" x2="110" y2="420.68" stroke="#e0788a" stroke-width="0.7"/>
<line x1="58" y1="405.62" x2="58" y2="401.69" stroke="#6f9cc4" stroke-width="0.7"/>
<line x1="56.7" y1="401.69" x2="59.3" y2="401.69" stroke="#6f9cc4" stroke-width="0.7"/>
<line x1="70.6" y1="411.38" x2="70.6" y2="407.45" stroke="#6f9cc4" stroke-width="0.7"/>
<line x1="69.3" y1="407.45" x2="71.9" y2="407.45" stroke="#6f9cc4" stroke-width="0.7"/>
<line x1="83.3" y1="414.53" x2="83.3" y2="413.35" stroke="#6f9cc4" stroke-width="0.7"/>
<line x1="82" y1="413.35" x2="84.6" y2="413.35" stroke="#6f9cc4" stroke-width="0.7"/>
<line x1="96" y1="418.98" x2="96" y2="418.06" stroke="#6f9cc4" stroke-width="0.7"/>
<line x1="94.7" y1="418.06" x2="97.3" y2="418.06" stroke="#6f9cc4" stroke-width="0.7"/>
<line x1="108.7" y1="421.34" x2="108.7" y2="420.81" stroke="#6f9cc4" stroke-width="0.7"/>
<line x1="107.4" y1="420.81" x2="110" y2="420.81" stroke="#6f9cc4" stroke-width="0.7"/>
<polyline points="58,397.23 70.6,404.18 83.3,411.25 96,417.67 108.7,421.34" fill="none" stroke="#d5475f" stroke-width="1.0"/>
<polyline points="58,405.62 70.6,411.38 83.3,414.53 96,418.98 108.7,421.34" fill="none" stroke="#5f84a8" stroke-width="1.0"/>
<path d="M58 395.53 L59.6 398.33 L56.4 398.33 Z" fill="#8a1c2e"/>
<path d="M70.6 402.48 L72.2 405.28 L69 405.28 Z" fill="#8a1c2e"/>
<path d="M83.3 409.55 L84.9 412.35 L81.7 412.35 Z" fill="#8a1c2e"/>
<path d="M96 415.97 L97.6 418.77 L94.4 418.77 Z" fill="#8a1c2e"/>
<path d="M108.7 419.64 L110.3 422.44 L107.1 422.44 Z" fill="#8a1c2e"/>
<circle cx="58" cy="405.62" r="1.5" fill="#1b2c42"/>
<circle cx="70.6" cy="411.38" r="1.5" fill="#1b2c42"/>
<circle cx="83.3" cy="414.53" r="1.5" fill="#1b2c42"/>
<circle cx="96" cy="418.98" r="1.5" fill="#1b2c42"/>
<circle cx="108.7" cy="421.34" r="1.5" fill="#1b2c42"/>
<text x="7.8" y="476.3" font-size="10.6" text-anchor="start" font-weight="bold" fill="#262626" stroke="#262626" stroke-width="0.6">F</text>
<rect x="21.9" y="471.9" width="1.5" height="4.9" fill="#262626"/>
<rect x="21.9" y="469.9" width="1.5" height="1.45" fill="#262626"/>
<line x1="51.5" y1="484.1" x2="51.5" y2="538.8" stroke="#0a0a0a" stroke-width="1.35"/>
<line x1="48.9" y1="538.3" x2="51.5" y2="538.3" stroke="#0a0a0a" stroke-width="1.1"/>
<text x="45.9" y="541.29" font-size="8.3" text-anchor="end" fill="#262626" stroke="#262626" stroke-width="0.1">0</text>
<line x1="48.9" y1="527.86" x2="51.5" y2="527.86" stroke="#0a0a0a" stroke-width="1.1"/>
<text x="45.9" y="530.85" font-size="8.3" text-anchor="end" fill="#262626" stroke="#262626" stroke-width="0.1">50</text>
<line x1="48.9" y1="517.42" x2="51.5" y2="517.42" stroke="#0a0a0a" stroke-width="1.1"/>
<text x="45.9" y="520.41" font-size="8.3" text-anchor="end" fill="#262626" stroke="#262626" stroke-width="0.1">100</text>
<line x1="48.9" y1="506.98" x2="51.5" y2="506.98" stroke="#0a0a0a" stroke-width="1.1"/>
<text x="45.9" y="509.97" font-size="8.3" text-anchor="end" fill="#262626" stroke="#262626" stroke-width="0.1">150</text>
<line x1="48.9" y1="496.54" x2="51.5" y2="496.54" stroke="#0a0a0a" stroke-width="1.1"/>
<text x="45.9" y="499.53" font-size="8.3" text-anchor="end" fill="#262626" stroke="#262626" stroke-width="0.1">200</text>
<line x1="48.9" y1="486.1" x2="51.5" y2="486.1" stroke="#0a0a0a" stroke-width="1.1"/>
<text x="45.9" y="489.09" font-size="8.3" text-anchor="end" fill="#262626" stroke="#262626" stroke-width="0.1">250</text>
<text transform="translate(26.9 511.2) rotate(-90)" x="0" y="0" font-size="9" text-anchor="middle" fill="#262626" stroke="#262626" stroke-width="0.25" textLength="29.5" lengthAdjust="spacingAndGlyphs">Peak (nM)</text>
<line x1="51" y1="538.3" x2="112.2" y2="538.3" stroke="#0a0a0a" stroke-width="1.1"/>
<line x1="58" y1="538.3" x2="58" y2="540.5" stroke="#0a0a0a" stroke-width="0.9"/>
<text transform="translate(60.9 547.7) rotate(-45)" x="0" y="0" font-size="8.2" text-anchor="end" fill="#262626" stroke="#262626" stroke-width="0.18" letter-spacing="0.05">0.00</text>
<line x1="70.6" y1="538.3" x2="70.6" y2="540.5" stroke="#0a0a0a" stroke-width="0.9"/>
<text transform="translate(73.5 547.7) rotate(-45)" x="0" y="0" font-size="8.2" text-anchor="end" fill="#262626" stroke="#262626" stroke-width="0.18" letter-spacing="0.05">0.03</text>
<line x1="83.3" y1="538.3" x2="83.3" y2="540.5" stroke="#0a0a0a" stroke-width="0.9"/>
<text transform="translate(86.2 547.7) rotate(-45)" x="0" y="0" font-size="8.2" text-anchor="end" fill="#262626" stroke="#262626" stroke-width="0.18" letter-spacing="0.05">0.10</text>
<line x1="96" y1="538.3" x2="96" y2="540.5" stroke="#0a0a0a" stroke-width="0.9"/>
<text transform="translate(98.9 547.7) rotate(-45)" x="0" y="0" font-size="8.2" text-anchor="end" fill="#262626" stroke="#262626" stroke-width="0.18" letter-spacing="0.05">0.33</text>
<line x1="108.7" y1="538.3" x2="108.7" y2="540.5" stroke="#0a0a0a" stroke-width="0.9"/>
<text transform="translate(111.6 547.7) rotate(-45)" x="0" y="0" font-size="8.2" text-anchor="end" fill="#262626" stroke="#262626" stroke-width="0.18" letter-spacing="0.05">1.00</text>
<text x="81.85" y="574.3" font-size="9.6" text-anchor="middle" fill="#262626" stroke="#262626" stroke-width="0.25" textLength="22.2" lengthAdjust="spacingAndGlyphs">TF (pM)</text>
<line x1="58" y1="517.25" x2="58" y2="514.58" stroke="#e0788a" stroke-width="0.7"/>
<line x1="56.7" y1="514.58" x2="59.3" y2="514.58" stroke="#e0788a" stroke-width="0.7"/>
<line x1="70.6" y1="511.66" x2="70.6" y2="509.15" stroke="#e0788a" stroke-width="0.7"/>
<line x1="69.3" y1="509.15" x2="71.9" y2="509.15" stroke="#e0788a" stroke-width="0.7"/>
<line x1="83.3" y1="509.74" x2="83.3" y2="509.07" stroke="#e0788a" stroke-width="0.7"/>
<line x1="82" y1="509.07" x2="84.6" y2="509.07" stroke="#e0788a" stroke-width="0.7"/>
<line x1="96" y1="504.89" x2="96" y2="501.63" stroke="#e0788a" stroke-width="0.7"/>
<line x1="94.7" y1="501.63" x2="97.3" y2="501.63" stroke="#e0788a" stroke-width="0.7"/>
<line x1="108.7" y1="498.86" x2="108.7" y2="496.37" stroke="#e0788a" stroke-width="0.7"/>
<line x1="107.4" y1="496.37" x2="110" y2="496.37" stroke="#e0788a" stroke-width="0.7"/>
<line x1="58" y1="507.02" x2="58" y2="505.94" stroke="#6f9cc4" stroke-width="0.7"/>
<line x1="56.7" y1="505.94" x2="59.3" y2="505.94" stroke="#6f9cc4" stroke-width="0.7"/>
<line x1="70.6" y1="504.12" x2="70.6" y2="503.22" stroke="#6f9cc4" stroke-width="0.7"/>
<line x1="69.3" y1="503.22" x2="71.9" y2="503.22" stroke="#6f9cc4" stroke-width="0.7"/>
<line x1="96" y1="496.12" x2="96" y2="495.08" stroke="#6f9cc4" stroke-width="0.7"/>
<line x1="94.7" y1="495.08" x2="97.3" y2="495.08" stroke="#6f9cc4" stroke-width="0.7"/>
<line x1="108.7" y1="491.11" x2="108.7" y2="490.28" stroke="#6f9cc4" stroke-width="0.7"/>
<line x1="107.4" y1="490.28" x2="110" y2="490.28" stroke="#6f9cc4" stroke-width="0.7"/>
<polyline points="58,517.25 70.6,511.66 83.3,509.74 96,504.89 108.7,498.86" fill="none" stroke="#d5475f" stroke-width="1.0"/>
<polyline points="58,507.02 70.6,504.12 83.3,503.85 96,496.12 108.7,491.11" fill="none" stroke="#5f84a8" stroke-width="1.0"/>
<path d="M58 515.55 L59.6 518.35 L56.4 518.35 Z" fill="#8a1c2e"/>
<path d="M70.6 509.96 L72.2 512.76 L69 512.76 Z" fill="#8a1c2e"/>
<path d="M83.3 508.04 L84.9 510.84 L81.7 510.84 Z" fill="#8a1c2e"/>
<path d="M96 503.19 L97.6 505.99 L94.4 505.99 Z" fill="#8a1c2e"/>
<path d="M108.7 497.16 L110.3 499.96 L107.1 499.96 Z" fill="#8a1c2e"/>
<circle cx="58" cy="507.02" r="1.5" fill="#1b2c42"/>
<circle cx="70.6" cy="504.12" r="1.5" fill="#1b2c42"/>
<circle cx="83.3" cy="503.85" r="1.5" fill="#1b2c42"/>
<circle cx="96" cy="496.12" r="1.5" fill="#1b2c42"/>
<circle cx="108.7" cy="491.11" r="1.5" fill="#1b2c42"/>
<circle cx="58" cy="501.5" r="0.95" fill="#262626"/>
<text x="70.6" y="501.8" font-size="6.2" text-anchor="middle" fill="#444" stroke="#444" stroke-width="0.35">#</text>
<text x="96" y="492.8" font-size="6.2" text-anchor="middle" fill="#444" stroke="#444" stroke-width="0.35">#</text>
<text x="108.7" y="487.8" font-size="6.2" text-anchor="middle" fill="#444" stroke="#444" stroke-width="0.35">#</text>
<text x="129.7" y="363" font-size="10.6" text-anchor="start" font-weight="bold" fill="#262626" stroke="#262626" stroke-width="0.6">E</text>
<rect x="143.8" y="358.6" width="1.5" height="4.9" fill="#262626"/>
<rect x="143.8" y="356.6" width="1.5" height="1.45" fill="#262626"/>
<rect x="146.85" y="358.6" width="1.5" height="4.9" fill="#262626"/>
<rect x="146.85" y="356.6" width="1.5" height="1.45" fill="#262626"/>
<line x1="174.8" y1="371" x2="174.8" y2="425.9" stroke="#0a0a0a" stroke-width="1.35"/>
<line x1="172.2" y1="425.4" x2="174.8" y2="425.4" stroke="#0a0a0a" stroke-width="1.1"/>
<text x="169.2" y="428.39" font-size="8.3" text-anchor="end" fill="#262626" stroke="#262626" stroke-width="0.1">0</text>
<line x1="172.2" y1="412.3" x2="174.8" y2="412.3" stroke="#0a0a0a" stroke-width="1.1"/>
<text x="169.2" y="415.29" font-size="8.3" text-anchor="end" fill="#262626" stroke="#262626" stroke-width="0.1">10</text>
<line x1="172.2" y1="399.2" x2="174.8" y2="399.2" stroke="#0a0a0a" stroke-width="1.1"/>
<text x="169.2" y="402.19" font-size="8.3" text-anchor="end" fill="#262626" stroke="#262626" stroke-width="0.1">20</text>
<line x1="172.2" y1="386.1" x2="174.8" y2="386.1" stroke="#0a0a0a" stroke-width="1.1"/>
<text x="169.2" y="389.09" font-size="8.3" text-anchor="end" fill="#262626" stroke="#262626" stroke-width="0.1">30</text>
<line x1="172.2" y1="373" x2="174.8" y2="373" stroke="#0a0a0a" stroke-width="1.1"/>
<text x="169.2" y="375.99" font-size="8.3" text-anchor="end" fill="#262626" stroke="#262626" stroke-width="0.1">40</text>
<text transform="translate(153.4 398.6) rotate(-90)" x="0" y="0" font-size="9" text-anchor="middle" fill="#262626" stroke="#262626" stroke-width="0.25" textLength="41.4" lengthAdjust="spacingAndGlyphs">Lag time (min)</text>
<line x1="174.3" y1="425.4" x2="234.3" y2="425.4" stroke="#0a0a0a" stroke-width="1.1"/>
<line x1="180.4" y1="425.4" x2="180.4" y2="427.6" stroke="#0a0a0a" stroke-width="0.9"/>
<text transform="translate(183.3 434.8) rotate(-45)" x="0" y="0" font-size="8.2" text-anchor="end" fill="#262626" stroke="#262626" stroke-width="0.18" letter-spacing="0.05">1e-7</text>
<line x1="193" y1="425.4" x2="193" y2="427.6" stroke="#0a0a0a" stroke-width="0.9"/>
<text transform="translate(195.9 434.8) rotate(-45)" x="0" y="0" font-size="8.2" text-anchor="end" fill="#262626" stroke="#262626" stroke-width="0.18" letter-spacing="0.05">1e-6</text>
<line x1="205.7" y1="425.4" x2="205.7" y2="427.6" stroke="#0a0a0a" stroke-width="0.9"/>
<text transform="translate(208.6 434.8) rotate(-45)" x="0" y="0" font-size="8.2" text-anchor="end" fill="#262626" stroke="#262626" stroke-width="0.18" letter-spacing="0.05">1e-5</text>
<line x1="218.2" y1="425.4" x2="218.2" y2="427.6" stroke="#0a0a0a" stroke-width="0.9"/>
<text transform="translate(221.1 434.8) rotate(-45)" x="0" y="0" font-size="8.2" text-anchor="end" fill="#262626" stroke="#262626" stroke-width="0.18" letter-spacing="0.05">1e-4</text>
<line x1="230.9" y1="425.4" x2="230.9" y2="427.6" stroke="#0a0a0a" stroke-width="0.9"/>
<text transform="translate(233.8 434.8) rotate(-45)" x="0" y="0" font-size="8.2" text-anchor="end" fill="#262626" stroke="#262626" stroke-width="0.18" letter-spacing="0.05">1e-3</text>
<text x="204.55" y="461.4" font-size="9.6" text-anchor="middle" fill="#262626" stroke="#262626" stroke-width="0.25" textLength="18.5" lengthAdjust="spacingAndGlyphs">Rvv-X</text>
<line x1="180.4" y1="395.01" x2="180.4" y2="380.07" stroke="#e0788a" stroke-width="0.7"/>
<line x1="179.1" y1="380.07" x2="181.7" y2="380.07" stroke="#e0788a" stroke-width="0.7"/>
<line x1="193" y1="411.91" x2="193" y2="405.23" stroke="#e0788a" stroke-width="0.7"/>
<line x1="191.7" y1="405.23" x2="194.3" y2="405.23" stroke="#e0788a" stroke-width="0.7"/>
<line x1="205.7" y1="419.64" x2="205.7" y2="417.54" stroke="#e0788a" stroke-width="0.7"/>
<line x1="204.4" y1="417.54" x2="207" y2="417.54" stroke="#e0788a" stroke-width="0.7"/>
<line x1="218.2" y1="424.09" x2="218.2" y2="423.7" stroke="#e0788a" stroke-width="0.7"/>
<line x1="216.9" y1="423.7" x2="219.5" y2="423.7" stroke="#e0788a" stroke-width="0.7"/>
<line x1="180.4" y1="411.25" x2="180.4" y2="406.8" stroke="#6f9cc4" stroke-width="0.7"/>
<line x1="179.1" y1="406.8" x2="181.7" y2="406.8" stroke="#6f9cc4" stroke-width="0.7"/>
<line x1="193" y1="417.8" x2="193" y2="415.31" stroke="#6f9cc4" stroke-width="0.7"/>
<line x1="191.7" y1="415.31" x2="194.3" y2="415.31" stroke="#6f9cc4" stroke-width="0.7"/>
<line x1="205.7" y1="421.6" x2="205.7" y2="420.68" stroke="#6f9cc4" stroke-width="0.7"/>
<line x1="204.4" y1="420.68" x2="207" y2="420.68" stroke="#6f9cc4" stroke-width="0.7"/>
<line x1="218.2" y1="424.35" x2="218.2" y2="423.96" stroke="#6f9cc4" stroke-width="0.7"/>
<line x1="216.9" y1="423.96" x2="219.5" y2="423.96" stroke="#6f9cc4" stroke-width="0.7"/>
<polyline points="180.4,395.01 193,411.91 205.7,419.64 218.2,424.09 230.9,424.88" fill="none" stroke="#d5475f" stroke-width="1.0"/>
<polyline points="180.4,411.25 193,417.8 205.7,421.6 218.2,424.35 230.9,424.88" fill="none" stroke="#5f84a8" stroke-width="1.0"/>
<path d="M180.4 393.31 L182 396.11 L178.8 396.11 Z" fill="#8a1c2e"/>
<path d="M193 410.21 L194.6 413.01 L191.4 413.01 Z" fill="#8a1c2e"/>
<path d="M205.7 417.94 L207.3 420.74 L204.1 420.74 Z" fill="#8a1c2e"/>
<path d="M218.2 422.39 L219.8 425.19 L216.6 425.19 Z" fill="#8a1c2e"/>
<path d="M230.9 423.18 L232.5 425.98 L229.3 425.98 Z" fill="#8a1c2e"/>
<circle cx="180.4" cy="411.25" r="1.5" fill="#1b2c42"/>
<circle cx="193" cy="417.8" r="1.5" fill="#1b2c42"/>
<circle cx="205.7" cy="421.6" r="1.5" fill="#1b2c42"/>
<circle cx="218.2" cy="424.35" r="1.5" fill="#1b2c42"/>
<circle cx="230.9" cy="424.88" r="1.5" fill="#1b2c42"/>
<circle cx="178.9" cy="375.2" r="0.95" fill="#262626"/>
<circle cx="181.9" cy="375.2" r="0.95" fill="#262626"/>
<text x="129.7" y="476.3" font-size="10.6" text-anchor="start" font-weight="bold" fill="#262626" stroke="#262626" stroke-width="0.6">F</text>
<rect x="143.8" y="471.9" width="1.5" height="4.9" fill="#262626"/>
<rect x="143.8" y="469.9" width="1.5" height="1.45" fill="#262626"/>
<rect x="146.85" y="471.9" width="1.5" height="4.9" fill="#262626"/>
<rect x="146.85" y="469.9" width="1.5" height="1.45" fill="#262626"/>
<line x1="174.8" y1="484.1" x2="174.8" y2="538.8" stroke="#0a0a0a" stroke-width="1.35"/>
<line x1="172.2" y1="538.3" x2="174.8" y2="538.3" stroke="#0a0a0a" stroke-width="1.1"/>
<text x="169.2" y="541.29" font-size="8.3" text-anchor="end" fill="#262626" stroke="#262626" stroke-width="0.1">0</text>
<line x1="172.2" y1="520.9" x2="174.8" y2="520.9" stroke="#0a0a0a" stroke-width="1.1"/>
<text x="169.2" y="523.89" font-size="8.3" text-anchor="end" fill="#262626" stroke="#262626" stroke-width="0.1">100</text>
<line x1="172.2" y1="503.5" x2="174.8" y2="503.5" stroke="#0a0a0a" stroke-width="1.1"/>
<text x="169.2" y="506.49" font-size="8.3" text-anchor="end" fill="#262626" stroke="#262626" stroke-width="0.1">200</text>
<line x1="172.2" y1="486.1" x2="174.8" y2="486.1" stroke="#0a0a0a" stroke-width="1.1"/>
<text x="169.2" y="489.09" font-size="8.3" text-anchor="end" fill="#262626" stroke="#262626" stroke-width="0.1">300</text>
<text transform="translate(150.2 511.2) rotate(-90)" x="0" y="0" font-size="9" text-anchor="middle" fill="#262626" stroke="#262626" stroke-width="0.25" textLength="29.5" lengthAdjust="spacingAndGlyphs">Peak (nM)</text>
<line x1="174.3" y1="538.3" x2="234.3" y2="538.3" stroke="#0a0a0a" stroke-width="1.1"/>
<line x1="180.4" y1="538.3" x2="180.4" y2="540.5" stroke="#0a0a0a" stroke-width="0.9"/>
<text transform="translate(183.3 547.7) rotate(-45)" x="0" y="0" font-size="8.2" text-anchor="end" fill="#262626" stroke="#262626" stroke-width="0.18" letter-spacing="0.05">1e-7</text>
<line x1="193" y1="538.3" x2="193" y2="540.5" stroke="#0a0a0a" stroke-width="0.9"/>
<text transform="translate(195.9 547.7) rotate(-45)" x="0" y="0" font-size="8.2" text-anchor="end" fill="#262626" stroke="#262626" stroke-width="0.18" letter-spacing="0.05">1e-6</text>
<line x1="205.7" y1="538.3" x2="205.7" y2="540.5" stroke="#0a0a0a" stroke-width="0.9"/>
<text transform="translate(208.6 547.7) rotate(-45)" x="0" y="0" font-size="8.2" text-anchor="end" fill="#262626" stroke="#262626" stroke-width="0.18" letter-spacing="0.05">1e-5</text>
<line x1="218.2" y1="538.3" x2="218.2" y2="540.5" stroke="#0a0a0a" stroke-width="0.9"/>
<text transform="translate(221.1 547.7) rotate(-45)" x="0" y="0" font-size="8.2" text-anchor="end" fill="#262626" stroke="#262626" stroke-width="0.18" letter-spacing="0.05">1e-4</text>
<line x1="230.9" y1="538.3" x2="230.9" y2="540.5" stroke="#0a0a0a" stroke-width="0.9"/>
<text transform="translate(233.8 547.7) rotate(-45)" x="0" y="0" font-size="8.2" text-anchor="end" fill="#262626" stroke="#262626" stroke-width="0.18" letter-spacing="0.05">1e-3</text>
<text x="204.55" y="574.3" font-size="9.6" text-anchor="middle" fill="#262626" stroke="#262626" stroke-width="0.25" textLength="18.5" lengthAdjust="spacingAndGlyphs">Rvv-X</text>
<line x1="180.4" y1="526.94" x2="180.4" y2="520.9" stroke="#e0788a" stroke-width="0.7"/>
<line x1="179.1" y1="520.9" x2="181.7" y2="520.9" stroke="#e0788a" stroke-width="0.7"/>
<line x1="193" y1="518.67" x2="193" y2="516.2" stroke="#e0788a" stroke-width="0.7"/>
<line x1="191.7" y1="516.2" x2="194.3" y2="516.2" stroke="#e0788a" stroke-width="0.7"/>
<line x1="205.7" y1="511.9" x2="205.7" y2="511.33" stroke="#e0788a" stroke-width="0.7"/>
<line x1="204.4" y1="511.33" x2="207" y2="511.33" stroke="#e0788a" stroke-width="0.7"/>
<line x1="218.2" y1="510.02" x2="218.2" y2="509.59" stroke="#e0788a" stroke-width="0.7"/>
<line x1="216.9" y1="509.59" x2="219.5" y2="509.59" stroke="#e0788a" stroke-width="0.7"/>
<line x1="230.9" y1="509.62" x2="230.9" y2="509.24" stroke="#e0788a" stroke-width="0.7"/>
<line x1="229.6" y1="509.24" x2="232.2" y2="509.24" stroke="#e0788a" stroke-width="0.7"/>
<line x1="180.4" y1="509.52" x2="180.4" y2="503.2" stroke="#6f9cc4" stroke-width="0.7"/>
<line x1="179.1" y1="503.2" x2="181.7" y2="503.2" stroke="#6f9cc4" stroke-width="0.7"/>
<line x1="193" y1="507.68" x2="193" y2="503.2" stroke="#6f9cc4" stroke-width="0.7"/>
<line x1="191.7" y1="503.2" x2="194.3" y2="503.2" stroke="#6f9cc4" stroke-width="0.7"/>
<line x1="205.7" y1="509.31" x2="205.7" y2="508.72" stroke="#6f9cc4" stroke-width="0.7"/>
<line x1="204.4" y1="508.72" x2="207" y2="508.72" stroke="#6f9cc4" stroke-width="0.7"/>
<line x1="218.2" y1="507.15" x2="218.2" y2="501.41" stroke="#6f9cc4" stroke-width="0.7"/>
<line x1="216.9" y1="501.41" x2="219.5" y2="501.41" stroke="#6f9cc4" stroke-width="0.7"/>
<line x1="230.9" y1="499.9" x2="230.9" y2="496.44" stroke="#6f9cc4" stroke-width="0.7"/>
<line x1="229.6" y1="496.44" x2="232.2" y2="496.44" stroke="#6f9cc4" stroke-width="0.7"/>
<polyline points="180.4,526.94 193,518.67 205.7,511.9 218.2,510.02 230.9,509.62" fill="none" stroke="#d5475f" stroke-width="1.0"/>
<polyline points="180.4,509.52 193,507.68 205.7,509.31 218.2,507.15 230.9,499.9" fill="none" stroke="#5f84a8" stroke-width="1.0"/>
<path d="M180.4 525.24 L182 528.04 L178.8 528.04 Z" fill="#8a1c2e"/>
<path d="M193 516.97 L194.6 519.77 L191.4 519.77 Z" fill="#8a1c2e"/>
<path d="M205.7 510.2 L207.3 513 L204.1 513 Z" fill="#8a1c2e"/>
<path d="M218.2 508.32 L219.8 511.12 L216.6 511.12 Z" fill="#8a1c2e"/>
<path d="M230.9 507.92 L232.5 510.72 L229.3 510.72 Z" fill="#8a1c2e"/>
<circle cx="180.4" cy="509.52" r="1.5" fill="#1b2c42"/>
<circle cx="193" cy="507.68" r="1.5" fill="#1b2c42"/>
<circle cx="205.7" cy="509.31" r="1.5" fill="#1b2c42"/>
<circle cx="218.2" cy="507.15" r="1.5" fill="#1b2c42"/>
<circle cx="230.9" cy="499.9" r="1.5" fill="#1b2c42"/>
<circle cx="177.4" cy="499.1" r="0.95" fill="#262626"/>
<circle cx="180.4" cy="499.1" r="0.95" fill="#262626"/>
<circle cx="183.4" cy="499.1" r="0.95" fill="#262626"/>
<circle cx="193" cy="499.1" r="0.95" fill="#262626"/>
<circle cx="230.9" cy="493.5" r="0.95" fill="#262626"/>
<text x="252.4" y="363" font-size="10.6" text-anchor="start" font-weight="bold" fill="#262626" stroke="#262626" stroke-width="0.6">E</text>
<rect x="265.4" y="358.6" width="1.5" height="4.9" fill="#262626"/>
<rect x="265.4" y="356.6" width="1.5" height="1.45" fill="#262626"/>
<rect x="268.45" y="358.6" width="1.5" height="4.9" fill="#262626"/>
<rect x="268.45" y="356.6" width="1.5" height="1.45" fill="#262626"/>
<rect x="271.5" y="358.6" width="1.5" height="4.9" fill="#262626"/>
<rect x="271.5" y="356.6" width="1.5" height="1.45" fill="#262626"/>
<line x1="296.4" y1="371" x2="296.4" y2="425.9" stroke="#0a0a0a" stroke-width="1.35"/>
<line x1="293.8" y1="425.4" x2="296.4" y2="425.4" stroke="#0a0a0a" stroke-width="1.1"/>
<text x="290.8" y="428.39" font-size="8.3" text-anchor="end" fill="#262626" stroke="#262626" stroke-width="0.1">0</text>
<line x1="293.8" y1="412.3" x2="296.4" y2="412.3" stroke="#0a0a0a" stroke-width="1.1"/>
<text x="290.8" y="415.29" font-size="8.3" text-anchor="end" fill="#262626" stroke="#262626" stroke-width="0.1">10</text>
<line x1="293.8" y1="399.2" x2="296.4" y2="399.2" stroke="#0a0a0a" stroke-width="1.1"/>
<text x="290.8" y="402.19" font-size="8.3" text-anchor="end" fill="#262626" stroke="#262626" stroke-width="0.1">20</text>
<line x1="293.8" y1="386.1" x2="296.4" y2="386.1" stroke="#0a0a0a" stroke-width="1.1"/>
<text x="290.8" y="389.09" font-size="8.3" text-anchor="end" fill="#262626" stroke="#262626" stroke-width="0.1">30</text>
<line x1="293.8" y1="373" x2="296.4" y2="373" stroke="#0a0a0a" stroke-width="1.1"/>
<text x="290.8" y="375.99" font-size="8.3" text-anchor="end" fill="#262626" stroke="#262626" stroke-width="0.1">40</text>
<text transform="translate(275 398.6) rotate(-90)" x="0" y="0" font-size="9" text-anchor="middle" fill="#262626" stroke="#262626" stroke-width="0.25" textLength="41.4" lengthAdjust="spacingAndGlyphs">Lag time (min)</text>
<line x1="295.9" y1="425.4" x2="356.3" y2="425.4" stroke="#0a0a0a" stroke-width="1.1"/>
<line x1="302.4" y1="425.4" x2="302.4" y2="427.6" stroke="#0a0a0a" stroke-width="0.9"/>
<text transform="translate(305.3 434.8) rotate(-45)" x="0" y="0" font-size="8.2" text-anchor="end" fill="#262626" stroke="#262626" stroke-width="0.18" letter-spacing="0.05">0.10</text>
<line x1="315" y1="425.4" x2="315" y2="427.6" stroke="#0a0a0a" stroke-width="0.9"/>
<text transform="translate(317.9 434.8) rotate(-45)" x="0" y="0" font-size="8.2" text-anchor="end" fill="#262626" stroke="#262626" stroke-width="0.18" letter-spacing="0.05">0.30</text>
<line x1="327.7" y1="425.4" x2="327.7" y2="427.6" stroke="#0a0a0a" stroke-width="0.9"/>
<text transform="translate(330.6 434.8) rotate(-45)" x="0" y="0" font-size="8.2" text-anchor="end" fill="#262626" stroke="#262626" stroke-width="0.18" letter-spacing="0.05">1.00</text>
<line x1="340.3" y1="425.4" x2="340.3" y2="427.6" stroke="#0a0a0a" stroke-width="0.9"/>
<text transform="translate(343.2 434.8) rotate(-45)" x="0" y="0" font-size="8.2" text-anchor="end" fill="#262626" stroke="#262626" stroke-width="0.18" letter-spacing="0.05">3.30</text>
<line x1="352.9" y1="425.4" x2="352.9" y2="427.6" stroke="#0a0a0a" stroke-width="0.9"/>
<text transform="translate(355.8 434.8) rotate(-45)" x="0" y="0" font-size="8.2" text-anchor="end" fill="#262626" stroke="#262626" stroke-width="0.18" letter-spacing="0.05">10.00</text>
<text x="326.35" y="461.4" font-size="9.6" text-anchor="middle" fill="#262626" stroke="#262626" stroke-width="0.25" textLength="25.8" lengthAdjust="spacingAndGlyphs">FXa (nM)</text>
<line x1="302.4" y1="403.39" x2="302.4" y2="399.72" stroke="#e0788a" stroke-width="0.7"/>
<line x1="301.1" y1="399.72" x2="303.7" y2="399.72" stroke="#e0788a" stroke-width="0.7"/>
<line x1="315" y1="413.61" x2="315" y2="411.51" stroke="#e0788a" stroke-width="0.7"/>
<line x1="313.7" y1="411.51" x2="316.3" y2="411.51" stroke="#e0788a" stroke-width="0.7"/>
<line x1="327.7" y1="420.42" x2="327.7" y2="419.77" stroke="#e0788a" stroke-width="0.7"/>
<line x1="326.4" y1="419.77" x2="329" y2="419.77" stroke="#e0788a" stroke-width="0.7"/>
<line x1="302.4" y1="416.1" x2="302.4" y2="414.53" stroke="#6f9cc4" stroke-width="0.7"/>
<line x1="301.1" y1="414.53" x2="303.7" y2="414.53" stroke="#6f9cc4" stroke-width="0.7"/>
<line x1="315" y1="419.5" x2="315" y2="418.19" stroke="#6f9cc4" stroke-width="0.7"/>
<line x1="313.7" y1="418.19" x2="316.3" y2="418.19" stroke="#6f9cc4" stroke-width="0.7"/>
<line x1="327.7" y1="422.78" x2="327.7" y2="422.26" stroke="#6f9cc4" stroke-width="0.7"/>
<line x1="326.4" y1="422.26" x2="329" y2="422.26" stroke="#6f9cc4" stroke-width="0.7"/>
<polyline points="302.4,403.39 315,413.61 327.7,420.42 340.3,423.44 352.9,424.61" fill="none" stroke="#d5475f" stroke-width="1.0"/>
<polyline points="302.4,416.1 315,419.5 327.7,422.78 340.3,424.09 352.9,424.75" fill="none" stroke="#5f84a8" stroke-width="1.0"/>
<path d="M302.4 401.69 L304 404.49 L300.8 404.49 Z" fill="#8a1c2e"/>
<path d="M315 411.91 L316.6 414.71 L313.4 414.71 Z" fill="#8a1c2e"/>
<path d="M327.7 418.72 L329.3 421.52 L326.1 421.52 Z" fill="#8a1c2e"/>
<path d="M340.3 421.74 L341.9 424.54 L338.7 424.54 Z" fill="#8a1c2e"/>
<path d="M352.9 422.91 L354.5 425.71 L351.3 425.71 Z" fill="#8a1c2e"/>
<circle cx="302.4" cy="416.1" r="1.5" fill="#1b2c42"/>
<circle cx="315" cy="419.5" r="1.5" fill="#1b2c42"/>
<circle cx="327.7" cy="422.78" r="1.5" fill="#1b2c42"/>
<circle cx="340.3" cy="424.09" r="1.5" fill="#1b2c42"/>
<circle cx="352.9" cy="424.75" r="1.5" fill="#1b2c42"/>
<circle cx="297.9" cy="397" r="0.95" fill="#262626"/>
<circle cx="300.9" cy="397" r="0.95" fill="#262626"/>
<circle cx="303.9" cy="397" r="0.95" fill="#262626"/>
<circle cx="306.9" cy="397" r="0.95" fill="#262626"/>
<circle cx="313.5" cy="408.2" r="0.95" fill="#262626"/>
<circle cx="316.5" cy="408.2" r="0.95" fill="#262626"/>
<text x="252.4" y="476.3" font-size="10.6" text-anchor="start" font-weight="bold" fill="#262626" stroke="#262626" stroke-width="0.6">F</text>
<rect x="265.4" y="471.9" width="1.5" height="4.9" fill="#262626"/>
<rect x="265.4" y="469.9" width="1.5" height="1.45" fill="#262626"/>
<rect x="268.45" y="471.9" width="1.5" height="4.9" fill="#262626"/>
<rect x="268.45" y="469.9" width="1.5" height="1.45" fill="#262626"/>
<rect x="271.5" y="471.9" width="1.5" height="4.9" fill="#262626"/>
<rect x="271.5" y="469.9" width="1.5" height="1.45" fill="#262626"/>
<line x1="296.4" y1="484.1" x2="296.4" y2="538.8" stroke="#0a0a0a" stroke-width="1.35"/>
<line x1="293.8" y1="538.3" x2="296.4" y2="538.3" stroke="#0a0a0a" stroke-width="1.1"/>
<text x="290.8" y="541.29" font-size="8.3" text-anchor="end" fill="#262626" stroke="#262626" stroke-width="0.1">0</text>
<line x1="293.8" y1="527.86" x2="296.4" y2="527.86" stroke="#0a0a0a" stroke-width="1.1"/>
<text x="290.8" y="530.85" font-size="8.3" text-anchor="end" fill="#262626" stroke="#262626" stroke-width="0.1">50</text>
<line x1="293.8" y1="517.42" x2="296.4" y2="517.42" stroke="#0a0a0a" stroke-width="1.1"/>
<text x="290.8" y="520.41" font-size="8.3" text-anchor="end" fill="#262626" stroke="#262626" stroke-width="0.1">100</text>
<line x1="293.8" y1="506.98" x2="296.4" y2="506.98" stroke="#0a0a0a" stroke-width="1.1"/>
<text x="290.8" y="509.97" font-size="8.3" text-anchor="end" fill="#262626" stroke="#262626" stroke-width="0.1">150</text>
<line x1="293.8" y1="496.54" x2="296.4" y2="496.54" stroke="#0a0a0a" stroke-width="1.1"/>
<text x="290.8" y="499.53" font-size="8.3" text-anchor="end" fill="#262626" stroke="#262626" stroke-width="0.1">200</text>
<line x1="293.8" y1="486.1" x2="296.4" y2="486.1" stroke="#0a0a0a" stroke-width="1.1"/>
<text x="290.8" y="489.09" font-size="8.3" text-anchor="end" fill="#262626" stroke="#262626" stroke-width="0.1">250</text>
<text transform="translate(271.8 511.2) rotate(-90)" x="0" y="0" font-size="9" text-anchor="middle" fill="#262626" stroke="#262626" stroke-width="0.25" textLength="29.5" lengthAdjust="spacingAndGlyphs">Peak (nM)</text>
<line x1="295.9" y1="538.3" x2="356.3" y2="538.3" stroke="#0a0a0a" stroke-width="1.1"/>
<line x1="302.4" y1="538.3" x2="302.4" y2="540.5" stroke="#0a0a0a" stroke-width="0.9"/>
<text transform="translate(305.3 547.7) rotate(-45)" x="0" y="0" font-size="8.2" text-anchor="end" fill="#262626" stroke="#262626" stroke-width="0.18" letter-spacing="0.05">0.10</text>
<line x1="315" y1="538.3" x2="315" y2="540.5" stroke="#0a0a0a" stroke-width="0.9"/>
<text transform="translate(317.9 547.7) rotate(-45)" x="0" y="0" font-size="8.2" text-anchor="end" fill="#262626" stroke="#262626" stroke-width="0.18" letter-spacing="0.05">0.30</text>
<line x1="327.7" y1="538.3" x2="327.7" y2="540.5" stroke="#0a0a0a" stroke-width="0.9"/>
<text transform="translate(330.6 547.7) rotate(-45)" x="0" y="0" font-size="8.2" text-anchor="end" fill="#262626" stroke="#262626" stroke-width="0.18" letter-spacing="0.05">1.00</text>
<line x1="340.3" y1="538.3" x2="340.3" y2="540.5" stroke="#0a0a0a" stroke-width="0.9"/>
<text transform="translate(343.2 547.7) rotate(-45)" x="0" y="0" font-size="8.2" text-anchor="end" fill="#262626" stroke="#262626" stroke-width="0.18" letter-spacing="0.05">3.30</text>
<line x1="352.9" y1="538.3" x2="352.9" y2="540.5" stroke="#0a0a0a" stroke-width="0.9"/>
<text transform="translate(355.8 547.7) rotate(-45)" x="0" y="0" font-size="8.2" text-anchor="end" fill="#262626" stroke="#262626" stroke-width="0.18" letter-spacing="0.05">10.00</text>
<text x="326.35" y="574.3" font-size="9.6" text-anchor="middle" fill="#262626" stroke="#262626" stroke-width="0.25" textLength="25.8" lengthAdjust="spacingAndGlyphs">FXa (nM)</text>
<line x1="302.4" y1="522.66" x2="302.4" y2="522.01" stroke="#e0788a" stroke-width="0.7"/>
<line x1="301.1" y1="522.01" x2="303.7" y2="522.01" stroke="#e0788a" stroke-width="0.7"/>
<line x1="315" y1="523.93" x2="315" y2="520.55" stroke="#e0788a" stroke-width="0.7"/>
<line x1="313.7" y1="520.55" x2="316.3" y2="520.55" stroke="#e0788a" stroke-width="0.7"/>
<line x1="327.7" y1="524.56" x2="327.7" y2="522.64" stroke="#e0788a" stroke-width="0.7"/>
<line x1="326.4" y1="522.64" x2="329" y2="522.64" stroke="#e0788a" stroke-width="0.7"/>
<line x1="340.3" y1="518.88" x2="340.3" y2="516.38" stroke="#e0788a" stroke-width="0.7"/>
<line x1="339" y1="516.38" x2="341.6" y2="516.38" stroke="#e0788a" stroke-width="0.7"/>
<line x1="352.9" y1="512.87" x2="352.9" y2="510.53" stroke="#e0788a" stroke-width="0.7"/>
<line x1="351.6" y1="510.53" x2="354.2" y2="510.53" stroke="#e0788a" stroke-width="0.7"/>
<line x1="302.4" y1="507.69" x2="302.4" y2="502.47" stroke="#6f9cc4" stroke-width="0.7"/>
<line x1="301.1" y1="502.47" x2="303.7" y2="502.47" stroke="#6f9cc4" stroke-width="0.7"/>
<line x1="315" y1="508.69" x2="315" y2="503.97" stroke="#6f9cc4" stroke-width="0.7"/>
<line x1="313.7" y1="503.97" x2="316.3" y2="503.97" stroke="#6f9cc4" stroke-width="0.7"/>
<line x1="327.7" y1="509.28" x2="327.7" y2="505.23" stroke="#6f9cc4" stroke-width="0.7"/>
<line x1="326.4" y1="505.23" x2="329" y2="505.23" stroke="#6f9cc4" stroke-width="0.7"/>
<line x1="340.3" y1="507.06" x2="340.3" y2="502.47" stroke="#6f9cc4" stroke-width="0.7"/>
<line x1="339" y1="502.47" x2="341.6" y2="502.47" stroke="#6f9cc4" stroke-width="0.7"/>
<line x1="352.9" y1="501.63" x2="352.9" y2="495.5" stroke="#6f9cc4" stroke-width="0.7"/>
<line x1="351.6" y1="495.5" x2="354.2" y2="495.5" stroke="#6f9cc4" stroke-width="0.7"/>
<polyline points="302.4,522.66 315,523.93 327.7,524.56 340.3,518.88 352.9,512.87" fill="none" stroke="#d5475f" stroke-width="1.0"/>
<polyline points="302.4,507.69 315,508.69 327.7,509.28 340.3,507.06 352.9,501.63" fill="none" stroke="#5f84a8" stroke-width="1.0"/>
<path d="M302.4 520.96 L304 523.76 L300.8 523.76 Z" fill="#8a1c2e"/>
<path d="M315 522.23 L316.6 525.03 L313.4 525.03 Z" fill="#8a1c2e"/>
<path d="M327.7 522.86 L329.3 525.66 L326.1 525.66 Z" fill="#8a1c2e"/>
<path d="M340.3 517.18 L341.9 519.98 L338.7 519.98 Z" fill="#8a1c2e"/>
<path d="M352.9 511.17 L354.5 513.97 L351.3 513.97 Z" fill="#8a1c2e"/>
<circle cx="302.4" cy="507.69" r="1.5" fill="#1b2c42"/>
<circle cx="315" cy="508.69" r="1.5" fill="#1b2c42"/>
<circle cx="327.7" cy="509.28" r="1.5" fill="#1b2c42"/>
<circle cx="340.3" cy="507.06" r="1.5" fill="#1b2c42"/>
<circle cx="352.9" cy="501.63" r="1.5" fill="#1b2c42"/>
<circle cx="299.4" cy="498.75" r="0.95" fill="#262626"/>
<circle cx="302.4" cy="498.75" r="0.95" fill="#262626"/>
<circle cx="305.4" cy="498.75" r="0.95" fill="#262626"/>
<circle cx="313.5" cy="500.6" r="0.95" fill="#262626"/>
<circle cx="316.5" cy="500.6" r="0.95" fill="#262626"/>
<circle cx="326.2" cy="501.9" r="0.95" fill="#262626"/>
<circle cx="329.2" cy="501.9" r="0.95" fill="#262626"/>
<circle cx="340.3" cy="499" r="0.95" fill="#262626"/>
<circle cx="352.9" cy="491.9" r="0.95" fill="#262626"/>
<text x="374.5" y="363" font-size="10.6" text-anchor="start" font-weight="bold" fill="#262626" stroke="#262626" stroke-width="0.6">E</text>
<rect x="389.8" y="358.6" width="1.5" height="4.9" fill="#262626"/>
<rect x="389.8" y="356.6" width="1.5" height="1.45" fill="#262626"/>
<text x="391.95" y="363.5" font-size="8.9" font-weight="bold" fill="#262626" stroke="#262626" stroke-width="0.1">v</text>
<line x1="420" y1="371" x2="420" y2="425.9" stroke="#0a0a0a" stroke-width="1.35"/>
<line x1="417.4" y1="425.4" x2="420" y2="425.4" stroke="#0a0a0a" stroke-width="1.1"/>
<text x="414.4" y="428.39" font-size="8.3" text-anchor="end" fill="#262626" stroke="#262626" stroke-width="0.1">0</text>
<line x1="417.4" y1="412.3" x2="420" y2="412.3" stroke="#0a0a0a" stroke-width="1.1"/>
<text x="414.4" y="415.29" font-size="8.3" text-anchor="end" fill="#262626" stroke="#262626" stroke-width="0.1">10</text>
<line x1="417.4" y1="399.2" x2="420" y2="399.2" stroke="#0a0a0a" stroke-width="1.1"/>
<text x="414.4" y="402.19" font-size="8.3" text-anchor="end" fill="#262626" stroke="#262626" stroke-width="0.1">20</text>
<line x1="417.4" y1="386.1" x2="420" y2="386.1" stroke="#0a0a0a" stroke-width="1.1"/>
<text x="414.4" y="389.09" font-size="8.3" text-anchor="end" fill="#262626" stroke="#262626" stroke-width="0.1">30</text>
<line x1="417.4" y1="373" x2="420" y2="373" stroke="#0a0a0a" stroke-width="1.1"/>
<text x="414.4" y="375.99" font-size="8.3" text-anchor="end" fill="#262626" stroke="#262626" stroke-width="0.1">40</text>
<text transform="translate(398.6 398.6) rotate(-90)" x="0" y="0" font-size="9" text-anchor="middle" fill="#262626" stroke="#262626" stroke-width="0.25" textLength="41.4" lengthAdjust="spacingAndGlyphs">Lag time (min)</text>
<line x1="419.5" y1="425.4" x2="480.3" y2="425.4" stroke="#0a0a0a" stroke-width="1.1"/>
<line x1="426.5" y1="425.4" x2="426.5" y2="427.6" stroke="#0a0a0a" stroke-width="0.9"/>
<text transform="translate(429.4 434.8) rotate(-45)" x="0" y="0" font-size="8.2" text-anchor="end" fill="#262626" stroke="#262626" stroke-width="0.18" letter-spacing="0.05">0.10</text>
<line x1="439" y1="425.4" x2="439" y2="427.6" stroke="#0a0a0a" stroke-width="0.9"/>
<text transform="translate(441.9 434.8) rotate(-45)" x="0" y="0" font-size="8.2" text-anchor="end" fill="#262626" stroke="#262626" stroke-width="0.18" letter-spacing="0.05">0.30</text>
<line x1="451.6" y1="425.4" x2="451.6" y2="427.6" stroke="#0a0a0a" stroke-width="0.9"/>
<text transform="translate(454.5 434.8) rotate(-45)" x="0" y="0" font-size="8.2" text-anchor="end" fill="#262626" stroke="#262626" stroke-width="0.18" letter-spacing="0.05">1.00</text>
<line x1="464.3" y1="425.4" x2="464.3" y2="427.6" stroke="#0a0a0a" stroke-width="0.9"/>
<text transform="translate(467.2 434.8) rotate(-45)" x="0" y="0" font-size="8.2" text-anchor="end" fill="#262626" stroke="#262626" stroke-width="0.18" letter-spacing="0.05">3.30</text>
<line x1="476.9" y1="425.4" x2="476.9" y2="427.6" stroke="#0a0a0a" stroke-width="0.9"/>
<text transform="translate(479.8 434.8) rotate(-45)" x="0" y="0" font-size="8.2" text-anchor="end" fill="#262626" stroke="#262626" stroke-width="0.18" letter-spacing="0.05">10.00</text>
<text x="450.15" y="461.4" font-size="9.6" text-anchor="middle" fill="#262626" stroke="#262626" stroke-width="0.25" textLength="42.5" lengthAdjust="spacingAndGlyphs">Thrombin (nM)</text>
<line x1="426.5" y1="395.27" x2="426.5" y2="392.13" stroke="#e0788a" stroke-width="0.7"/>
<line x1="425.2" y1="392.13" x2="427.8" y2="392.13" stroke="#e0788a" stroke-width="0.7"/>
<line x1="439" y1="406.67" x2="439" y2="403.92" stroke="#e0788a" stroke-width="0.7"/>
<line x1="437.7" y1="403.92" x2="440.3" y2="403.92" stroke="#e0788a" stroke-width="0.7"/>
<line x1="451.6" y1="414.66" x2="451.6" y2="411.91" stroke="#e0788a" stroke-width="0.7"/>
<line x1="450.3" y1="411.91" x2="452.9" y2="411.91" stroke="#e0788a" stroke-width="0.7"/>
<line x1="464.3" y1="417.41" x2="464.3" y2="416.75" stroke="#e0788a" stroke-width="0.7"/>
<line x1="463" y1="416.75" x2="465.6" y2="416.75" stroke="#e0788a" stroke-width="0.7"/>
<line x1="476.9" y1="419.9" x2="476.9" y2="419.37" stroke="#e0788a" stroke-width="0.7"/>
<line x1="475.6" y1="419.37" x2="478.2" y2="419.37" stroke="#e0788a" stroke-width="0.7"/>
<line x1="426.5" y1="415.97" x2="426.5" y2="415.44" stroke="#6f9cc4" stroke-width="0.7"/>
<line x1="425.2" y1="415.44" x2="427.8" y2="415.44" stroke="#6f9cc4" stroke-width="0.7"/>
<line x1="439" y1="417.8" x2="439" y2="417.28" stroke="#6f9cc4" stroke-width="0.7"/>
<line x1="437.7" y1="417.28" x2="440.3" y2="417.28" stroke="#6f9cc4" stroke-width="0.7"/>
<polyline points="426.5,395.27 439,406.67 451.6,414.66 464.3,417.41 476.9,419.9" fill="none" stroke="#d5475f" stroke-width="1.0"/>
<polyline points="426.5,415.97 439,417.8 451.6,419.24 464.3,421.34 476.9,422.52" fill="none" stroke="#5f84a8" stroke-width="1.0"/>
<path d="M426.5 393.57 L428.1 396.37 L424.9 396.37 Z" fill="#8a1c2e"/>
<path d="M439 404.97 L440.6 407.77 L437.4 407.77 Z" fill="#8a1c2e"/>
<path d="M451.6 412.96 L453.2 415.76 L450 415.76 Z" fill="#8a1c2e"/>
<path d="M464.3 415.71 L465.9 418.51 L462.7 418.51 Z" fill="#8a1c2e"/>
<path d="M476.9 418.2 L478.5 421 L475.3 421 Z" fill="#8a1c2e"/>
<circle cx="426.5" cy="415.97" r="1.5" fill="#1b2c42"/>
<circle cx="439" cy="417.8" r="1.5" fill="#1b2c42"/>
<circle cx="451.6" cy="419.24" r="1.5" fill="#1b2c42"/>
<circle cx="464.3" cy="421.34" r="1.5" fill="#1b2c42"/>
<circle cx="476.9" cy="422.52" r="1.5" fill="#1b2c42"/>
<circle cx="422" cy="388.4" r="0.95" fill="#262626"/>
<circle cx="425" cy="388.4" r="0.95" fill="#262626"/>
<circle cx="428" cy="388.4" r="0.95" fill="#262626"/>
<circle cx="431" cy="388.4" r="0.95" fill="#262626"/>
<circle cx="434.5" cy="399.2" r="0.95" fill="#262626"/>
<circle cx="437.5" cy="399.2" r="0.95" fill="#262626"/>
<circle cx="440.5" cy="399.2" r="0.95" fill="#262626"/>
<circle cx="443.5" cy="399.2" r="0.95" fill="#262626"/>
<line x1="486.9" y1="384.6" x2="495.8" y2="384.6" stroke="#5f84a8" stroke-width="1.1"/>
<circle cx="491.4" cy="384.6" r="1.5" fill="#1b2c42"/>
<line x1="486.9" y1="391.8" x2="495.8" y2="391.8" stroke="#d5475f" stroke-width="1.1"/>
<path d="M491.4 390.2 L493 392.9 L489.8 392.9 Z" fill="#8a1c2e"/>
<text x="498.7" y="387.2" font-size="7.3" text-anchor="start" fill="#262626" stroke="#262626" stroke-width="0.1" textLength="12.9" lengthAdjust="spacingAndGlyphs">WB</text>
<text x="498.7" y="394.4" font-size="7.3" text-anchor="start" fill="#262626" stroke="#262626" stroke-width="0.1" textLength="14.2" lengthAdjust="spacingAndGlyphs">PRP</text>
<text x="374.5" y="476.3" font-size="10.6" text-anchor="start" font-weight="bold" fill="#262626" stroke="#262626" stroke-width="0.6">F</text>
<rect x="389.8" y="471.9" width="1.5" height="4.9" fill="#262626"/>
<rect x="389.8" y="469.9" width="1.5" height="1.45" fill="#262626"/>
<text x="391.95" y="476.8" font-size="8.9" font-weight="bold" fill="#262626" stroke="#262626" stroke-width="0.1">v</text>
<line x1="420" y1="484.1" x2="420" y2="538.8" stroke="#0a0a0a" stroke-width="1.35"/>
<line x1="417.4" y1="538.3" x2="420" y2="538.3" stroke="#0a0a0a" stroke-width="1.1"/>
<text x="414.4" y="541.29" font-size="8.3" text-anchor="end" fill="#262626" stroke="#262626" stroke-width="0.1">0</text>
<line x1="417.4" y1="527.86" x2="420" y2="527.86" stroke="#0a0a0a" stroke-width="1.1"/>
<text x="414.4" y="530.85" font-size="8.3" text-anchor="end" fill="#262626" stroke="#262626" stroke-width="0.1">50</text>
<line x1="417.4" y1="517.42" x2="420" y2="517.42" stroke="#0a0a0a" stroke-width="1.1"/>
<text x="414.4" y="520.41" font-size="8.3" text-anchor="end" fill="#262626" stroke="#262626" stroke-width="0.1">100</text>
<line x1="417.4" y1="506.98" x2="420" y2="506.98" stroke="#0a0a0a" stroke-width="1.1"/>
<text x="414.4" y="509.97" font-size="8.3" text-anchor="end" fill="#262626" stroke="#262626" stroke-width="0.1">150</text>
<line x1="417.4" y1="496.54" x2="420" y2="496.54" stroke="#0a0a0a" stroke-width="1.1"/>
<text x="414.4" y="499.53" font-size="8.3" text-anchor="end" fill="#262626" stroke="#262626" stroke-width="0.1">200</text>
<line x1="417.4" y1="486.1" x2="420" y2="486.1" stroke="#0a0a0a" stroke-width="1.1"/>
<text x="414.4" y="489.09" font-size="8.3" text-anchor="end" fill="#262626" stroke="#262626" stroke-width="0.1">250</text>
<text transform="translate(395.4 511.2) rotate(-90)" x="0" y="0" font-size="9" text-anchor="middle" fill="#262626" stroke="#262626" stroke-width="0.25" textLength="29.5" lengthAdjust="spacingAndGlyphs">Peak (nM)</text>
<line x1="419.5" y1="538.3" x2="480.3" y2="538.3" stroke="#0a0a0a" stroke-width="1.1"/>
<line x1="426.5" y1="538.3" x2="426.5" y2="540.5" stroke="#0a0a0a" stroke-width="0.9"/>
<text transform="translate(429.4 547.7) rotate(-45)" x="0" y="0" font-size="8.2" text-anchor="end" fill="#262626" stroke="#262626" stroke-width="0.18" letter-spacing="0.05">0.10</text>
<line x1="439" y1="538.3" x2="439" y2="540.5" stroke="#0a0a0a" stroke-width="0.9"/>
<text transform="translate(441.9 547.7) rotate(-45)" x="0" y="0" font-size="8.2" text-anchor="end" fill="#262626" stroke="#262626" stroke-width="0.18" letter-spacing="0.05">0.30</text>
<line x1="451.6" y1="538.3" x2="451.6" y2="540.5" stroke="#0a0a0a" stroke-width="0.9"/>
<text transform="translate(454.5 547.7) rotate(-45)" x="0" y="0" font-size="8.2" text-anchor="end" fill="#262626" stroke="#262626" stroke-width="0.18" letter-spacing="0.05">1.00</text>
<line x1="464.3" y1="538.3" x2="464.3" y2="540.5" stroke="#0a0a0a" stroke-width="0.9"/>
<text transform="translate(467.2 547.7) rotate(-45)" x="0" y="0" font-size="8.2" text-anchor="end" fill="#262626" stroke="#262626" stroke-width="0.18" letter-spacing="0.05">3.30</text>
<line x1="476.9" y1="538.3" x2="476.9" y2="540.5" stroke="#0a0a0a" stroke-width="0.9"/>
<text transform="translate(479.8 547.7) rotate(-45)" x="0" y="0" font-size="8.2" text-anchor="end" fill="#262626" stroke="#262626" stroke-width="0.18" letter-spacing="0.05">10.00</text>
<text x="450.15" y="574.3" font-size="9.6" text-anchor="middle" fill="#262626" stroke="#262626" stroke-width="0.25" textLength="42.5" lengthAdjust="spacingAndGlyphs">Thrombin (nM)</text>
<line x1="426.5" y1="527.02" x2="426.5" y2="522.64" stroke="#e0788a" stroke-width="0.7"/>
<line x1="425.2" y1="522.64" x2="427.8" y2="522.64" stroke="#e0788a" stroke-width="0.7"/>
<line x1="439" y1="523.06" x2="439" y2="520.76" stroke="#e0788a" stroke-width="0.7"/>
<line x1="437.7" y1="520.76" x2="440.3" y2="520.76" stroke="#e0788a" stroke-width="0.7"/>
<line x1="451.6" y1="524.04" x2="451.6" y2="518.88" stroke="#e0788a" stroke-width="0.7"/>
<line x1="450.3" y1="518.88" x2="452.9" y2="518.88" stroke="#e0788a" stroke-width="0.7"/>
<line x1="464.3" y1="528.65" x2="464.3" y2="526.19" stroke="#e0788a" stroke-width="0.7"/>
<line x1="463" y1="526.19" x2="465.6" y2="526.19" stroke="#e0788a" stroke-width="0.7"/>
<line x1="476.9" y1="518.88" x2="476.9" y2="517.42" stroke="#e0788a" stroke-width="0.7"/>
<line x1="475.6" y1="517.42" x2="478.2" y2="517.42" stroke="#e0788a" stroke-width="0.7"/>
<line x1="426.5" y1="504.14" x2="426.5" y2="499.73" stroke="#6f9cc4" stroke-width="0.7"/>
<line x1="425.2" y1="499.73" x2="427.8" y2="499.73" stroke="#6f9cc4" stroke-width="0.7"/>
<line x1="439" y1="505.14" x2="439" y2="494.45" stroke="#6f9cc4" stroke-width="0.7"/>
<line x1="437.7" y1="494.45" x2="440.3" y2="494.45" stroke="#6f9cc4" stroke-width="0.7"/>
<line x1="451.6" y1="510.15" x2="451.6" y2="500.38" stroke="#6f9cc4" stroke-width="0.7"/>
<line x1="450.3" y1="500.38" x2="452.9" y2="500.38" stroke="#6f9cc4" stroke-width="0.7"/>
<line x1="464.3" y1="513.29" x2="464.3" y2="498.21" stroke="#6f9cc4" stroke-width="0.7"/>
<line x1="463" y1="498.21" x2="465.6" y2="498.21" stroke="#6f9cc4" stroke-width="0.7"/>
<line x1="476.9" y1="516.79" x2="476.9" y2="515.33" stroke="#6f9cc4" stroke-width="0.7"/>
<line x1="475.6" y1="515.33" x2="478.2" y2="515.33" stroke="#6f9cc4" stroke-width="0.7"/>
<path d="M426.5 527.02 L426.8 526.93 L427.11 526.82 L427.41 526.71 L427.72 526.6 L428.02 526.49 L428.33 526.37 L428.63 526.25 L428.94 526.13 L429.24 526 L429.55 525.88 L429.85 525.75 L430.16 525.62 L430.46 525.49 L430.77 525.37 L431.07 525.24 L431.38 525.11 L431.68 524.98 L431.99 524.85 L432.29 524.73 L432.6 524.61 L432.9 524.49 L433.21 524.37 L433.51 524.25 L433.82 524.14 L434.12 524.03 L434.43 523.93 L434.73 523.82 L435.04 523.73 L435.34 523.64 L435.65 523.55 L435.95 523.47 L436.26 523.4 L436.56 523.33 L436.87 523.27 L437.17 523.22 L437.48 523.17 L437.78 523.13 L438.09 523.1 L438.39 523.08 L438.7 523.06 L439 523.06 L439.3 523.06 L439.6 523.06 L439.9 523.06 L440.2 523.07 L440.5 523.08 L440.8 523.08 L441.1 523.09 L441.4 523.1 L441.7 523.12 L442 523.13 L442.3 523.14 L442.6 523.16 L442.9 523.17 L443.2 523.19 L443.5 523.21 L443.8 523.23 L444.1 523.25 L444.4 523.27 L444.7 523.3 L445 523.32 L445.3 523.35 L445.6 523.37 L445.9 523.4 L446.2 523.43 L446.5 523.46 L446.8 523.48 L447.1 523.51 L447.4 523.55 L447.7 523.58 L448 523.61 L448.3 523.64 L448.6 523.68 L448.9 523.71 L449.2 523.74 L449.5 523.78 L449.8 523.82 L450.1 523.85 L450.4 523.89 L450.7 523.93 L451 523.96 L451.3 524 L451.6 524.04 L451.9 524.08 L452.2 524.14 L452.51 524.21 L452.81 524.28 L453.11 524.37 L453.41 524.47 L453.72 524.57 L454.02 524.68 L454.32 524.8 L454.62 524.92 L454.93 525.05 L455.23 525.19 L455.53 525.33 L455.83 525.48 L456.14 525.62 L456.44 525.78 L456.74 525.93 L457.04 526.08 L457.35 526.24 L457.65 526.39 L457.95 526.55 L458.25 526.7 L458.55 526.86 L458.86 527.01 L459.16 527.16 L459.46 527.3 L459.76 527.44 L460.07 527.58 L460.37 527.71 L460.67 527.83 L460.97 527.95 L461.28 528.06 L461.58 528.17 L461.88 528.26 L462.18 528.35 L462.49 528.43 L462.79 528.49 L463.09 528.55 L463.39 528.59 L463.7 528.63 L464 528.65 L464.3 528.65 L464.61 528.64 L464.91 528.61 L465.22 528.55 L465.53 528.48 L465.84 528.38 L466.14 528.27 L466.45 528.13 L466.76 527.98 L467.07 527.82 L467.37 527.63 L467.68 527.44 L467.99 527.22 L468.3 527 L468.6 526.76 L468.91 526.52 L469.22 526.26 L469.52 525.99 L469.83 525.71 L470.14 525.43 L470.45 525.14 L470.75 524.84 L471.06 524.54 L471.37 524.23 L471.68 523.92 L471.98 523.6 L472.29 523.29 L472.6 522.97 L472.9 522.65 L473.21 522.33 L473.52 522.02 L473.83 521.7 L474.13 521.39 L474.44 521.09 L474.75 520.79 L475.06 520.49 L475.36 520.2 L475.67 519.92 L475.98 519.65 L476.29 519.38 L476.59 519.13 L476.9 518.88" fill="none" stroke="#d5475f" stroke-width="1.0"/>
<path d="M426.5 504.14 L426.8 504.16 L427.11 504.19 L427.41 504.21 L427.72 504.23 L428.02 504.25 L428.33 504.27 L428.63 504.3 L428.94 504.32 L429.24 504.34 L429.55 504.35 L429.85 504.37 L430.16 504.39 L430.46 504.41 L430.77 504.43 L431.07 504.45 L431.38 504.47 L431.68 504.49 L431.99 504.51 L432.29 504.53 L432.6 504.55 L432.9 504.57 L433.21 504.59 L433.51 504.61 L433.82 504.63 L434.12 504.66 L434.43 504.68 L434.73 504.7 L435.04 504.73 L435.34 504.75 L435.65 504.78 L435.95 504.81 L436.26 504.83 L436.56 504.86 L436.87 504.89 L437.17 504.93 L437.48 504.96 L437.78 504.99 L438.09 505.03 L438.39 505.06 L438.7 505.1 L439 505.14 L439.3 505.19 L439.6 505.24 L439.9 505.3 L440.2 505.37 L440.5 505.45 L440.8 505.53 L441.1 505.62 L441.4 505.72 L441.7 505.82 L442 505.93 L442.3 506.04 L442.6 506.16 L442.9 506.28 L443.2 506.41 L443.5 506.54 L443.8 506.67 L444.1 506.81 L444.4 506.95 L444.7 507.09 L445 507.23 L445.3 507.38 L445.6 507.53 L445.9 507.67 L446.2 507.82 L446.5 507.97 L446.8 508.12 L447.1 508.26 L447.4 508.41 L447.7 508.56 L448 508.7 L448.3 508.84 L448.6 508.98 L448.9 509.12 L449.2 509.25 L449.5 509.38 L449.8 509.5 L450.1 509.62 L450.4 509.74 L450.7 509.85 L451 509.96 L451.3 510.06 L451.6 510.15 L451.9 510.24 L452.2 510.33 L452.51 510.42 L452.81 510.51 L453.11 510.59 L453.41 510.68 L453.72 510.76 L454.02 510.84 L454.32 510.92 L454.62 510.99 L454.93 511.07 L455.23 511.14 L455.53 511.22 L455.83 511.29 L456.14 511.37 L456.44 511.44 L456.74 511.51 L457.04 511.58 L457.35 511.65 L457.65 511.72 L457.95 511.79 L458.25 511.86 L458.55 511.93 L458.86 511.99 L459.16 512.06 L459.46 512.13 L459.76 512.2 L460.07 512.27 L460.37 512.34 L460.67 512.41 L460.97 512.48 L461.28 512.55 L461.58 512.62 L461.88 512.69 L462.18 512.76 L462.49 512.83 L462.79 512.9 L463.09 512.98 L463.39 513.05 L463.7 513.13 L464 513.21 L464.3 513.29 L464.61 513.37 L464.91 513.45 L465.22 513.53 L465.53 513.61 L465.84 513.69 L466.14 513.78 L466.45 513.86 L466.76 513.94 L467.07 514.03 L467.37 514.11 L467.68 514.2 L467.99 514.28 L468.3 514.37 L468.6 514.45 L468.91 514.54 L469.22 514.62 L469.52 514.71 L469.83 514.8 L470.14 514.88 L470.45 514.97 L470.75 515.06 L471.06 515.14 L471.37 515.23 L471.68 515.32 L471.98 515.4 L472.29 515.49 L472.6 515.58 L472.9 515.67 L473.21 515.75 L473.52 515.84 L473.83 515.93 L474.13 516.02 L474.44 516.1 L474.75 516.19 L475.06 516.28 L475.36 516.36 L475.67 516.45 L475.98 516.54 L476.29 516.62 L476.59 516.71 L476.9 516.79" fill="none" stroke="#5f84a8" stroke-width="1.0"/>
<path d="M426.5 525.32 L428.1 528.12 L424.9 528.12 Z" fill="#8a1c2e"/>
<path d="M439 521.36 L440.6 524.16 L437.4 524.16 Z" fill="#8a1c2e"/>
<path d="M451.6 522.34 L453.2 525.14 L450 525.14 Z" fill="#8a1c2e"/>
<path d="M464.3 526.95 L465.9 529.75 L462.7 529.75 Z" fill="#8a1c2e"/>
<path d="M476.9 517.18 L478.5 519.98 L475.3 519.98 Z" fill="#8a1c2e"/>
<circle cx="426.5" cy="504.14" r="1.5" fill="#1b2c42"/>
<circle cx="439" cy="505.14" r="1.5" fill="#1b2c42"/>
<circle cx="451.6" cy="510.15" r="1.5" fill="#1b2c42"/>
<circle cx="464.3" cy="513.29" r="1.5" fill="#1b2c42"/>
<circle cx="476.9" cy="516.79" r="1.5" fill="#1b2c42"/>
<circle cx="425" cy="496.9" r="0.95" fill="#262626"/>
<circle cx="428" cy="496.9" r="0.95" fill="#262626"/>
<circle cx="439" cy="491.6" r="0.95" fill="#262626"/>
<line x1="486.9" y1="499.1" x2="495.8" y2="499.1" stroke="#5f84a8" stroke-width="1.1"/>
<circle cx="491.4" cy="499.1" r="1.5" fill="#1b2c42"/>
<line x1="486.9" y1="506.3" x2="495.8" y2="506.3" stroke="#d5475f" stroke-width="1.1"/>
<path d="M491.4 504.7 L493 507.4 L489.8 507.4 Z" fill="#8a1c2e"/>
<text x="498.7" y="501.7" font-size="7.3" text-anchor="start" fill="#262626" stroke="#262626" stroke-width="0.1" textLength="12.9" lengthAdjust="spacingAndGlyphs">WB</text>
<text x="498.7" y="508.9" font-size="7.3" text-anchor="start" fill="#262626" stroke="#262626" stroke-width="0.1" textLength="14.2" lengthAdjust="spacingAndGlyphs">PRP</text>
<rect x="0.5" y="0.5" width="519" height="582" fill="none" stroke="#5f5f5f" stroke-width="1"/>
</svg>
</body></html>
